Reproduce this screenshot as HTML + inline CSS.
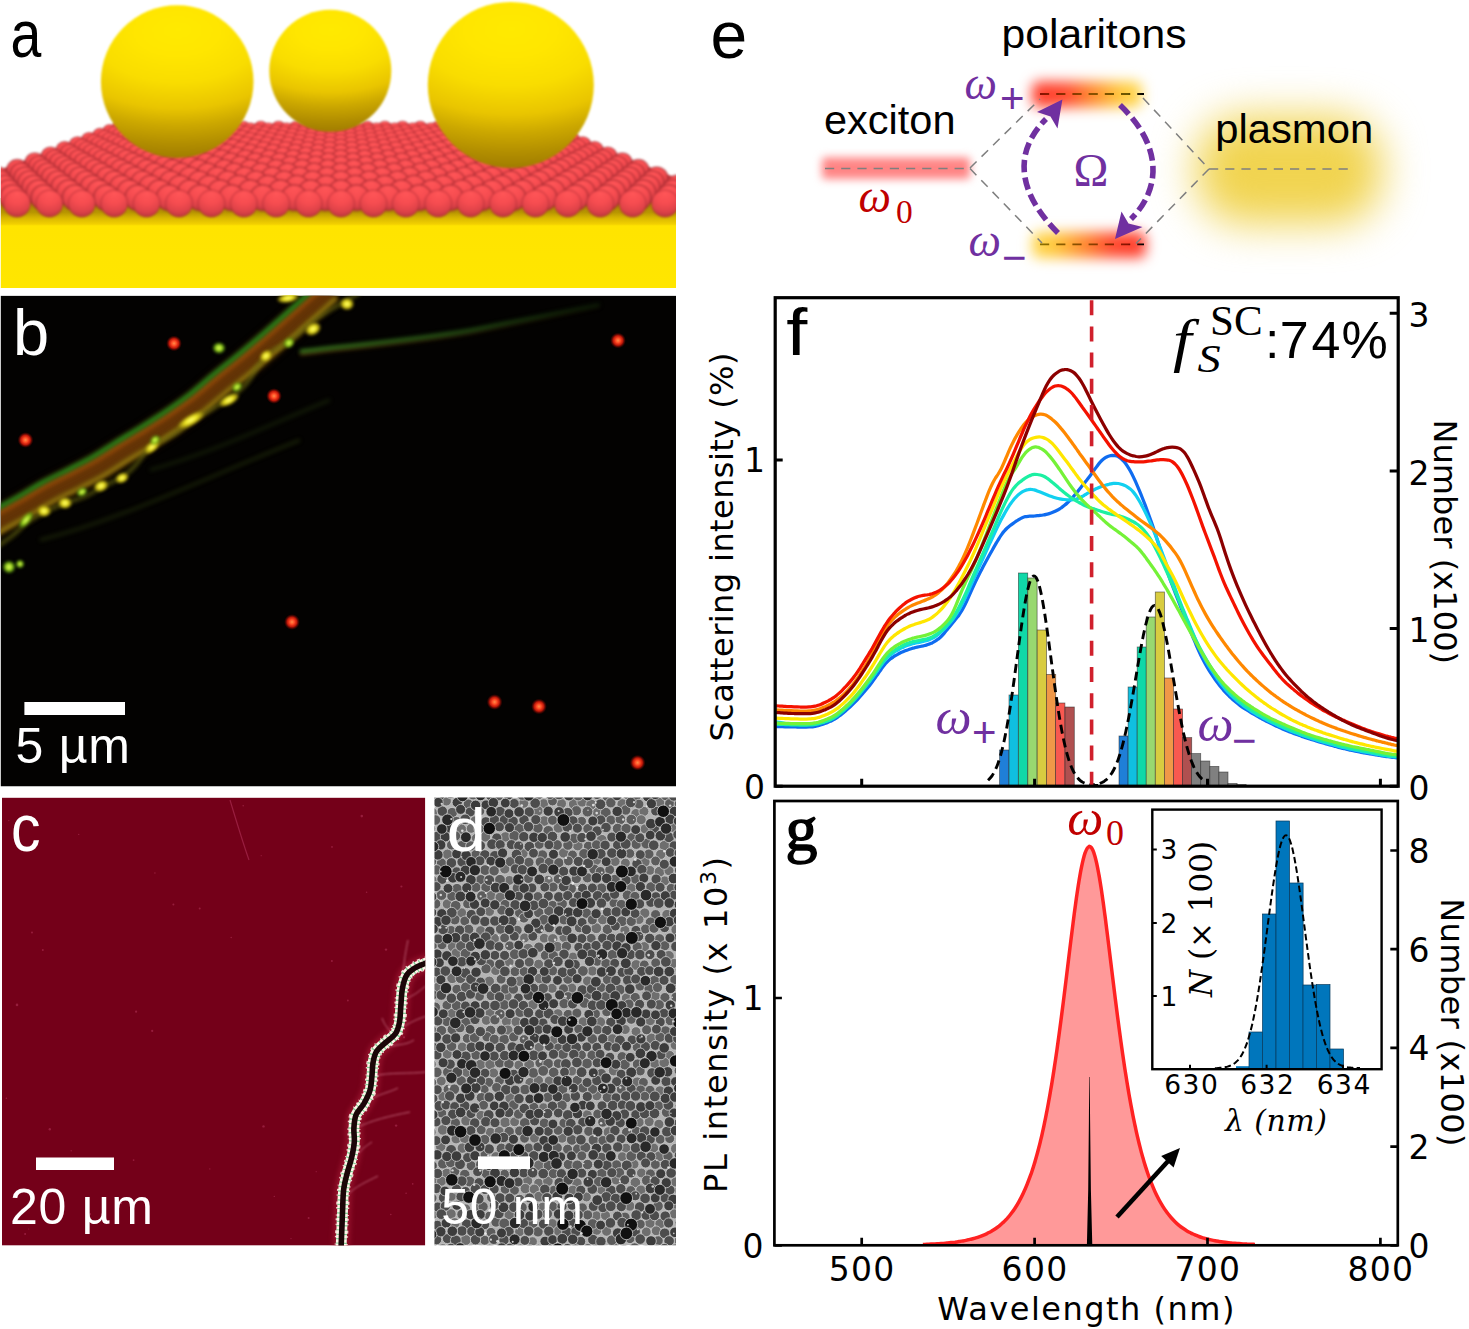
<!DOCTYPE html>
<html lang="en"><head><meta charset="utf-8"><title>Figure</title>
<style>
html,body{margin:0;padding:0;background:#fff}
svg{display:block}
filter,feGaussianBlur{color-interpolation-filters:sRGB}
.ls{font-family:"Liberation Sans",sans-serif}
.dv{font-family:"DejaVu Sans","Liberation Sans",sans-serif}
.se{font-family:"Liberation Serif","DejaVu Serif",serif}
.si{font-family:"Liberation Serif","DejaVu Serif",serif;font-style:italic}
.ds{font-family:"DejaVu Serif","Liberation Serif",serif}
.di{font-family:"DejaVu Serif","Liberation Serif",serif;font-style:italic}
</style></head><body>
<svg width="1469" height="1329" viewBox="0 0 1469 1329">
<defs>
<radialGradient id="rs" cx="0.5" cy="0.18" r="0.92" fx="0.5" fy="0.12">
<stop offset="0" stop-color="#ff5557"/><stop offset="0.4" stop-color="#f64c50"/><stop offset="0.7" stop-color="#de4248"/><stop offset="0.9" stop-color="#bc363e"/><stop offset="1" stop-color="#a02c34"/></radialGradient>
<radialGradient id="gs" cx="0.5" cy="0.22" r="0.80" fx="0.5" fy="0.16" gradientTransform="translate(0.5 0) scale(1.7 1) translate(-0.5 0)">
<stop offset="0" stop-color="#ffea00"/><stop offset="0.2" stop-color="#ffe600"/><stop offset="0.4" stop-color="#f9dd00"/><stop offset="0.6" stop-color="#e9c500"/><stop offset="0.73" stop-color="#cca800"/><stop offset="0.87" stop-color="#b28e00"/><stop offset="0.98" stop-color="#a07c00"/></radialGradient>
<radialGradient id="gs2" cx="0.5" cy="0.42" r="0.58">
<stop offset="0.7" stop-color="#a87800" stop-opacity="0"/><stop offset="0.92" stop-color="#a87800" stop-opacity="0.16"/><stop offset="1" stop-color="#9c6c00" stop-opacity="0.34"/></radialGradient>
<linearGradient id="slab" gradientUnits="userSpaceOnUse" x1="0" y1="198" x2="0" y2="288">
<stop offset="0" stop-color="#9c7c00"/><stop offset="0.16" stop-color="#b89600"/><stop offset="0.22" stop-color="#d8b600"/><stop offset="0.29" stop-color="#f2d000"/><stop offset="0.31" stop-color="#ffe400"/><stop offset="1" stop-color="#ffe600"/></linearGradient>
<clipPath id="ca"><rect x="0.8" y="0" width="675.2" height="287.9"/></clipPath>
<filter id="b1" x="-10%" y="-10%" width="120%" height="120%"><feGaussianBlur stdDeviation="0.9"/></filter>
<filter id="bsh" x="-30%" y="-60%" width="160%" height="220%"><feGaussianBlur stdDeviation="5"/></filter>

<clipPath id="cb"><rect x="0.8" y="295.7" width="675.2" height="490.9"/></clipPath>
<filter id="bb2" x="-20%" y="-20%" width="140%" height="140%"><feGaussianBlur stdDeviation="2.2"/></filter>
<filter id="bb1" x="-20%" y="-20%" width="140%" height="140%"><feGaussianBlur stdDeviation="1.5"/></filter>
<filter id="bb4" x="-20%" y="-20%" width="140%" height="140%"><feGaussianBlur stdDeviation="1.8"/></filter>
<filter id="bb3" x="-20%" y="-20%" width="140%" height="140%"><feGaussianBlur stdDeviation="3.5"/></filter>
<linearGradient id="brf" gradientUnits="userSpaceOnUse" x1="300" y1="0" x2="600" y2="0"><stop offset="0" stop-color="#3a8420"/><stop offset="0.5" stop-color="#2c6a1a" stop-opacity="0.85"/><stop offset="1" stop-color="#1c4410" stop-opacity="0.4"/></linearGradient>
<linearGradient id="brf2" gradientUnits="userSpaceOnUse" x1="300" y1="0" x2="600" y2="0"><stop offset="0" stop-color="#6a400c"/><stop offset="0.5" stop-color="#4a300a" stop-opacity="0.7"/><stop offset="1" stop-color="#2a1c06" stop-opacity="0.2"/></linearGradient>
<radialGradient id="rd"><stop offset="0" stop-color="#ff8c48"/><stop offset="0.3" stop-color="#ff4a24"/><stop offset="0.6" stop-color="#e01c0a" stop-opacity="0.85"/><stop offset="1" stop-color="#700000" stop-opacity="0"/></radialGradient>
<radialGradient id="yd"><stop offset="0" stop-color="#ffff8a"/><stop offset="0.4" stop-color="#f4ec24"/><stop offset="0.75" stop-color="#b0a010" stop-opacity="0.8"/><stop offset="1" stop-color="#605000" stop-opacity="0"/></radialGradient>
<radialGradient id="gd"><stop offset="0" stop-color="#e8ff70"/><stop offset="0.45" stop-color="#a8e020"/><stop offset="0.8" stop-color="#509010" stop-opacity="0.7"/><stop offset="1" stop-color="#204000" stop-opacity="0"/></radialGradient>

<clipPath id="cc"><rect x="2" y="797.6" width="423.3" height="448"/></clipPath>
<clipPath id="cd"><rect x="434.5" y="797.6" width="241.5" height="447.6"/></clipPath>
<filter id="bc1" x="-50%" y="-10%" width="200%" height="120%"><feGaussianBlur stdDeviation="0.8"/></filter>
<filter id="bc2" x="-50%" y="-10%" width="200%" height="120%"><feGaussianBlur stdDeviation="2.5"/></filter>
<filter id="bc0" x="-50%" y="-10%" width="200%" height="120%"><feGaussianBlur stdDeviation="0.5"/></filter>
<filter id="bd1" x="0" y="0" width="100%" height="100%"><feGaussianBlur stdDeviation="0.65"/></filter>

<filter id="be1" x="-20%" y="-120%" width="140%" height="340%"><feGaussianBlur stdDeviation="4.4"/></filter>
<filter id="be2" x="-60%" y="-100%" width="220%" height="300%"><feGaussianBlur stdDeviation="21"/></filter>
<filter id="be3" x="-30%" y="-150%" width="160%" height="400%"><feGaussianBlur stdDeviation="6.2"/></filter>
<linearGradient id="gtop" x1="0" y1="0" x2="1" y2="0"><stop offset="0" stop-color="#ff3c2c"/><stop offset="0.3" stop-color="#ff4a30"/><stop offset="0.55" stop-color="#ff8c30"/><stop offset="0.8" stop-color="#ffc83c"/><stop offset="1" stop-color="#ffd850"/></linearGradient>
<linearGradient id="gbot" x1="1" y1="0" x2="0" y2="0"><stop offset="0" stop-color="#ff3c2c"/><stop offset="0.3" stop-color="#ff4a30"/><stop offset="0.55" stop-color="#ff8c30"/><stop offset="0.8" stop-color="#ffc83c"/><stop offset="1" stop-color="#ffd850"/></linearGradient>
<linearGradient id="gl1" gradientUnits="userSpaceOnUse" x1="1040" y1="0" x2="1143" y2="0"><stop offset="0" stop-color="#8a1000"/><stop offset="0.5" stop-color="#8a5000"/><stop offset="0.85" stop-color="#6a5800"/><stop offset="1" stop-color="#000"/></linearGradient>
<linearGradient id="gl2" gradientUnits="userSpaceOnUse" x1="1040" y1="0" x2="1143" y2="0"><stop offset="0" stop-color="#8a7000"/><stop offset="0.5" stop-color="#8a4000"/><stop offset="0.85" stop-color="#8a1000"/><stop offset="1" stop-color="#000"/></linearGradient>

<clipPath id="cf"><rect x="775.2" y="297.7" width="623" height="488.5"/></clipPath>
<clipPath id="cg"><rect x="774.4" y="801" width="623.4" height="444.3"/></clipPath>
</defs>
<rect width="1469" height="1329" fill="#fff"/>
<g id="panel-a">
<g clip-path="url(#ca)">
<rect x="0" y="198" width="676" height="90" fill="url(#slab)"/>
<g filter="url(#b1)">
<path d="M110.1 128.5 L553.2 128.5 L729.8 199.5 L-80.2 199.5 Z" fill="#c83c42"/>
<g fill="#7a1c24" opacity="0.55" filter="url(#bsh)"><ellipse cx="180" cy="158" rx="60" ry="9"/><ellipse cx="331" cy="134" rx="48" ry="6"/><ellipse cx="512" cy="168" rx="66" ry="10"/></g>
<g fill="url(#rs)" stroke="#98262e" stroke-opacity="0.42" stroke-width="1.3"><circle cx="119" cy="128.5" r="7.3"/><circle cx="136.7" cy="128.5" r="7.3"/><circle cx="154.4" cy="128.5" r="7.3"/><circle cx="172.2" cy="128.5" r="7.3"/><circle cx="189.9" cy="128.5" r="7.3"/><circle cx="207.6" cy="128.5" r="7.3"/><circle cx="225.3" cy="128.5" r="7.3"/><circle cx="243.1" cy="128.5" r="7.3"/><circle cx="260.8" cy="128.5" r="7.3"/><circle cx="278.5" cy="128.5" r="7.3"/><circle cx="296.2" cy="128.5" r="7.3"/><circle cx="314" cy="128.5" r="7.3"/><circle cx="331.7" cy="128.5" r="7.3"/><circle cx="349.4" cy="128.5" r="7.3"/><circle cx="367.1" cy="128.5" r="7.3"/><circle cx="384.9" cy="128.5" r="7.3"/><circle cx="402.6" cy="128.5" r="7.3"/><circle cx="420.3" cy="128.5" r="7.3"/><circle cx="438" cy="128.5" r="7.3"/><circle cx="455.8" cy="128.5" r="7.3"/><circle cx="473.5" cy="128.5" r="7.3"/><circle cx="491.2" cy="128.5" r="7.3"/><circle cx="508.9" cy="128.5" r="7.3"/><circle cx="526.7" cy="128.5" r="7.3"/><circle cx="544.4" cy="128.5" r="7.3"/></g>
<g fill="url(#rs)" stroke="#98262e" stroke-opacity="0.42" stroke-width="1.3"><circle cx="123.6" cy="130.4" r="7.5"/><circle cx="141.7" cy="130.4" r="7.5"/><circle cx="159.8" cy="130.4" r="7.5"/><circle cx="177.8" cy="130.4" r="7.5"/><circle cx="195.9" cy="130.4" r="7.5"/><circle cx="214" cy="130.4" r="7.5"/><circle cx="232.1" cy="130.4" r="7.5"/><circle cx="250.2" cy="130.4" r="7.5"/><circle cx="268.2" cy="130.4" r="7.5"/><circle cx="286.3" cy="130.4" r="7.5"/><circle cx="304.4" cy="130.4" r="7.5"/><circle cx="322.5" cy="130.4" r="7.5"/><circle cx="340.6" cy="130.4" r="7.5"/><circle cx="358.6" cy="130.4" r="7.5"/><circle cx="376.7" cy="130.4" r="7.5"/><circle cx="394.8" cy="130.4" r="7.5"/><circle cx="412.9" cy="130.4" r="7.5"/><circle cx="431" cy="130.4" r="7.5"/><circle cx="449" cy="130.4" r="7.5"/><circle cx="467.1" cy="130.4" r="7.5"/><circle cx="485.2" cy="130.4" r="7.5"/><circle cx="503.3" cy="130.4" r="7.5"/><circle cx="521.4" cy="130.4" r="7.5"/><circle cx="539.4" cy="130.4" r="7.5"/></g>
<g fill="url(#rs)" stroke="#98262e" stroke-opacity="0.42" stroke-width="1.4"><circle cx="109.9" cy="132.2" r="7.6"/><circle cx="128.4" cy="132.2" r="7.6"/><circle cx="146.8" cy="132.2" r="7.6"/><circle cx="165.3" cy="132.2" r="7.6"/><circle cx="183.7" cy="132.2" r="7.6"/><circle cx="202.2" cy="132.2" r="7.6"/><circle cx="220.6" cy="132.2" r="7.6"/><circle cx="239.1" cy="132.2" r="7.6"/><circle cx="257.5" cy="132.2" r="7.6"/><circle cx="276" cy="132.2" r="7.6"/><circle cx="294.4" cy="132.2" r="7.6"/><circle cx="312.9" cy="132.2" r="7.6"/><circle cx="331.3" cy="132.2" r="7.6"/><circle cx="349.8" cy="132.2" r="7.6"/><circle cx="368.2" cy="132.2" r="7.6"/><circle cx="386.7" cy="132.2" r="7.6"/><circle cx="405.1" cy="132.2" r="7.6"/><circle cx="423.6" cy="132.2" r="7.6"/><circle cx="442.1" cy="132.2" r="7.6"/><circle cx="460.5" cy="132.2" r="7.6"/><circle cx="479" cy="132.2" r="7.6"/><circle cx="497.4" cy="132.2" r="7.6"/><circle cx="515.9" cy="132.2" r="7.6"/><circle cx="534.3" cy="132.2" r="7.6"/><circle cx="552.8" cy="132.2" r="7.6"/></g>
<g fill="url(#rs)" stroke="#98262e" stroke-opacity="0.42" stroke-width="1.4"><circle cx="114.5" cy="134.2" r="7.8"/><circle cx="133.4" cy="134.2" r="7.8"/><circle cx="152.2" cy="134.2" r="7.8"/><circle cx="171" cy="134.2" r="7.8"/><circle cx="189.9" cy="134.2" r="7.8"/><circle cx="208.7" cy="134.2" r="7.8"/><circle cx="227.6" cy="134.2" r="7.8"/><circle cx="246.4" cy="134.2" r="7.8"/><circle cx="265.2" cy="134.2" r="7.8"/><circle cx="284.1" cy="134.2" r="7.8"/><circle cx="302.9" cy="134.2" r="7.8"/><circle cx="321.7" cy="134.2" r="7.8"/><circle cx="340.6" cy="134.2" r="7.8"/><circle cx="359.4" cy="134.2" r="7.8"/><circle cx="378.3" cy="134.2" r="7.8"/><circle cx="397.1" cy="134.2" r="7.8"/><circle cx="415.9" cy="134.2" r="7.8"/><circle cx="434.8" cy="134.2" r="7.8"/><circle cx="453.6" cy="134.2" r="7.8"/><circle cx="472.4" cy="134.2" r="7.8"/><circle cx="491.3" cy="134.2" r="7.8"/><circle cx="510.1" cy="134.2" r="7.8"/><circle cx="529" cy="134.2" r="7.8"/><circle cx="547.8" cy="134.2" r="7.8"/></g>
<g fill="url(#rs)" stroke="#98262e" stroke-opacity="0.42" stroke-width="1.4"><circle cx="100.1" cy="136.3" r="8"/><circle cx="119.3" cy="136.3" r="8"/><circle cx="138.6" cy="136.3" r="8"/><circle cx="157.8" cy="136.3" r="8"/><circle cx="177.1" cy="136.3" r="8"/><circle cx="196.3" cy="136.3" r="8"/><circle cx="215.5" cy="136.3" r="8"/><circle cx="234.8" cy="136.3" r="8"/><circle cx="254" cy="136.3" r="8"/><circle cx="273.3" cy="136.3" r="8"/><circle cx="292.5" cy="136.3" r="8"/><circle cx="311.7" cy="136.3" r="8"/><circle cx="331" cy="136.3" r="8"/><circle cx="350.2" cy="136.3" r="8"/><circle cx="369.5" cy="136.3" r="8"/><circle cx="388.7" cy="136.3" r="8"/><circle cx="407.9" cy="136.3" r="8"/><circle cx="427.2" cy="136.3" r="8"/><circle cx="446.4" cy="136.3" r="8"/><circle cx="465.7" cy="136.3" r="8"/><circle cx="484.9" cy="136.3" r="8"/><circle cx="504.1" cy="136.3" r="8"/><circle cx="523.4" cy="136.3" r="8"/><circle cx="542.6" cy="136.3" r="8"/><circle cx="561.9" cy="136.3" r="8"/></g>
<g fill="url(#rs)" stroke="#98262e" stroke-opacity="0.42" stroke-width="1.5"><circle cx="104.7" cy="138.4" r="8.1"/><circle cx="124.3" cy="138.4" r="8.1"/><circle cx="144" cy="138.4" r="8.1"/><circle cx="163.7" cy="138.4" r="8.1"/><circle cx="183.3" cy="138.4" r="8.1"/><circle cx="203" cy="138.4" r="8.1"/><circle cx="222.6" cy="138.4" r="8.1"/><circle cx="242.3" cy="138.4" r="8.1"/><circle cx="262" cy="138.4" r="8.1"/><circle cx="281.6" cy="138.4" r="8.1"/><circle cx="301.3" cy="138.4" r="8.1"/><circle cx="320.9" cy="138.4" r="8.1"/><circle cx="340.6" cy="138.4" r="8.1"/><circle cx="360.3" cy="138.4" r="8.1"/><circle cx="379.9" cy="138.4" r="8.1"/><circle cx="399.6" cy="138.4" r="8.1"/><circle cx="419.2" cy="138.4" r="8.1"/><circle cx="438.9" cy="138.4" r="8.1"/><circle cx="458.6" cy="138.4" r="8.1"/><circle cx="478.2" cy="138.4" r="8.1"/><circle cx="497.9" cy="138.4" r="8.1"/><circle cx="517.5" cy="138.4" r="8.1"/><circle cx="537.2" cy="138.4" r="8.1"/><circle cx="556.9" cy="138.4" r="8.1"/></g>
<g fill="url(#rs)" stroke="#98262e" stroke-opacity="0.42" stroke-width="1.5"><circle cx="89.4" cy="140.7" r="8.3"/><circle cx="109.5" cy="140.7" r="8.3"/><circle cx="129.6" cy="140.7" r="8.3"/><circle cx="149.7" cy="140.7" r="8.3"/><circle cx="169.8" cy="140.7" r="8.3"/><circle cx="189.9" cy="140.7" r="8.3"/><circle cx="210" cy="140.7" r="8.3"/><circle cx="230.1" cy="140.7" r="8.3"/><circle cx="250.2" cy="140.7" r="8.3"/><circle cx="270.3" cy="140.7" r="8.3"/><circle cx="290.4" cy="140.7" r="8.3"/><circle cx="310.5" cy="140.7" r="8.3"/><circle cx="330.6" cy="140.7" r="8.3"/><circle cx="350.7" cy="140.7" r="8.3"/><circle cx="370.8" cy="140.7" r="8.3"/><circle cx="390.9" cy="140.7" r="8.3"/><circle cx="411" cy="140.7" r="8.3"/><circle cx="431.1" cy="140.7" r="8.3"/><circle cx="451.2" cy="140.7" r="8.3"/><circle cx="471.3" cy="140.7" r="8.3"/><circle cx="491.4" cy="140.7" r="8.3"/><circle cx="511.5" cy="140.7" r="8.3"/><circle cx="531.6" cy="140.7" r="8.3"/><circle cx="551.7" cy="140.7" r="8.3"/><circle cx="571.8" cy="140.7" r="8.3"/></g>
<g fill="url(#rs)" stroke="#98262e" stroke-opacity="0.42" stroke-width="1.5"><circle cx="93.9" cy="143" r="8.5"/><circle cx="114.5" cy="143" r="8.5"/><circle cx="135.1" cy="143" r="8.5"/><circle cx="155.6" cy="143" r="8.5"/><circle cx="176.2" cy="143" r="8.5"/><circle cx="196.7" cy="143" r="8.5"/><circle cx="217.3" cy="143" r="8.5"/><circle cx="237.8" cy="143" r="8.5"/><circle cx="258.4" cy="143" r="8.5"/><circle cx="279" cy="143" r="8.5"/><circle cx="299.5" cy="143" r="8.5"/><circle cx="320.1" cy="143" r="8.5"/><circle cx="340.6" cy="143" r="8.5"/><circle cx="361.2" cy="143" r="8.5"/><circle cx="381.8" cy="143" r="8.5"/><circle cx="402.3" cy="143" r="8.5"/><circle cx="422.9" cy="143" r="8.5"/><circle cx="443.4" cy="143" r="8.5"/><circle cx="464" cy="143" r="8.5"/><circle cx="484.5" cy="143" r="8.5"/><circle cx="505.1" cy="143" r="8.5"/><circle cx="525.7" cy="143" r="8.5"/><circle cx="546.2" cy="143" r="8.5"/><circle cx="566.8" cy="143" r="8.5"/></g>
<g fill="url(#rs)" stroke="#98262e" stroke-opacity="0.42" stroke-width="1.6"><circle cx="77.7" cy="145.5" r="8.7"/><circle cx="98.7" cy="145.5" r="8.7"/><circle cx="119.7" cy="145.5" r="8.7"/><circle cx="140.8" cy="145.5" r="8.7"/><circle cx="161.8" cy="145.5" r="8.7"/><circle cx="182.9" cy="145.5" r="8.7"/><circle cx="203.9" cy="145.5" r="8.7"/><circle cx="224.9" cy="145.5" r="8.7"/><circle cx="246" cy="145.5" r="8.7"/><circle cx="267" cy="145.5" r="8.7"/><circle cx="288.1" cy="145.5" r="8.7"/><circle cx="309.1" cy="145.5" r="8.7"/><circle cx="330.1" cy="145.5" r="8.7"/><circle cx="351.2" cy="145.5" r="8.7"/><circle cx="372.2" cy="145.5" r="8.7"/><circle cx="393.2" cy="145.5" r="8.7"/><circle cx="414.3" cy="145.5" r="8.7"/><circle cx="435.3" cy="145.5" r="8.7"/><circle cx="456.4" cy="145.5" r="8.7"/><circle cx="477.4" cy="145.5" r="8.7"/><circle cx="498.4" cy="145.5" r="8.7"/><circle cx="519.5" cy="145.5" r="8.7"/><circle cx="540.5" cy="145.5" r="8.7"/><circle cx="561.6" cy="145.5" r="8.7"/><circle cx="582.6" cy="145.5" r="8.7"/></g>
<g fill="url(#rs)" stroke="#98262e" stroke-opacity="0.42" stroke-width="1.6"><circle cx="82.2" cy="148" r="8.9"/><circle cx="103.7" cy="148" r="8.9"/><circle cx="125.2" cy="148" r="8.9"/><circle cx="146.8" cy="148" r="8.9"/><circle cx="168.3" cy="148" r="8.9"/><circle cx="189.9" cy="148" r="8.9"/><circle cx="211.4" cy="148" r="8.9"/><circle cx="233" cy="148" r="8.9"/><circle cx="254.5" cy="148" r="8.9"/><circle cx="276" cy="148" r="8.9"/><circle cx="297.6" cy="148" r="8.9"/><circle cx="319.1" cy="148" r="8.9"/><circle cx="340.7" cy="148" r="8.9"/><circle cx="362.2" cy="148" r="8.9"/><circle cx="383.8" cy="148" r="8.9"/><circle cx="405.3" cy="148" r="8.9"/><circle cx="426.8" cy="148" r="8.9"/><circle cx="448.4" cy="148" r="8.9"/><circle cx="469.9" cy="148" r="8.9"/><circle cx="491.5" cy="148" r="8.9"/><circle cx="513" cy="148" r="8.9"/><circle cx="534.5" cy="148" r="8.9"/><circle cx="556.1" cy="148" r="8.9"/><circle cx="577.6" cy="148" r="8.9"/></g>
<g fill="url(#rs)" stroke="#98262e" stroke-opacity="0.42" stroke-width="1.6"><circle cx="64.8" cy="150.7" r="9.1"/><circle cx="86.9" cy="150.7" r="9.1"/><circle cx="108.9" cy="150.7" r="9.1"/><circle cx="131" cy="150.7" r="9.1"/><circle cx="153.1" cy="150.7" r="9.1"/><circle cx="175.1" cy="150.7" r="9.1"/><circle cx="197.2" cy="150.7" r="9.1"/><circle cx="219.3" cy="150.7" r="9.1"/><circle cx="241.4" cy="150.7" r="9.1"/><circle cx="263.4" cy="150.7" r="9.1"/><circle cx="285.5" cy="150.7" r="9.1"/><circle cx="307.6" cy="150.7" r="9.1"/><circle cx="329.6" cy="150.7" r="9.1"/><circle cx="351.7" cy="150.7" r="9.1"/><circle cx="373.8" cy="150.7" r="9.1"/><circle cx="395.9" cy="150.7" r="9.1"/><circle cx="417.9" cy="150.7" r="9.1"/><circle cx="440" cy="150.7" r="9.1"/><circle cx="462.1" cy="150.7" r="9.1"/><circle cx="484.1" cy="150.7" r="9.1"/><circle cx="506.2" cy="150.7" r="9.1"/><circle cx="528.3" cy="150.7" r="9.1"/><circle cx="550.4" cy="150.7" r="9.1"/><circle cx="572.4" cy="150.7" r="9.1"/><circle cx="594.5" cy="150.7" r="9.1"/></g>
<g fill="url(#rs)" stroke="#98262e" stroke-opacity="0.42" stroke-width="1.7"><circle cx="69.2" cy="153.6" r="9.4"/><circle cx="91.8" cy="153.6" r="9.4"/><circle cx="114.4" cy="153.6" r="9.4"/><circle cx="137.1" cy="153.6" r="9.4"/><circle cx="159.7" cy="153.6" r="9.4"/><circle cx="182.3" cy="153.6" r="9.4"/><circle cx="204.9" cy="153.6" r="9.4"/><circle cx="227.6" cy="153.6" r="9.4"/><circle cx="250.2" cy="153.6" r="9.4"/><circle cx="272.8" cy="153.6" r="9.4"/><circle cx="295.4" cy="153.6" r="9.4"/><circle cx="318.1" cy="153.6" r="9.4"/><circle cx="340.7" cy="153.6" r="9.4"/><circle cx="363.3" cy="153.6" r="9.4"/><circle cx="385.9" cy="153.6" r="9.4"/><circle cx="408.6" cy="153.6" r="9.4"/><circle cx="431.2" cy="153.6" r="9.4"/><circle cx="453.8" cy="153.6" r="9.4"/><circle cx="476.5" cy="153.6" r="9.4"/><circle cx="499.1" cy="153.6" r="9.4"/><circle cx="521.7" cy="153.6" r="9.4"/><circle cx="544.3" cy="153.6" r="9.4"/><circle cx="567" cy="153.6" r="9.4"/><circle cx="589.6" cy="153.6" r="9.4"/></g>
<g fill="url(#rs)" stroke="#98262e" stroke-opacity="0.42" stroke-width="1.7"><circle cx="50.6" cy="156.6" r="9.6"/><circle cx="73.8" cy="156.6" r="9.6"/><circle cx="97" cy="156.6" r="9.6"/><circle cx="120.2" cy="156.6" r="9.6"/><circle cx="143.4" cy="156.6" r="9.6"/><circle cx="166.6" cy="156.6" r="9.6"/><circle cx="189.9" cy="156.6" r="9.6"/><circle cx="213.1" cy="156.6" r="9.6"/><circle cx="236.3" cy="156.6" r="9.6"/><circle cx="259.5" cy="156.6" r="9.6"/><circle cx="282.7" cy="156.6" r="9.6"/><circle cx="305.9" cy="156.6" r="9.6"/><circle cx="329.1" cy="156.6" r="9.6"/><circle cx="352.3" cy="156.6" r="9.6"/><circle cx="375.5" cy="156.6" r="9.6"/><circle cx="398.7" cy="156.6" r="9.6"/><circle cx="421.9" cy="156.6" r="9.6"/><circle cx="445.2" cy="156.6" r="9.6"/><circle cx="468.4" cy="156.6" r="9.6"/><circle cx="491.6" cy="156.6" r="9.6"/><circle cx="514.8" cy="156.6" r="9.6"/><circle cx="538" cy="156.6" r="9.6"/><circle cx="561.2" cy="156.6" r="9.6"/><circle cx="584.4" cy="156.6" r="9.6"/><circle cx="607.6" cy="156.6" r="9.6"/></g>
<g fill="url(#rs)" stroke="#98262e" stroke-opacity="0.42" stroke-width="1.8"><circle cx="54.9" cy="159.7" r="9.9"/><circle cx="78.7" cy="159.7" r="9.9"/><circle cx="102.5" cy="159.7" r="9.9"/><circle cx="126.3" cy="159.7" r="9.9"/><circle cx="150.1" cy="159.7" r="9.9"/><circle cx="174" cy="159.7" r="9.9"/><circle cx="197.8" cy="159.7" r="9.9"/><circle cx="221.6" cy="159.7" r="9.9"/><circle cx="245.4" cy="159.7" r="9.9"/><circle cx="269.3" cy="159.7" r="9.9"/><circle cx="293.1" cy="159.7" r="9.9"/><circle cx="316.9" cy="159.7" r="9.9"/><circle cx="340.7" cy="159.7" r="9.9"/><circle cx="364.6" cy="159.7" r="9.9"/><circle cx="388.4" cy="159.7" r="9.9"/><circle cx="412.2" cy="159.7" r="9.9"/><circle cx="436" cy="159.7" r="9.9"/><circle cx="459.9" cy="159.7" r="9.9"/><circle cx="483.7" cy="159.7" r="9.9"/><circle cx="507.5" cy="159.7" r="9.9"/><circle cx="531.3" cy="159.7" r="9.9"/><circle cx="555.1" cy="159.7" r="9.9"/><circle cx="579" cy="159.7" r="9.9"/><circle cx="602.8" cy="159.7" r="9.9"/></g>
<g fill="url(#rs)" stroke="#98262e" stroke-opacity="0.42" stroke-width="1.8"><circle cx="34.9" cy="163" r="10.1"/><circle cx="59.3" cy="163" r="10.1"/><circle cx="83.8" cy="163" r="10.1"/><circle cx="108.3" cy="163" r="10.1"/><circle cx="132.7" cy="163" r="10.1"/><circle cx="157.2" cy="163" r="10.1"/><circle cx="181.7" cy="163" r="10.1"/><circle cx="206.2" cy="163" r="10.1"/><circle cx="230.6" cy="163" r="10.1"/><circle cx="255.1" cy="163" r="10.1"/><circle cx="279.6" cy="163" r="10.1"/><circle cx="304" cy="163" r="10.1"/><circle cx="328.5" cy="163" r="10.1"/><circle cx="353" cy="163" r="10.1"/><circle cx="377.5" cy="163" r="10.1"/><circle cx="401.9" cy="163" r="10.1"/><circle cx="426.4" cy="163" r="10.1"/><circle cx="450.9" cy="163" r="10.1"/><circle cx="475.3" cy="163" r="10.1"/><circle cx="499.8" cy="163" r="10.1"/><circle cx="524.3" cy="163" r="10.1"/><circle cx="548.8" cy="163" r="10.1"/><circle cx="573.2" cy="163" r="10.1"/><circle cx="597.7" cy="163" r="10.1"/><circle cx="622.2" cy="163" r="10.1"/></g>
<g fill="url(#rs)" stroke="#98262e" stroke-opacity="0.42" stroke-width="1.9"><circle cx="38.9" cy="166.5" r="10.4"/><circle cx="64.1" cy="166.5" r="10.4"/><circle cx="89.2" cy="166.5" r="10.4"/><circle cx="114.4" cy="166.5" r="10.4"/><circle cx="139.5" cy="166.5" r="10.4"/><circle cx="164.7" cy="166.5" r="10.4"/><circle cx="189.8" cy="166.5" r="10.4"/><circle cx="215" cy="166.5" r="10.4"/><circle cx="240.2" cy="166.5" r="10.4"/><circle cx="265.3" cy="166.5" r="10.4"/><circle cx="290.5" cy="166.5" r="10.4"/><circle cx="315.6" cy="166.5" r="10.4"/><circle cx="340.8" cy="166.5" r="10.4"/><circle cx="365.9" cy="166.5" r="10.4"/><circle cx="391.1" cy="166.5" r="10.4"/><circle cx="416.2" cy="166.5" r="10.4"/><circle cx="441.4" cy="166.5" r="10.4"/><circle cx="466.6" cy="166.5" r="10.4"/><circle cx="491.7" cy="166.5" r="10.4"/><circle cx="516.9" cy="166.5" r="10.4"/><circle cx="542" cy="166.5" r="10.4"/><circle cx="567.2" cy="166.5" r="10.4"/><circle cx="592.3" cy="166.5" r="10.4"/><circle cx="617.5" cy="166.5" r="10.4"/></g>
<g fill="url(#rs)" stroke="#98262e" stroke-opacity="0.42" stroke-width="1.9"><circle cx="17.3" cy="170.2" r="10.7"/><circle cx="43.2" cy="170.2" r="10.7"/><circle cx="69.1" cy="170.2" r="10.7"/><circle cx="95" cy="170.2" r="10.7"/><circle cx="120.8" cy="170.2" r="10.7"/><circle cx="146.7" cy="170.2" r="10.7"/><circle cx="172.6" cy="170.2" r="10.7"/><circle cx="198.5" cy="170.2" r="10.7"/><circle cx="224.3" cy="170.2" r="10.7"/><circle cx="250.2" cy="170.2" r="10.7"/><circle cx="276.1" cy="170.2" r="10.7"/><circle cx="302" cy="170.2" r="10.7"/><circle cx="327.9" cy="170.2" r="10.7"/><circle cx="353.7" cy="170.2" r="10.7"/><circle cx="379.6" cy="170.2" r="10.7"/><circle cx="405.5" cy="170.2" r="10.7"/><circle cx="431.4" cy="170.2" r="10.7"/><circle cx="457.3" cy="170.2" r="10.7"/><circle cx="483.1" cy="170.2" r="10.7"/><circle cx="509" cy="170.2" r="10.7"/><circle cx="534.9" cy="170.2" r="10.7"/><circle cx="560.8" cy="170.2" r="10.7"/><circle cx="586.6" cy="170.2" r="10.7"/><circle cx="612.5" cy="170.2" r="10.7"/><circle cx="638.4" cy="170.2" r="10.7"/></g>
<g fill="url(#rs)" stroke="#98262e" stroke-opacity="0.42" stroke-width="2"><circle cx="21.1" cy="174.1" r="11"/><circle cx="47.7" cy="174.1" r="11"/><circle cx="74.4" cy="174.1" r="11"/><circle cx="101" cy="174.1" r="11"/><circle cx="127.7" cy="174.1" r="11"/><circle cx="154.3" cy="174.1" r="11"/><circle cx="181" cy="174.1" r="11"/><circle cx="207.6" cy="174.1" r="11"/><circle cx="234.2" cy="174.1" r="11"/><circle cx="260.9" cy="174.1" r="11"/><circle cx="287.5" cy="174.1" r="11"/><circle cx="314.2" cy="174.1" r="11"/><circle cx="340.8" cy="174.1" r="11"/><circle cx="367.5" cy="174.1" r="11"/><circle cx="394.1" cy="174.1" r="11"/><circle cx="420.8" cy="174.1" r="11"/><circle cx="447.4" cy="174.1" r="11"/><circle cx="474" cy="174.1" r="11"/><circle cx="500.7" cy="174.1" r="11"/><circle cx="527.3" cy="174.1" r="11"/><circle cx="554" cy="174.1" r="11"/><circle cx="580.6" cy="174.1" r="11"/><circle cx="607.3" cy="174.1" r="11"/><circle cx="633.9" cy="174.1" r="11"/></g>
<g fill="url(#rs)" stroke="#98262e" stroke-opacity="0.42" stroke-width="2"><circle cx="-2.4" cy="178.3" r="11.4"/><circle cx="25.1" cy="178.3" r="11.4"/><circle cx="52.5" cy="178.3" r="11.4"/><circle cx="80" cy="178.3" r="11.4"/><circle cx="107.5" cy="178.3" r="11.4"/><circle cx="134.9" cy="178.3" r="11.4"/><circle cx="162.4" cy="178.3" r="11.4"/><circle cx="189.8" cy="178.3" r="11.4"/><circle cx="217.3" cy="178.3" r="11.4"/><circle cx="244.7" cy="178.3" r="11.4"/><circle cx="272.2" cy="178.3" r="11.4"/><circle cx="299.7" cy="178.3" r="11.4"/><circle cx="327.1" cy="178.3" r="11.4"/><circle cx="354.6" cy="178.3" r="11.4"/><circle cx="382" cy="178.3" r="11.4"/><circle cx="409.5" cy="178.3" r="11.4"/><circle cx="436.9" cy="178.3" r="11.4"/><circle cx="464.4" cy="178.3" r="11.4"/><circle cx="491.9" cy="178.3" r="11.4"/><circle cx="519.3" cy="178.3" r="11.4"/><circle cx="546.8" cy="178.3" r="11.4"/><circle cx="574.2" cy="178.3" r="11.4"/><circle cx="601.7" cy="178.3" r="11.4"/><circle cx="629.2" cy="178.3" r="11.4"/><circle cx="656.6" cy="178.3" r="11.4"/></g>
<g fill="url(#rs)" stroke="#98262e" stroke-opacity="0.42" stroke-width="2.1"><circle cx="1" cy="182.7" r="11.7"/><circle cx="29.3" cy="182.7" r="11.7"/><circle cx="57.7" cy="182.7" r="11.7"/><circle cx="86" cy="182.7" r="11.7"/><circle cx="114.3" cy="182.7" r="11.7"/><circle cx="142.6" cy="182.7" r="11.7"/><circle cx="170.9" cy="182.7" r="11.7"/><circle cx="199.3" cy="182.7" r="11.7"/><circle cx="227.6" cy="182.7" r="11.7"/><circle cx="255.9" cy="182.7" r="11.7"/><circle cx="284.2" cy="182.7" r="11.7"/><circle cx="312.6" cy="182.7" r="11.7"/><circle cx="340.9" cy="182.7" r="11.7"/><circle cx="369.2" cy="182.7" r="11.7"/><circle cx="397.5" cy="182.7" r="11.7"/><circle cx="425.8" cy="182.7" r="11.7"/><circle cx="454.2" cy="182.7" r="11.7"/><circle cx="482.5" cy="182.7" r="11.7"/><circle cx="510.8" cy="182.7" r="11.7"/><circle cx="539.1" cy="182.7" r="11.7"/><circle cx="567.4" cy="182.7" r="11.7"/><circle cx="595.8" cy="182.7" r="11.7"/><circle cx="624.1" cy="182.7" r="11.7"/><circle cx="652.4" cy="182.7" r="11.7"/></g>
<g fill="url(#rs)" stroke="#98262e" stroke-opacity="0.42" stroke-width="2.2"><circle cx="4.6" cy="187.4" r="12.1"/><circle cx="33.9" cy="187.4" r="12.1"/><circle cx="63.1" cy="187.4" r="12.1"/><circle cx="92.3" cy="187.4" r="12.1"/><circle cx="121.6" cy="187.4" r="12.1"/><circle cx="150.8" cy="187.4" r="12.1"/><circle cx="180.1" cy="187.4" r="12.1"/><circle cx="209.3" cy="187.4" r="12.1"/><circle cx="238.6" cy="187.4" r="12.1"/><circle cx="267.8" cy="187.4" r="12.1"/><circle cx="297" cy="187.4" r="12.1"/><circle cx="326.3" cy="187.4" r="12.1"/><circle cx="355.5" cy="187.4" r="12.1"/><circle cx="384.8" cy="187.4" r="12.1"/><circle cx="414" cy="187.4" r="12.1"/><circle cx="443.2" cy="187.4" r="12.1"/><circle cx="472.5" cy="187.4" r="12.1"/><circle cx="501.7" cy="187.4" r="12.1"/><circle cx="531" cy="187.4" r="12.1"/><circle cx="560.2" cy="187.4" r="12.1"/><circle cx="589.5" cy="187.4" r="12.1"/><circle cx="618.7" cy="187.4" r="12.1"/><circle cx="647.9" cy="187.4" r="12.1"/><circle cx="677.2" cy="187.4" r="12.1"/></g>
<g fill="url(#rs)" stroke="#98262e" stroke-opacity="0.42" stroke-width="2.2"><circle cx="8.5" cy="192.4" r="12.5"/><circle cx="38.7" cy="192.4" r="12.5"/><circle cx="68.9" cy="192.4" r="12.5"/><circle cx="99.1" cy="192.4" r="12.5"/><circle cx="129.4" cy="192.4" r="12.5"/><circle cx="159.6" cy="192.4" r="12.5"/><circle cx="189.8" cy="192.4" r="12.5"/><circle cx="220" cy="192.4" r="12.5"/><circle cx="250.3" cy="192.4" r="12.5"/><circle cx="280.5" cy="192.4" r="12.5"/><circle cx="310.7" cy="192.4" r="12.5"/><circle cx="340.9" cy="192.4" r="12.5"/><circle cx="371.2" cy="192.4" r="12.5"/><circle cx="401.4" cy="192.4" r="12.5"/><circle cx="431.6" cy="192.4" r="12.5"/><circle cx="461.8" cy="192.4" r="12.5"/><circle cx="492.1" cy="192.4" r="12.5"/><circle cx="522.3" cy="192.4" r="12.5"/><circle cx="552.5" cy="192.4" r="12.5"/><circle cx="582.7" cy="192.4" r="12.5"/><circle cx="612.9" cy="192.4" r="12.5"/><circle cx="643.2" cy="192.4" r="12.5"/><circle cx="673.4" cy="192.4" r="12.5"/></g>
<g fill="url(#rs)" stroke="#98262e" stroke-opacity="0.42" stroke-width="2.3"><circle cx="12.6" cy="197.7" r="12.9"/><circle cx="43.9" cy="197.7" r="12.9"/><circle cx="75.1" cy="197.7" r="12.9"/><circle cx="106.4" cy="197.7" r="12.9"/><circle cx="137.7" cy="197.7" r="12.9"/><circle cx="169" cy="197.7" r="12.9"/><circle cx="200.2" cy="197.7" r="12.9"/><circle cx="231.5" cy="197.7" r="12.9"/><circle cx="262.8" cy="197.7" r="12.9"/><circle cx="294.1" cy="197.7" r="12.9"/><circle cx="325.3" cy="197.7" r="12.9"/><circle cx="356.6" cy="197.7" r="12.9"/><circle cx="387.9" cy="197.7" r="12.9"/><circle cx="419.2" cy="197.7" r="12.9"/><circle cx="450.4" cy="197.7" r="12.9"/><circle cx="481.7" cy="197.7" r="12.9"/><circle cx="513" cy="197.7" r="12.9"/><circle cx="544.2" cy="197.7" r="12.9"/><circle cx="575.5" cy="197.7" r="12.9"/><circle cx="606.8" cy="197.7" r="12.9"/><circle cx="638.1" cy="197.7" r="12.9"/><circle cx="669.3" cy="197.7" r="12.9"/></g>
<g fill="url(#rs)" stroke="#98262e" stroke-opacity="0.3" stroke-width="1.6"><circle cx="17" cy="203.5" r="13.4"/><circle cx="49.4" cy="203.5" r="13.4"/><circle cx="81.8" cy="203.5" r="13.4"/><circle cx="114.2" cy="203.5" r="13.4"/><circle cx="146.6" cy="203.5" r="13.4"/><circle cx="179" cy="203.5" r="13.4"/><circle cx="211.4" cy="203.5" r="13.4"/><circle cx="243.8" cy="203.5" r="13.4"/><circle cx="276.2" cy="203.5" r="13.4"/><circle cx="308.6" cy="203.5" r="13.4"/><circle cx="341" cy="203.5" r="13.4"/><circle cx="373.4" cy="203.5" r="13.4"/><circle cx="405.8" cy="203.5" r="13.4"/><circle cx="438.2" cy="203.5" r="13.4"/><circle cx="470.6" cy="203.5" r="13.4"/><circle cx="503" cy="203.5" r="13.4"/><circle cx="535.4" cy="203.5" r="13.4"/><circle cx="567.8" cy="203.5" r="13.4"/><circle cx="600.2" cy="203.5" r="13.4"/><circle cx="632.6" cy="203.5" r="13.4"/><circle cx="665" cy="203.5" r="13.4"/></g>
</g>
<g filter="url(#b1)"><circle cx="330.3" cy="70.8" r="61" fill="url(#gs)"/></g>
<g filter="url(#b1)"><circle cx="177.2" cy="81.6" r="76.3" fill="url(#gs)"/></g>
<g filter="url(#b1)"><circle cx="510.8" cy="85" r="83" fill="url(#gs)"/></g>
</g>
<text transform="translate(10.6 56.6) scale(0.84 1)" font-size="66" class="ls">a</text>
</g>
<g id="panel-b">
<g clip-path="url(#cb)">
<rect x="0" y="295.5" width="676" height="491" fill="#030201"/>
<path d="M-12 527C-10 525.8 -6.2 523.5 0 520C6.2 516.5 16.8 510.7 25 506C33.2 501.3 40.7 496.5 49 492C57.3 487.5 66.8 483.2 75 479C83.2 474.8 90.2 471.5 98 467C105.8 462.5 113.8 457 122 452C130.2 447 138.7 442.2 147 437C155.3 431.8 163.8 426.5 172 421C180.2 415.5 188 410.2 196 404C204 397.8 211.8 390.7 220 384C228.2 377.3 236.7 370.8 245 364C253.3 357.2 261.8 350 270 343C278.2 336 287 328.2 294 322C301 315.8 306 311.3 312 306C318 300.7 327 292.7 330 290" fill="none" stroke="#3a2204" stroke-width="28" opacity="0.8" filter="url(#bb3)"/>
<path d="M-12 527C-10 525.8 -6.2 523.5 0 520C6.2 516.5 16.8 510.7 25 506C33.2 501.3 40.7 496.5 49 492C57.3 487.5 66.8 483.2 75 479C83.2 474.8 90.2 471.5 98 467C105.8 462.5 113.8 457 122 452C130.2 447 138.7 442.2 147 437C155.3 431.8 163.8 426.5 172 421C180.2 415.5 188 410.2 196 404C204 397.8 211.8 390.7 220 384C228.2 377.3 236.7 370.8 245 364C253.3 357.2 261.8 350 270 343C278.2 336 287 328.2 294 322C301 315.8 306 311.3 312 306C318 300.7 327 292.7 330 290" fill="none" stroke="#643406" stroke-width="19.5" filter="url(#bb3)"/>
<path d="M-15.3 521.4C-13.3 520.2 -9.4 517.9 -3.2 514.3C3 510.8 13.6 505 21.8 500.4C30 495.7 37.5 490.8 45.9 486.3C54.3 481.8 63.9 477.4 72 473.2C80.2 469.1 87 465.8 94.8 461.4C102.5 456.9 110.5 451.4 118.6 446.5C126.7 441.5 135.3 436.6 143.6 431.5C151.9 426.3 160.3 421 168.4 415.6C176.4 410.2 184.1 405 192 398.9C200 392.7 207.7 385.6 215.9 379C224 372.3 232.6 365.8 240.9 359C249.2 352.2 257.6 345 265.8 338.1C273.9 331.1 282.7 323.3 289.7 317.1C296.7 311 301.7 306.5 307.7 301.1C313.7 295.8 322.7 287.8 325.7 285.1" fill="none" stroke="#a0500a" stroke-width="4.5" opacity="0.85" filter="url(#bb2)"/>
<path d="M-17.8 517.1C-15.8 515.9 -11.9 513.5 -5.7 510C0.5 506.5 11.1 500.7 19.3 496C27.5 491.3 35.1 486.4 43.5 481.9C51.9 477.3 61.7 472.9 69.8 468.8C77.9 464.6 84.6 461.5 92.3 457C100 452.6 107.9 447.2 116 442.2C124.1 437.2 132.7 432.3 140.9 427.2C149.2 422.1 157.6 416.9 165.6 411.5C173.6 406.1 181.1 401 189 394.9C196.8 388.8 204.6 381.7 212.7 375.1C220.8 368.5 229.4 361.9 237.7 355.1C246 348.3 254.4 341.2 262.5 334.3C270.6 327.3 279.4 319.5 286.4 313.4C293.4 307.2 298.4 302.7 304.4 297.4C310.4 292.1 319.4 284.1 322.4 281.4" fill="none" stroke="#1f9c1f" stroke-width="3.6" filter="url(#bb2)"/>
<path d="M-7 535.6C-5 534.5 -1.2 532.2 4.9 528.7C11.1 525.2 21.8 519.3 30 514.7C38.1 510 45.5 505.3 53.8 500.8C62 496.3 71.3 492.1 79.5 487.9C87.7 483.7 95 480.2 103 475.7C110.9 471.1 119 465.6 127.2 460.5C135.4 455.5 143.9 450.7 152.3 445.5C160.7 440.3 169.3 434.9 177.6 429.3C185.9 423.7 194 418.2 202.1 411.9C210.2 405.7 218.1 398.4 226.3 391.7C234.5 385 243 378.6 251.3 371.7C259.7 364.9 268.3 357.6 276.5 350.6C284.7 343.6 293.6 335.7 300.6 329.5C307.6 323.3 312.6 318.8 318.6 313.5C324.6 308.1 333.6 300.1 336.6 297.5" fill="none" stroke="#94780f" stroke-width="4.5" filter="url(#bb2)"/>
<path d="M-5 548C-2.2 546 6.5 540.3 12 536C17.5 531.7 22.5 526 28 522C33.5 518 38.7 515.2 45 512C51.3 508.8 59.2 505.7 66 503C72.8 500.3 80 498.7 86 496C92 493.3 96 490.2 102 487C108 483.8 116.5 480.5 122 477C127.5 473.5 131 470.2 135 466C139 461.8 142.2 455.8 146 452C149.8 448.2 153 446.2 158 443C163 439.8 170.3 436.7 176 433C181.7 429.3 186 425 192 421C198 417 205.7 412.8 212 409C218.3 405.2 224.3 402.2 230 398C235.7 393.8 241.3 389.3 246 384C250.7 378.7 254 371.3 258 366C262 360.7 266 355.3 270 352C274 348.7 277.7 348.7 282 346C286.3 343.3 291 340 296 336C301 332 306.3 326.3 312 322C317.7 317.7 324 313.7 330 310C336 306.3 343 303 348 300C353 297 358 293.3 360 292" fill="none" stroke="#6c6c10" stroke-width="3.4" opacity="0.8" filter="url(#bb2)"/>
<path d="M300 354 C360 347 430 341 480 331 S560 315 600 307" fill="none" stroke="url(#brf2)" stroke-width="3" opacity="0.8" filter="url(#bb2)"/><path d="M300 351.5 C360 344.5 430 338.5 480 328.5 S560 312.5 600 304.5" fill="none" stroke="url(#brf)" stroke-width="3.4" filter="url(#bb2)"/>
<path d="M40 540 C120 520 200 480 300 440" fill="none" stroke="#24300c" stroke-width="3" opacity="0.7" filter="url(#bb2)"/>
<path d="M150 470 C220 450 280 420 330 400" fill="none" stroke="#20300c" stroke-width="3" opacity="0.6" filter="url(#bb2)"/>
<g filter="url(#bb1)">
<ellipse cx="44" cy="511" rx="7.5" ry="6.3" fill="url(#yd)" transform="rotate(0 44 511)"/>
<ellipse cx="65" cy="503" rx="7.5" ry="6.3" fill="url(#yd)" transform="rotate(0 65 503)"/>
<ellipse cx="101" cy="486" rx="8.2" ry="6" fill="url(#yd)" transform="rotate(-25 101 486)"/>
<ellipse cx="122" cy="478" rx="7.5" ry="5.4" fill="url(#yd)" transform="rotate(-25 122 478)"/>
<ellipse cx="152" cy="447" rx="9.8" ry="5.1" fill="url(#yd)" transform="rotate(-40 152 447)"/>
<ellipse cx="191" cy="420" rx="16.5" ry="5.7" fill="url(#yd)" transform="rotate(-30 191 420)"/>
<ellipse cx="229" cy="400" rx="12" ry="5.4" fill="url(#yd)" transform="rotate(-28 229 400)"/>
<ellipse cx="266" cy="356" rx="7.5" ry="5.7" fill="url(#yd)" transform="rotate(-40 266 356)"/>
<ellipse cx="313" cy="329" rx="9" ry="6.6" fill="url(#yd)" transform="rotate(-30 313 329)"/>
<ellipse cx="347" cy="304" rx="7.5" ry="6.6" fill="url(#yd)" transform="rotate(0 347 304)"/>
<ellipse cx="288" cy="298" rx="12" ry="5.2" fill="url(#yd)" transform="rotate(-10 288 298)"/>
<ellipse cx="26" cy="520" rx="10.5" ry="4.5" fill="url(#gd)" transform="rotate(-50 26 520)"/>
<ellipse cx="82" cy="492" rx="6" ry="4.5" fill="url(#gd)" transform="rotate(-30 82 492)"/>
<ellipse cx="155" cy="440" rx="6" ry="4.5" fill="url(#gd)" transform="rotate(-40 155 440)"/>
<ellipse cx="237" cy="387" rx="6" ry="4.5" fill="url(#gd)" transform="rotate(-40 237 387)"/>
<ellipse cx="289" cy="343" rx="6" ry="5.1" fill="url(#gd)" transform="rotate(-40 289 343)"/>
<ellipse cx="219" cy="348" rx="6.8" ry="6" fill="url(#gd)" transform="rotate(0 219 348)"/>
<ellipse cx="9" cy="567" rx="6.8" ry="6.8" fill="url(#gd)" transform="rotate(0 9 567)"/>
<ellipse cx="20" cy="564" rx="4.5" ry="4.5" fill="url(#gd)" transform="rotate(0 20 564)"/>
</g>
<circle cx="174" cy="343.4" r="8" fill="url(#rd)"/>
<circle cx="618" cy="340.5" r="8" fill="url(#rd)"/>
<circle cx="274" cy="396" r="8" fill="url(#rd)"/>
<circle cx="25.5" cy="440" r="8" fill="url(#rd)"/>
<circle cx="292" cy="622" r="8" fill="url(#rd)"/>
<circle cx="494.6" cy="702" r="8" fill="url(#rd)"/>
<circle cx="539" cy="706.5" r="8" fill="url(#rd)"/>
<circle cx="637.6" cy="762.7" r="8" fill="url(#rd)"/>
</g>
<rect x="24.4" y="702" width="100.6" height="13" fill="#fff"/>
<text x="15.6" y="763" font-size="50" fill="#fff" class="ls" textLength="114.4" lengthAdjust="spacing">5 µm</text>
<text x="13" y="355" font-size="65" fill="#fff" class="ls">b</text>
</g>
<g id="panel-cd">
<g clip-path="url(#cc)">
<rect x="2" y="797.6" width="423.3" height="448" fill="#740019"/>
<path d="M433 960.5C431.7 961 428 962.2 425 963.5C422 964.8 417.8 966.1 414.8 968C411.8 969.9 409 971.4 406.9 974.8C404.8 978.2 403.4 983.1 402.4 988.4C401.4 993.7 401.3 1000.8 400.8 1006.4C400.3 1012 400.4 1017.7 399.5 1022.2C398.6 1026.7 397.9 1030.1 395.6 1033.5C393.3 1036.9 388.7 1039.6 385.5 1042.6C382.3 1045.6 378.5 1048.2 376.4 1051.6C374.3 1055 373.8 1058.8 373 1062.9C372.2 1067 372.4 1071.9 371.9 1076.4C371.4 1080.9 371.4 1085.5 370.1 1090C368.8 1094.5 366.3 1099.4 364 1103.5C361.7 1107.6 357.8 1110.7 356.1 1114.8C354.4 1118.9 354.2 1123.8 353.9 1128.3C353.6 1132.8 354.7 1137 354.3 1141.9C353.9 1146.8 352.8 1152.4 351.6 1157.7C350.4 1163 348.4 1168.2 347.1 1173.5C345.8 1178.8 344.4 1183.3 343.7 1189.3C342.9 1195.3 342.9 1203.2 342.6 1209.6C342.3 1216 342.2 1221 341.9 1227.7C341.6 1234.4 341.1 1246.3 341 1250" fill="none" stroke="#b0203c" stroke-width="17" opacity="0.55" filter="url(#bc2)"/>
<g fill="none" stroke="#f0a0b4" stroke-width="1" opacity="0.6" filter="url(#bc1)"><path d="M402 1000 C415 996 420 990 426 986"/><path d="M398 1030 C410 1022 420 1018 427 1016"/><path d="M382 1048 C395 1044 405 1046 414 1040"/><path d="M374 1076 C390 1072 410 1074 426 1072"/><path d="M368 1100 C380 1094 390 1092 398 1088"/><path d="M356 1128 C372 1120 390 1116 410 1112"/><path d="M353 1160 C360 1150 366 1146 372 1142"/><path d="M346 1196 C356 1186 366 1182 378 1176"/><path d="M403 975 C404 960 406 950 408 940"/><path d="M395 1035 C388 1030 384 1024 382 1018"/></g>
<path d="M433 960.5C431.7 961 428 962.2 425 963.5C422 964.8 417.8 966.1 414.8 968C411.8 969.9 409 971.4 406.9 974.8C404.8 978.2 403.4 983.1 402.4 988.4C401.4 993.7 401.3 1000.8 400.8 1006.4C400.3 1012 400.4 1017.7 399.5 1022.2C398.6 1026.7 397.9 1030.1 395.6 1033.5C393.3 1036.9 388.7 1039.6 385.5 1042.6C382.3 1045.6 378.5 1048.2 376.4 1051.6C374.3 1055 373.8 1058.8 373 1062.9C372.2 1067 372.4 1071.9 371.9 1076.4C371.4 1080.9 371.4 1085.5 370.1 1090C368.8 1094.5 366.3 1099.4 364 1103.5C361.7 1107.6 357.8 1110.7 356.1 1114.8C354.4 1118.9 354.2 1123.8 353.9 1128.3C353.6 1132.8 354.7 1137 354.3 1141.9C353.9 1146.8 352.8 1152.4 351.6 1157.7C350.4 1163 348.4 1168.2 347.1 1173.5C345.8 1178.8 344.4 1183.3 343.7 1189.3C342.9 1195.3 342.9 1203.2 342.6 1209.6C342.3 1216 342.2 1221 341.9 1227.7C341.6 1234.4 341.1 1246.3 341 1250" fill="none" stroke="#fff0e4" stroke-width="13.2" stroke-dasharray="2 3.5 1 5.5 3 2.5 1.5 6 1 3" opacity="0.85" filter="url(#bc0)"/>
<path d="M433 960.5C431.7 961 428 962.2 425 963.5C422 964.8 417.8 966.1 414.8 968C411.8 969.9 409 971.4 406.9 974.8C404.8 978.2 403.4 983.1 402.4 988.4C401.4 993.7 401.3 1000.8 400.8 1006.4C400.3 1012 400.4 1017.7 399.5 1022.2C398.6 1026.7 397.9 1030.1 395.6 1033.5C393.3 1036.9 388.7 1039.6 385.5 1042.6C382.3 1045.6 378.5 1048.2 376.4 1051.6C374.3 1055 373.8 1058.8 373 1062.9C372.2 1067 372.4 1071.9 371.9 1076.4C371.4 1080.9 371.4 1085.5 370.1 1090C368.8 1094.5 366.3 1099.4 364 1103.5C361.7 1107.6 357.8 1110.7 356.1 1114.8C354.4 1118.9 354.2 1123.8 353.9 1128.3C353.6 1132.8 354.7 1137 354.3 1141.9C353.9 1146.8 352.8 1152.4 351.6 1157.7C350.4 1163 348.4 1168.2 347.1 1173.5C345.8 1178.8 344.4 1183.3 343.7 1189.3C342.9 1195.3 342.9 1203.2 342.6 1209.6C342.3 1216 342.2 1221 341.9 1227.7C341.6 1234.4 341.1 1246.3 341 1250" fill="none" stroke="#fff6ea" stroke-width="10.8" filter="url(#bc0)"/>
<path d="M433 960.5C431.7 961 428 962.2 425 963.5C422 964.8 417.8 966.1 414.8 968C411.8 969.9 409 971.4 406.9 974.8C404.8 978.2 403.4 983.1 402.4 988.4C401.4 993.7 401.3 1000.8 400.8 1006.4C400.3 1012 400.4 1017.7 399.5 1022.2C398.6 1026.7 397.9 1030.1 395.6 1033.5C393.3 1036.9 388.7 1039.6 385.5 1042.6C382.3 1045.6 378.5 1048.2 376.4 1051.6C374.3 1055 373.8 1058.8 373 1062.9C372.2 1067 372.4 1071.9 371.9 1076.4C371.4 1080.9 371.4 1085.5 370.1 1090C368.8 1094.5 366.3 1099.4 364 1103.5C361.7 1107.6 357.8 1110.7 356.1 1114.8C354.4 1118.9 354.2 1123.8 353.9 1128.3C353.6 1132.8 354.7 1137 354.3 1141.9C353.9 1146.8 352.8 1152.4 351.6 1157.7C350.4 1163 348.4 1168.2 347.1 1173.5C345.8 1178.8 344.4 1183.3 343.7 1189.3C342.9 1195.3 342.9 1203.2 342.6 1209.6C342.3 1216 342.2 1221 341.9 1227.7C341.6 1234.4 341.1 1246.3 341 1250" fill="none" stroke="#48c070" stroke-width="11" stroke-dasharray="1.2 3.1" opacity="0.7" filter="url(#bc0)"/>
<path d="M433 960.5C431.7 961 428 962.2 425 963.5C422 964.8 417.8 966.1 414.8 968C411.8 969.9 409 971.4 406.9 974.8C404.8 978.2 403.4 983.1 402.4 988.4C401.4 993.7 401.3 1000.8 400.8 1006.4C400.3 1012 400.4 1017.7 399.5 1022.2C398.6 1026.7 397.9 1030.1 395.6 1033.5C393.3 1036.9 388.7 1039.6 385.5 1042.6C382.3 1045.6 378.5 1048.2 376.4 1051.6C374.3 1055 373.8 1058.8 373 1062.9C372.2 1067 372.4 1071.9 371.9 1076.4C371.4 1080.9 371.4 1085.5 370.1 1090C368.8 1094.5 366.3 1099.4 364 1103.5C361.7 1107.6 357.8 1110.7 356.1 1114.8C354.4 1118.9 354.2 1123.8 353.9 1128.3C353.6 1132.8 354.7 1137 354.3 1141.9C353.9 1146.8 352.8 1152.4 351.6 1157.7C350.4 1163 348.4 1168.2 347.1 1173.5C345.8 1178.8 344.4 1183.3 343.7 1189.3C342.9 1195.3 342.9 1203.2 342.6 1209.6C342.3 1216 342.2 1221 341.9 1227.7C341.6 1234.4 341.1 1246.3 341 1250" fill="none" stroke="#1c0608" stroke-width="5.6" filter="url(#bc0)"/>
<g fill="#c04068" opacity="0.45"><circle cx="263.5" cy="1126.4" r="1.2"/><circle cx="396.1" cy="1125.6" r="1.2"/><circle cx="17" cy="1004.9" r="1.3"/><circle cx="274.3" cy="1196.4" r="0.7"/><circle cx="199.7" cy="908.5" r="1"/><circle cx="243.2" cy="805.8" r="0.8"/><circle cx="121" cy="1203.2" r="1.1"/><circle cx="71.2" cy="1150.7" r="0.7"/><circle cx="261.2" cy="855.7" r="0.6"/><circle cx="366.6" cy="892.2" r="0.8"/><circle cx="412.7" cy="1183.9" r="0.8"/><circle cx="404" cy="1037.3" r="1.1"/><circle cx="90" cy="1214" r="1.1"/><circle cx="406.1" cy="1193.2" r="0.8"/><circle cx="154.9" cy="873" r="0.7"/><circle cx="32" cy="932.6" r="1"/><circle cx="6.4" cy="1098.3" r="0.8"/><circle cx="133.6" cy="1160.1" r="0.9"/><circle cx="136.1" cy="1011.7" r="1.1"/><circle cx="28.7" cy="1229" r="0.6"/><circle cx="316.2" cy="1171.7" r="0.6"/><circle cx="331.9" cy="961.1" r="1"/><circle cx="8.8" cy="820.6" r="0.7"/><circle cx="401.4" cy="886.5" r="1.1"/><circle cx="390.8" cy="1214.5" r="0.8"/><circle cx="152.2" cy="1030.9" r="1.1"/><circle cx="49.8" cy="1129.3" r="1.2"/><circle cx="361.8" cy="816.1" r="1.3"/><circle cx="42.8" cy="949.9" r="1"/><circle cx="386" cy="949.6" r="1.2"/><circle cx="231.2" cy="937.5" r="0.8"/><circle cx="78.7" cy="834.4" r="0.7"/><circle cx="291" cy="1238.6" r="0.7"/><circle cx="25.1" cy="1234.1" r="1"/><circle cx="173.4" cy="904.4" r="1"/><circle cx="347.9" cy="1000.5" r="0.9"/><circle cx="28.1" cy="1203.1" r="0.6"/><circle cx="209.8" cy="1168.9" r="0.7"/><circle cx="308.6" cy="1217.9" r="1"/><circle cx="332" cy="846.9" r="0.9"/></g>
<path d="M230 800 C236 820 242 840 249 860" fill="none" stroke="#b03058" stroke-width="1.2" opacity="0.6"/>
</g>
<rect x="36" y="1157.5" width="78" height="12.5" fill="#fff"/>
<text x="10" y="1224.2" font-size="50" fill="#fff" class="ls" textLength="142.8" lengthAdjust="spacing">20 µm</text>
<text transform="translate(11 851) scale(0.91 1.02)" font-size="65" fill="#fff" class="ls">c</text>
<g clip-path="url(#cd)">
<rect x="434.5" y="797.6" width="241.5" height="447.6" fill="#b4b4b4"/>
<g filter="url(#bd1)" stroke="#cccccc" stroke-width="0.8">
<g fill="#6e6e6e"><circle cx="627.6" cy="794.7" r="5"/><circle cx="446.4" cy="801" r="5"/><circle cx="523.7" cy="803.2" r="5.1"/><circle cx="543.7" cy="803.6" r="4.9"/><circle cx="561.5" cy="803.6" r="5"/><circle cx="573.7" cy="804" r="5.3"/><circle cx="582.2" cy="801.8" r="5.3"/><circle cx="591.2" cy="804.6" r="5.4"/><circle cx="622.3" cy="804.1" r="5.4"/><circle cx="659.6" cy="802.3" r="5.2"/><circle cx="432.3" cy="812.8" r="5.3"/><circle cx="537.8" cy="810.7" r="5.3"/><circle cx="597.6" cy="812.6" r="5.2"/><circle cx="636.1" cy="813.9" r="5.4"/><circle cx="643.9" cy="811.4" r="5"/><circle cx="475.3" cy="821.1" r="5.3"/><circle cx="544.2" cy="821" r="5.3"/><circle cx="641.2" cy="819.7" r="5"/><circle cx="461.3" cy="829.2" r="5.3"/><circle cx="471.2" cy="828.4" r="4.9"/><circle cx="558.5" cy="827.7" r="5.4"/><circle cx="645.1" cy="828.9" r="5"/><circle cx="673.3" cy="827.6" r="4.9"/><circle cx="476.5" cy="838.4" r="5.1"/><circle cx="485.3" cy="836.7" r="5.4"/><circle cx="505.4" cy="836.9" r="5.2"/><circle cx="601.8" cy="839.8" r="5.4"/><circle cx="577.8" cy="845.6" r="5.3"/><circle cx="664.4" cy="845.7" r="5.3"/><circle cx="447.5" cy="854.2" r="5.2"/><circle cx="523.1" cy="853.6" r="5"/><circle cx="563.7" cy="852.9" r="5.2"/><circle cx="660.7" cy="854.4" r="5.1"/><circle cx="596.5" cy="860.3" r="5"/><circle cx="615.1" cy="861.5" r="5"/><circle cx="625.4" cy="863.1" r="4.9"/><circle cx="644.7" cy="861.9" r="5.4"/><circle cx="684.8" cy="862.3" r="5.4"/><circle cx="504.8" cy="868.9" r="5.1"/><circle cx="650" cy="870.4" r="4.9"/><circle cx="659.6" cy="871.7" r="5.4"/><circle cx="669" cy="870.7" r="5"/><circle cx="688.5" cy="870.7" r="5.4"/><circle cx="432.4" cy="880.4" r="5"/><circle cx="509.4" cy="880.4" r="4.9"/><circle cx="548.2" cy="880.2" r="5"/><circle cx="664.7" cy="880.8" r="4.9"/><circle cx="631.1" cy="888.1" r="5.1"/><circle cx="490.9" cy="895.7" r="5.2"/><circle cx="500.2" cy="897.3" r="5.2"/><circle cx="447.3" cy="904" r="5.1"/><circle cx="461.6" cy="912.9" r="5.1"/><circle cx="489.5" cy="911.4" r="5"/><circle cx="644.7" cy="913.1" r="5.2"/><circle cx="666.9" cy="914.5" r="5.1"/><circle cx="602.7" cy="919.6" r="5.2"/><circle cx="639.1" cy="919.6" r="4.9"/><circle cx="480.6" cy="930.7" r="5"/><circle cx="596.3" cy="928.2" r="5.4"/><circle cx="624.9" cy="930.3" r="5"/><circle cx="676.3" cy="929.6" r="5.4"/><circle cx="494" cy="938.6" r="5.4"/><circle cx="524.6" cy="937.9" r="5"/><circle cx="544.2" cy="938.2" r="4.9"/><circle cx="552.8" cy="938.8" r="5.2"/><circle cx="564.1" cy="937.4" r="5.1"/><circle cx="688.7" cy="939.3" r="4.9"/><circle cx="452.6" cy="946.6" r="5.2"/><circle cx="528.2" cy="948.5" r="5.2"/><circle cx="557.3" cy="946.6" r="5.2"/><circle cx="644.3" cy="946.8" r="5.2"/><circle cx="456.4" cy="953.3" r="5.4"/><circle cx="572.9" cy="957" r="4.9"/><circle cx="668.9" cy="955.9" r="5.4"/><circle cx="681.3" cy="953.9" r="5.3"/><circle cx="509.1" cy="962" r="5"/><circle cx="538.6" cy="964.2" r="5"/><circle cx="636.2" cy="965" r="5.4"/><circle cx="674.2" cy="963.4" r="5"/><circle cx="495.6" cy="970.5" r="5"/><circle cx="592.4" cy="971" r="5.1"/><circle cx="680.1" cy="969.8" r="5"/><circle cx="688.1" cy="971.4" r="5.2"/><circle cx="452.2" cy="978.2" r="5.4"/><circle cx="489.3" cy="981.3" r="5.2"/><circle cx="519.8" cy="981.2" r="5.3"/><circle cx="539.7" cy="978.5" r="5.3"/><circle cx="587.7" cy="981.1" r="5.2"/><circle cx="684.3" cy="978.5" r="5.2"/><circle cx="437.4" cy="987.8" r="5.2"/><circle cx="552.1" cy="988.3" r="5"/><circle cx="571.7" cy="988.1" r="5.1"/><circle cx="678.9" cy="987.7" r="5.1"/><circle cx="506.9" cy="996" r="5.2"/><circle cx="626.2" cy="998" r="4.9"/><circle cx="654.9" cy="995.9" r="5.4"/><circle cx="532.8" cy="1004.8" r="5.3"/><circle cx="680.7" cy="1005.8" r="5"/><circle cx="451.9" cy="1013.5" r="5.1"/><circle cx="490.1" cy="1012.8" r="5.1"/><circle cx="557.9" cy="1013.9" r="5.2"/><circle cx="486.3" cy="1020.4" r="4.9"/><circle cx="506.6" cy="1021.3" r="5.2"/><circle cx="516.2" cy="1021.8" r="5.2"/><circle cx="583.2" cy="1021.8" r="5"/><circle cx="600.3" cy="1022" r="5.3"/><circle cx="650.1" cy="1020.5" r="5.2"/><circle cx="508" cy="1030.1" r="5.1"/><circle cx="625.2" cy="1029.5" r="5"/><circle cx="636" cy="1031.6" r="4.9"/><circle cx="553.2" cy="1040.3" r="5"/><circle cx="612.4" cy="1038.8" r="5.1"/><circle cx="651.4" cy="1038.5" r="5.4"/><circle cx="462.2" cy="1047" r="4.9"/><circle cx="539.1" cy="1047.4" r="5"/><circle cx="675.3" cy="1044.9" r="5.2"/><circle cx="447.3" cy="1054.1" r="5"/><circle cx="669.4" cy="1055.8" r="5.4"/><circle cx="430.9" cy="1064.3" r="5.4"/><circle cx="480.6" cy="1064.5" r="5.3"/><circle cx="490.2" cy="1064.3" r="5.4"/><circle cx="518.7" cy="1065.1" r="4.9"/><circle cx="529.2" cy="1064.5" r="5.4"/><circle cx="654.9" cy="1063.5" r="5.2"/><circle cx="664.2" cy="1062.6" r="5.3"/><circle cx="466.7" cy="1072.3" r="5.1"/><circle cx="493.6" cy="1073" r="5"/><circle cx="571.8" cy="1071.2" r="4.9"/><circle cx="613.7" cy="1070.5" r="5.4"/><circle cx="441.3" cy="1081.1" r="4.9"/><circle cx="530.3" cy="1082.8" r="5.4"/><circle cx="538.4" cy="1080.5" r="5.1"/><circle cx="549.1" cy="1080.9" r="4.9"/><circle cx="637.2" cy="1082.2" r="5.3"/><circle cx="659.9" cy="1091" r="5.2"/><circle cx="443.2" cy="1096.6" r="5.3"/><circle cx="510.3" cy="1098.2" r="5.4"/><circle cx="596.8" cy="1095.8" r="5"/><circle cx="543.5" cy="1107.8" r="5"/><circle cx="481" cy="1115.4" r="5"/><circle cx="587.3" cy="1114.7" r="4.9"/><circle cx="466.1" cy="1120.8" r="5.3"/><circle cx="505.2" cy="1122.4" r="5.4"/><circle cx="514.6" cy="1121.8" r="4.9"/><circle cx="639.1" cy="1122.3" r="5.1"/><circle cx="649.2" cy="1121.7" r="5"/><circle cx="658.9" cy="1124.2" r="5"/><circle cx="431.1" cy="1132.3" r="5.1"/><circle cx="442.7" cy="1129.9" r="5.3"/><circle cx="490.3" cy="1132.4" r="5.1"/><circle cx="499.2" cy="1131.3" r="5"/><circle cx="608.5" cy="1132.1" r="5.4"/><circle cx="456.1" cy="1138.8" r="5.1"/><circle cx="464.8" cy="1138.4" r="5.3"/><circle cx="534.5" cy="1138.1" r="5"/><circle cx="562.1" cy="1138.2" r="5"/><circle cx="440.7" cy="1146.5" r="5.2"/><circle cx="462.3" cy="1148.1" r="5.2"/><circle cx="625.9" cy="1148.1" r="4.9"/><circle cx="653.8" cy="1148" r="4.9"/><circle cx="675.9" cy="1148.7" r="5.4"/><circle cx="495.9" cy="1156.7" r="5.1"/><circle cx="622.3" cy="1156.7" r="4.9"/><circle cx="659.3" cy="1156.3" r="5.4"/><circle cx="538.9" cy="1165.3" r="5.3"/><circle cx="634.1" cy="1164.2" r="4.9"/><circle cx="446.7" cy="1173.4" r="5.2"/><circle cx="641.4" cy="1173" r="4.9"/><circle cx="433.7" cy="1181.4" r="5"/><circle cx="441.5" cy="1181.2" r="5"/><circle cx="527.6" cy="1180.8" r="5.1"/><circle cx="538.6" cy="1183.1" r="4.9"/><circle cx="547.9" cy="1181.2" r="5.3"/><circle cx="576.9" cy="1183.1" r="5.3"/><circle cx="616.1" cy="1179.9" r="5.1"/><circle cx="635.4" cy="1182.5" r="5.3"/><circle cx="675.5" cy="1182" r="5"/><circle cx="525.3" cy="1188.6" r="5.2"/><circle cx="534.3" cy="1189.2" r="5.1"/><circle cx="572.8" cy="1190.3" r="5.1"/><circle cx="601.6" cy="1189.6" r="5.1"/><circle cx="640.9" cy="1190.1" r="5.1"/><circle cx="679.4" cy="1190.2" r="4.9"/><circle cx="451.2" cy="1195.9" r="5.4"/><circle cx="539.1" cy="1196.6" r="5.4"/><circle cx="586.5" cy="1197" r="4.9"/><circle cx="465.7" cy="1209" r="5.1"/><circle cx="542.8" cy="1207.3" r="5.1"/><circle cx="629.7" cy="1206" r="5.2"/><circle cx="677.8" cy="1207.3" r="5.2"/><circle cx="433.4" cy="1214" r="5"/><circle cx="451" cy="1213.9" r="5.2"/><circle cx="509.2" cy="1214.5" r="5.3"/><circle cx="596.4" cy="1215.7" r="4.9"/><circle cx="605.5" cy="1215.5" r="5"/><circle cx="674.4" cy="1213.9" r="5"/><circle cx="454.8" cy="1223" r="5.3"/><circle cx="552.3" cy="1223.9" r="5.3"/><circle cx="650" cy="1223" r="5.3"/><circle cx="660.1" cy="1223.5" r="5.2"/><circle cx="519.5" cy="1231.7" r="4.9"/><circle cx="558.8" cy="1231" r="5.4"/><circle cx="596.6" cy="1230" r="5.3"/><circle cx="606.6" cy="1231.3" r="5"/><circle cx="646.3" cy="1231.9" r="4.9"/><circle cx="656.2" cy="1230.8" r="4.9"/><circle cx="465.7" cy="1240" r="5.4"/><circle cx="532.5" cy="1241.6" r="4.9"/><circle cx="679.2" cy="1240.8" r="5.1"/><circle cx="442.8" cy="1248.8" r="5.1"/><circle cx="489.8" cy="1249.5" r="5.4"/><circle cx="520.6" cy="1248.9" r="5"/><circle cx="614.3" cy="1248.1" r="5.1"/><circle cx="495.2" cy="1258.4" r="5.3"/></g>
<g fill="#5c5c5c"><circle cx="473.1" cy="794.7" r="5.2"/><circle cx="498.3" cy="795.7" r="5.2"/><circle cx="522.3" cy="795" r="5.3"/><circle cx="578.2" cy="795.5" r="5.4"/><circle cx="607.1" cy="796.5" r="4.9"/><circle cx="635.9" cy="796" r="5.3"/><circle cx="665.8" cy="795.7" r="5"/><circle cx="468.2" cy="804" r="5"/><circle cx="552.5" cy="801" r="4.9"/><circle cx="610.8" cy="802.7" r="5.2"/><circle cx="639" cy="804.1" r="4.9"/><circle cx="669.6" cy="803.6" r="5"/><circle cx="679.5" cy="804" r="5.4"/><circle cx="687.3" cy="804.2" r="5"/><circle cx="452.1" cy="812.7" r="5.3"/><circle cx="479.8" cy="811" r="5"/><circle cx="576.4" cy="810.7" r="5.1"/><circle cx="587.5" cy="811.6" r="5.4"/><circle cx="605.8" cy="812.7" r="5.4"/><circle cx="625.7" cy="810" r="5.2"/><circle cx="435.4" cy="820" r="5.3"/><circle cx="456.4" cy="821.4" r="5"/><circle cx="552.5" cy="820.3" r="5"/><circle cx="581.6" cy="821.3" r="4.9"/><circle cx="610.9" cy="820.1" r="5"/><circle cx="620.4" cy="819.3" r="5.3"/><circle cx="631.3" cy="819.6" r="5.3"/><circle cx="430.5" cy="828.5" r="5.1"/><circle cx="519.1" cy="828.6" r="5.4"/><circle cx="537.8" cy="827.9" r="5.4"/><circle cx="548.3" cy="830.8" r="5.3"/><circle cx="588" cy="828.7" r="5.2"/><circle cx="617.6" cy="828.6" r="5.3"/><circle cx="626.2" cy="828.6" r="5.2"/><circle cx="455.6" cy="835.9" r="5"/><circle cx="514.3" cy="835.9" r="5.4"/><circle cx="574.1" cy="838.4" r="5.3"/><circle cx="632" cy="837.8" r="5.2"/><circle cx="451.5" cy="845" r="5"/><circle cx="461.8" cy="845.8" r="5.3"/><circle cx="470.7" cy="845.9" r="5.1"/><circle cx="539.3" cy="844.3" r="5"/><circle cx="557" cy="845" r="5.4"/><circle cx="567.9" cy="845.1" r="5.2"/><circle cx="588.3" cy="846.1" r="4.9"/><circle cx="596.5" cy="844.8" r="5"/><circle cx="636.3" cy="844.1" r="5.3"/><circle cx="646.3" cy="843.6" r="5.4"/><circle cx="475.9" cy="854.5" r="5"/><circle cx="542.4" cy="855.1" r="5.3"/><circle cx="572.5" cy="855" r="4.9"/><circle cx="584" cy="853.8" r="5.3"/><circle cx="629.8" cy="853.5" r="4.9"/><circle cx="648.9" cy="854.1" r="5.1"/><circle cx="441.5" cy="863.1" r="5.1"/><circle cx="510.4" cy="861.7" r="5.1"/><circle cx="528.9" cy="862.3" r="5.1"/><circle cx="540.3" cy="862" r="5.2"/><circle cx="549.2" cy="862.3" r="5"/><circle cx="558.8" cy="862.8" r="5.1"/><circle cx="568.4" cy="861" r="4.9"/><circle cx="655.6" cy="861" r="4.9"/><circle cx="436.4" cy="869.9" r="5.2"/><circle cx="485.1" cy="870.1" r="5.4"/><circle cx="494.1" cy="870.8" r="5.2"/><circle cx="594" cy="869.2" r="5.2"/><circle cx="600.3" cy="871.5" r="5"/><circle cx="609.7" cy="869.7" r="4.9"/><circle cx="480.8" cy="879.7" r="5.2"/><circle cx="500" cy="879.8" r="5.4"/><circle cx="528.4" cy="878.5" r="5"/><circle cx="558.3" cy="879" r="5.1"/><circle cx="576.3" cy="878.5" r="5.1"/><circle cx="587.4" cy="877.8" r="5.1"/><circle cx="614.9" cy="879.6" r="5.3"/><circle cx="635.5" cy="879" r="5.2"/><circle cx="457" cy="888.7" r="5.3"/><circle cx="475.9" cy="887.3" r="5.1"/><circle cx="485.9" cy="887.4" r="5.1"/><circle cx="517.4" cy="888.1" r="5.3"/><circle cx="553.1" cy="887.1" r="5"/><circle cx="571.3" cy="888.6" r="5.1"/><circle cx="601.4" cy="888.4" r="5.4"/><circle cx="651" cy="887" r="5.3"/><circle cx="671.3" cy="888.4" r="5"/><circle cx="441.5" cy="895.1" r="5.3"/><circle cx="451.8" cy="896.3" r="5"/><circle cx="481.8" cy="896" r="5.2"/><circle cx="537.9" cy="896.5" r="4.9"/><circle cx="627.4" cy="895.2" r="5.2"/><circle cx="634.9" cy="896.4" r="5"/><circle cx="683.7" cy="896.3" r="5.1"/><circle cx="435.6" cy="903.8" r="5.2"/><circle cx="455.7" cy="905.7" r="5.3"/><circle cx="467.6" cy="903.8" r="4.9"/><circle cx="505.1" cy="904.3" r="4.9"/><circle cx="552.5" cy="905.7" r="5.3"/><circle cx="562.1" cy="903.8" r="5.3"/><circle cx="613.9" cy="903" r="4.9"/><circle cx="621.3" cy="904.4" r="5"/><circle cx="501.8" cy="910.2" r="5.1"/><circle cx="519.6" cy="912.9" r="5.1"/><circle cx="538.8" cy="912.6" r="5.2"/><circle cx="548.8" cy="911" r="5.1"/><circle cx="586.5" cy="913.2" r="5.2"/><circle cx="655.6" cy="914.6" r="5"/><circle cx="454.8" cy="919.6" r="5.3"/><circle cx="464.8" cy="921" r="4.9"/><circle cx="523.9" cy="918" r="5.1"/><circle cx="544.2" cy="919.8" r="5.4"/><circle cx="563.9" cy="919.9" r="5"/><circle cx="592.3" cy="919.9" r="5"/><circle cx="622" cy="921.2" r="5.4"/><circle cx="631.3" cy="921.4" r="5.1"/><circle cx="650.6" cy="922.4" r="5.4"/><circle cx="451.1" cy="930.4" r="4.9"/><circle cx="468.7" cy="929.3" r="5.1"/><circle cx="500.7" cy="929" r="5.3"/><circle cx="517.2" cy="930.3" r="5"/><circle cx="579.3" cy="927.9" r="4.9"/><circle cx="607.5" cy="929.4" r="5.3"/><circle cx="645.4" cy="929" r="4.9"/><circle cx="654" cy="928.3" r="5"/><circle cx="504.6" cy="937.9" r="4.9"/><circle cx="591.2" cy="938.3" r="4.9"/><circle cx="659.5" cy="938.9" r="5.2"/><circle cx="432.4" cy="945.4" r="5"/><circle cx="442" cy="944.8" r="4.9"/><circle cx="461" cy="946" r="5.4"/><circle cx="509.6" cy="945.8" r="4.9"/><circle cx="538.9" cy="947.2" r="5.2"/><circle cx="566.4" cy="946.3" r="5.1"/><circle cx="637.2" cy="946.9" r="5.1"/><circle cx="664.8" cy="945.7" r="5"/><circle cx="683.9" cy="946.7" r="5.4"/><circle cx="465.6" cy="953.7" r="5.4"/><circle cx="514.8" cy="954.2" r="5.4"/><circle cx="545.5" cy="955.4" r="5.1"/><circle cx="553.4" cy="955.7" r="5.1"/><circle cx="612.6" cy="954.8" r="5.4"/><circle cx="690.1" cy="954.8" r="5.2"/><circle cx="489.8" cy="963.8" r="4.9"/><circle cx="529.2" cy="962.1" r="5"/><circle cx="597.3" cy="961.3" r="5"/><circle cx="606.1" cy="963.6" r="5.2"/><circle cx="644.3" cy="964.9" r="4.9"/><circle cx="655.7" cy="962.8" r="4.9"/><circle cx="486" cy="968.8" r="5.1"/><circle cx="515" cy="971.6" r="5"/><circle cx="524.2" cy="971.6" r="5"/><circle cx="552.6" cy="970.8" r="5.1"/><circle cx="582.9" cy="971" r="5.4"/><circle cx="431" cy="979.9" r="5"/><circle cx="460.5" cy="978.2" r="5.3"/><circle cx="501.1" cy="979.2" r="4.9"/><circle cx="568" cy="979.1" r="5.2"/><circle cx="607.8" cy="979.4" r="5.4"/><circle cx="654.4" cy="980.8" r="5.4"/><circle cx="674.9" cy="979.7" r="5.1"/><circle cx="456.9" cy="989.2" r="5"/><circle cx="465.8" cy="987.3" r="5.3"/><circle cx="505.4" cy="989" r="5.2"/><circle cx="513.4" cy="989" r="5.2"/><circle cx="543.1" cy="988.3" r="5.4"/><circle cx="563.5" cy="988.8" r="5"/><circle cx="601.1" cy="987.5" r="5"/><circle cx="619.8" cy="989.7" r="5.4"/><circle cx="640.2" cy="985.8" r="5.2"/><circle cx="649" cy="988.8" r="5"/><circle cx="657.5" cy="987.5" r="5"/><circle cx="479.5" cy="996.4" r="4.9"/><circle cx="491.2" cy="995.7" r="5"/><circle cx="568.1" cy="996.9" r="5.3"/><circle cx="587.9" cy="994.8" r="5"/><circle cx="605.8" cy="996.7" r="5.1"/><circle cx="635.2" cy="997.5" r="5.1"/><circle cx="664.9" cy="997.5" r="5"/><circle cx="675.8" cy="997.1" r="4.9"/><circle cx="435.3" cy="1007.3" r="5.2"/><circle cx="446.9" cy="1005.2" r="4.9"/><circle cx="456.6" cy="1005.7" r="5.2"/><circle cx="504" cy="1004.9" r="5.4"/><circle cx="564.1" cy="1003.6" r="5.2"/><circle cx="584.4" cy="1002.9" r="5.4"/><circle cx="628.9" cy="1004.1" r="5.1"/><circle cx="659.2" cy="1004.8" r="5.2"/><circle cx="499.9" cy="1014.2" r="5.4"/><circle cx="520.1" cy="1012.1" r="5.4"/><circle cx="568.2" cy="1014.5" r="5.1"/><circle cx="576.9" cy="1013.1" r="5"/><circle cx="595.2" cy="1013.8" r="5.2"/><circle cx="606.7" cy="1011.8" r="4.9"/><circle cx="447" cy="1021.6" r="5.1"/><circle cx="465.8" cy="1022.6" r="5.3"/><circle cx="494.9" cy="1019.8" r="5.1"/><circle cx="631.3" cy="1019.3" r="5"/><circle cx="670.3" cy="1020.5" r="5.2"/><circle cx="431.5" cy="1030.1" r="5.2"/><circle cx="441.4" cy="1030.6" r="5.2"/><circle cx="452.3" cy="1029.4" r="5.2"/><circle cx="460" cy="1027.8" r="5"/><circle cx="490.6" cy="1030.4" r="5.2"/><circle cx="578.7" cy="1029.1" r="4.9"/><circle cx="597.6" cy="1029.8" r="4.9"/><circle cx="646.6" cy="1029.8" r="5"/><circle cx="665.5" cy="1031.2" r="5.4"/><circle cx="467.2" cy="1038.4" r="4.9"/><circle cx="474.6" cy="1037.8" r="5.3"/><circle cx="487" cy="1036.8" r="5.1"/><circle cx="494.4" cy="1039.3" r="5.1"/><circle cx="504.2" cy="1039.4" r="5.3"/><circle cx="513.7" cy="1036.9" r="5.1"/><circle cx="524.1" cy="1039.5" r="4.9"/><circle cx="592.3" cy="1038.9" r="5.3"/><circle cx="660" cy="1037.2" r="5.1"/><circle cx="451.5" cy="1046.1" r="5.3"/><circle cx="558.2" cy="1048.4" r="5.3"/><circle cx="637.2" cy="1047.2" r="5"/><circle cx="475.8" cy="1055.1" r="5"/><circle cx="563" cy="1054.2" r="5.3"/><circle cx="581.2" cy="1055.1" r="5.2"/><circle cx="592.2" cy="1055.2" r="5.3"/><circle cx="622.1" cy="1056.7" r="5.1"/><circle cx="680" cy="1056.2" r="5"/><circle cx="499.7" cy="1062.7" r="5.3"/><circle cx="508.9" cy="1063.8" r="5.2"/><circle cx="540.2" cy="1062.9" r="5.3"/><circle cx="548.1" cy="1063.6" r="5.3"/><circle cx="558.2" cy="1063.6" r="4.9"/><circle cx="587" cy="1063.5" r="5.4"/><circle cx="624.8" cy="1064.6" r="5.4"/><circle cx="637.5" cy="1064.1" r="5.2"/><circle cx="683.2" cy="1062.9" r="5.4"/><circle cx="436.8" cy="1072.3" r="5.3"/><circle cx="447.8" cy="1072.1" r="5.3"/><circle cx="533.4" cy="1072.9" r="5.3"/><circle cx="543.2" cy="1070.9" r="5.4"/><circle cx="553.7" cy="1072.4" r="5.3"/><circle cx="601.4" cy="1073.5" r="5"/><circle cx="640.3" cy="1071" r="4.9"/><circle cx="679.1" cy="1070.7" r="5"/><circle cx="431.6" cy="1082.6" r="5.1"/><circle cx="461.2" cy="1080.9" r="5.2"/><circle cx="488.7" cy="1082.4" r="5"/><circle cx="499.5" cy="1080.5" r="4.9"/><circle cx="577.2" cy="1080.5" r="5.1"/><circle cx="643.4" cy="1082.4" r="4.9"/><circle cx="683.1" cy="1079.8" r="5.3"/><circle cx="448.3" cy="1089.4" r="5.2"/><circle cx="454.3" cy="1089.2" r="5.3"/><circle cx="483.7" cy="1089.8" r="5.4"/><circle cx="496.6" cy="1087.5" r="5"/><circle cx="525" cy="1089.5" r="5.3"/><circle cx="562.5" cy="1089.3" r="5.3"/><circle cx="583" cy="1087.9" r="5.2"/><circle cx="592.6" cy="1089.2" r="5.1"/><circle cx="621.2" cy="1089.2" r="4.9"/><circle cx="640.6" cy="1090.4" r="5.4"/><circle cx="650" cy="1090.3" r="5"/><circle cx="688.5" cy="1088.5" r="4.9"/><circle cx="481.3" cy="1097.6" r="5.1"/><circle cx="547.9" cy="1097.3" r="5.2"/><circle cx="566.5" cy="1097.8" r="5"/><circle cx="607.6" cy="1097.3" r="5.4"/><circle cx="644.8" cy="1096.3" r="4.9"/><circle cx="681.2" cy="1097" r="4.9"/><circle cx="483.6" cy="1105.2" r="4.9"/><circle cx="513.7" cy="1105" r="5.3"/><circle cx="533.8" cy="1107.4" r="5.1"/><circle cx="561.8" cy="1105.4" r="5.4"/><circle cx="658.6" cy="1105.8" r="5"/><circle cx="441.8" cy="1113.1" r="4.9"/><circle cx="518.5" cy="1114.1" r="5.1"/><circle cx="597.7" cy="1114" r="4.9"/><circle cx="666.7" cy="1112.2" r="5.3"/><circle cx="455.3" cy="1122.9" r="5.2"/><circle cx="524.8" cy="1123" r="5.4"/><circle cx="544.3" cy="1123.2" r="5.1"/><circle cx="564.1" cy="1123.1" r="5.2"/><circle cx="602.7" cy="1122.2" r="5"/><circle cx="689.5" cy="1123.5" r="4.9"/><circle cx="481.2" cy="1129.8" r="4.9"/><circle cx="509.2" cy="1131.6" r="5.2"/><circle cx="519.6" cy="1130.9" r="5"/><circle cx="558.1" cy="1130.4" r="4.9"/><circle cx="588.8" cy="1131.3" r="5.1"/><circle cx="626.6" cy="1132.3" r="5.1"/><circle cx="636.4" cy="1131.2" r="4.9"/><circle cx="683.1" cy="1131.5" r="5.1"/><circle cx="484.6" cy="1139.6" r="5.2"/><circle cx="524.5" cy="1138.3" r="4.9"/><circle cx="571.8" cy="1139.9" r="5.4"/><circle cx="593.4" cy="1140.1" r="5.3"/><circle cx="602.9" cy="1140.5" r="5"/><circle cx="660.2" cy="1139.3" r="4.9"/><circle cx="669.7" cy="1138.6" r="4.9"/><circle cx="689" cy="1138" r="5.3"/><circle cx="501.4" cy="1148.4" r="5.3"/><circle cx="528.7" cy="1147.9" r="4.9"/><circle cx="557.2" cy="1147.9" r="5.2"/><circle cx="567.6" cy="1149.2" r="5"/><circle cx="577.8" cy="1149.1" r="5.3"/><circle cx="585.3" cy="1147.4" r="5.4"/><circle cx="485.1" cy="1155.3" r="5.2"/><circle cx="581.8" cy="1155.8" r="4.9"/><circle cx="601.3" cy="1157.5" r="5.2"/><circle cx="631.3" cy="1156.1" r="5.4"/><circle cx="668" cy="1156.2" r="5.1"/><circle cx="689.5" cy="1157.1" r="4.9"/><circle cx="442.9" cy="1163.7" r="5.3"/><circle cx="450.7" cy="1162.5" r="5.2"/><circle cx="471.2" cy="1165.7" r="5"/><circle cx="480.5" cy="1164.6" r="5"/><circle cx="499" cy="1162.1" r="4.9"/><circle cx="521.1" cy="1164.5" r="5.1"/><circle cx="548.6" cy="1165.7" r="5.4"/><circle cx="568.5" cy="1164.4" r="5.2"/><circle cx="577.3" cy="1165.4" r="5.4"/><circle cx="587.6" cy="1164.5" r="5.2"/><circle cx="616.5" cy="1165" r="5.2"/><circle cx="655.4" cy="1164.5" r="4.9"/><circle cx="454.9" cy="1171.3" r="4.9"/><circle cx="464.8" cy="1174.5" r="5.2"/><circle cx="486.3" cy="1173.7" r="5"/><circle cx="504.6" cy="1174.2" r="4.9"/><circle cx="553.4" cy="1173.6" r="5.1"/><circle cx="601.7" cy="1173.6" r="5.3"/><circle cx="619.4" cy="1172.9" r="5.3"/><circle cx="650.4" cy="1173.9" r="5"/><circle cx="690.1" cy="1173.4" r="5.1"/><circle cx="469.7" cy="1181.5" r="5.4"/><circle cx="598.8" cy="1181.7" r="5.3"/><circle cx="646.9" cy="1180.4" r="5.4"/><circle cx="505.2" cy="1189.2" r="5"/><circle cx="514.5" cy="1190.3" r="4.9"/><circle cx="553.9" cy="1190.3" r="5"/><circle cx="630.7" cy="1190.6" r="5"/><circle cx="432.1" cy="1198.1" r="4.9"/><circle cx="491.6" cy="1197.5" r="5"/><circle cx="519.6" cy="1199.6" r="5.3"/><circle cx="684.2" cy="1197.3" r="5.3"/><circle cx="477" cy="1206.3" r="5.1"/><circle cx="483.1" cy="1206.6" r="5.1"/><circle cx="521.9" cy="1207.4" r="5.3"/><circle cx="552.7" cy="1206.5" r="5"/><circle cx="582.3" cy="1207.9" r="5.1"/><circle cx="658" cy="1206.1" r="5.3"/><circle cx="461.9" cy="1214.3" r="5.1"/><circle cx="490" cy="1216.3" r="5.4"/><circle cx="547.2" cy="1213.8" r="5.3"/><circle cx="587.7" cy="1214.9" r="5"/><circle cx="625" cy="1217.2" r="5.1"/><circle cx="496" cy="1222.1" r="5.1"/><circle cx="504.3" cy="1223.4" r="5.4"/><circle cx="532.9" cy="1223.1" r="5.3"/><circle cx="592.6" cy="1223.9" r="5.3"/><circle cx="640.2" cy="1224.2" r="5"/><circle cx="491" cy="1232.3" r="4.9"/><circle cx="538" cy="1231.8" r="5.2"/><circle cx="484.7" cy="1240.3" r="4.9"/><circle cx="611.8" cy="1240.2" r="5.3"/><circle cx="630" cy="1238.5" r="5.1"/><circle cx="658.3" cy="1240.7" r="4.9"/><circle cx="690.5" cy="1240.2" r="5.3"/><circle cx="432.5" cy="1248.3" r="4.9"/><circle cx="538.5" cy="1249.5" r="5.3"/><circle cx="587.9" cy="1248.6" r="5"/><circle cx="597.1" cy="1247" r="5.1"/><circle cx="605.5" cy="1250.7" r="5.3"/><circle cx="634.6" cy="1248.1" r="5.3"/><circle cx="656.6" cy="1250.1" r="5.4"/><circle cx="447.2" cy="1258.5" r="5.4"/><circle cx="476.2" cy="1255.6" r="4.9"/><circle cx="524.7" cy="1256.2" r="5.1"/><circle cx="544.6" cy="1256.4" r="5"/><circle cx="552.2" cy="1257" r="5.2"/><circle cx="564.9" cy="1255.3" r="5.4"/><circle cx="582.9" cy="1256.1" r="4.9"/><circle cx="620.9" cy="1256.5" r="5"/><circle cx="689.8" cy="1258.2" r="5"/></g>
<g fill="#4c4c4c"><circle cx="430.9" cy="795.4" r="5.4"/><circle cx="440.5" cy="794.9" r="5"/><circle cx="450.3" cy="793.7" r="4.9"/><circle cx="490.4" cy="795.7" r="4.9"/><circle cx="538.8" cy="794" r="5.3"/><circle cx="559" cy="794.4" r="5.4"/><circle cx="597.1" cy="794.4" r="5.2"/><circle cx="673.8" cy="795.8" r="5.4"/><circle cx="514.2" cy="803.5" r="5"/><circle cx="535.2" cy="803.2" r="5.3"/><circle cx="600.4" cy="804.3" r="5.4"/><circle cx="630.7" cy="802.4" r="5.3"/><circle cx="442.3" cy="811.1" r="5.2"/><circle cx="470.1" cy="812" r="5"/><circle cx="500.1" cy="811.6" r="5.3"/><circle cx="529.2" cy="812" r="5.2"/><circle cx="567.7" cy="812.7" r="5.3"/><circle cx="655.6" cy="811.1" r="4.9"/><circle cx="465.2" cy="819.3" r="5.3"/><circle cx="485.8" cy="822.1" r="5.4"/><circle cx="494.5" cy="819.9" r="5.2"/><circle cx="504.6" cy="820.1" r="5.4"/><circle cx="513.1" cy="821.3" r="5.2"/><circle cx="524" cy="819.9" r="5.2"/><circle cx="535.8" cy="819.6" r="5"/><circle cx="572.9" cy="820.9" r="5.2"/><circle cx="600.8" cy="820" r="5.1"/><circle cx="479" cy="829" r="5"/><circle cx="499.4" cy="826.8" r="5"/><circle cx="528.5" cy="826.7" r="5.2"/><circle cx="567.3" cy="827" r="5.3"/><circle cx="577.4" cy="828.2" r="5"/><circle cx="597.1" cy="831" r="5.2"/><circle cx="606" cy="827.5" r="5.2"/><circle cx="654.1" cy="828.2" r="5.4"/><circle cx="684.7" cy="829.6" r="4.9"/><circle cx="436.6" cy="836.8" r="5.4"/><circle cx="496.8" cy="838" r="5.1"/><circle cx="523.8" cy="836.7" r="5.2"/><circle cx="552.4" cy="836.5" r="5.3"/><circle cx="581.9" cy="837.6" r="5.2"/><circle cx="611.8" cy="837.1" r="5"/><circle cx="639.8" cy="837.8" r="5"/><circle cx="669" cy="837.4" r="5.3"/><circle cx="677.8" cy="834.5" r="5"/><circle cx="689" cy="834.7" r="5.1"/><circle cx="480.2" cy="845.8" r="5.3"/><circle cx="492.1" cy="844.2" r="5.4"/><circle cx="500.2" cy="844.6" r="5"/><circle cx="511.4" cy="844.6" r="5"/><circle cx="518.7" cy="846.1" r="5.1"/><circle cx="529.4" cy="846.6" r="5.3"/><circle cx="548.9" cy="844.8" r="4.9"/><circle cx="605.1" cy="845.2" r="5.1"/><circle cx="617.6" cy="845.1" r="5.1"/><circle cx="625.7" cy="843.9" r="5.4"/><circle cx="653.7" cy="845.2" r="5.3"/><circle cx="674.1" cy="845.8" r="5"/><circle cx="683.6" cy="848" r="4.9"/><circle cx="484.9" cy="855" r="5.3"/><circle cx="494.9" cy="855.9" r="5.4"/><circle cx="516.5" cy="854.5" r="5.3"/><circle cx="533.5" cy="853.2" r="4.9"/><circle cx="600.7" cy="853.9" r="5.4"/><circle cx="611.9" cy="853.1" r="5.3"/><circle cx="640.3" cy="854.6" r="4.9"/><circle cx="670.3" cy="852.5" r="4.9"/><circle cx="679.2" cy="853.1" r="5.2"/><circle cx="431.4" cy="861.6" r="5.1"/><circle cx="451.4" cy="862.9" r="5.3"/><circle cx="462.2" cy="861.8" r="5.3"/><circle cx="479.9" cy="860.8" r="5"/><circle cx="519.5" cy="860.4" r="5.1"/><circle cx="578.4" cy="861.5" r="5.1"/><circle cx="588.1" cy="863.4" r="5.4"/><circle cx="637" cy="863.8" r="5.2"/><circle cx="664.3" cy="864.3" r="5"/><circle cx="456.6" cy="871.7" r="4.9"/><circle cx="515.4" cy="868.9" r="5.1"/><circle cx="522.4" cy="869.7" r="5.2"/><circle cx="543.3" cy="868.5" r="5.3"/><circle cx="563.6" cy="871.4" r="5.1"/><circle cx="641.9" cy="869.5" r="5.1"/><circle cx="679.8" cy="870.2" r="5.3"/><circle cx="442.1" cy="879.1" r="5.3"/><circle cx="489.3" cy="880.1" r="5.4"/><circle cx="626.1" cy="880.2" r="5"/><circle cx="656.1" cy="879.1" r="5.1"/><circle cx="684.7" cy="879.7" r="4.9"/><circle cx="436.1" cy="886.6" r="5"/><circle cx="531.8" cy="888" r="5.1"/><circle cx="544.8" cy="887.2" r="4.9"/><circle cx="563.7" cy="886.4" r="5.4"/><circle cx="582.5" cy="888.3" r="5"/><circle cx="592.4" cy="888" r="5"/><circle cx="660.1" cy="887.3" r="5"/><circle cx="518.5" cy="896.2" r="4.9"/><circle cx="548.4" cy="896.2" r="5"/><circle cx="558.8" cy="896.9" r="5.3"/><circle cx="567.7" cy="895.6" r="5.1"/><circle cx="578.3" cy="896.2" r="4.9"/><circle cx="597.7" cy="895.9" r="5.4"/><circle cx="606.5" cy="897.3" r="5"/><circle cx="614.6" cy="894.2" r="5.1"/><circle cx="655.8" cy="896.7" r="5"/><circle cx="674.2" cy="895.1" r="4.9"/><circle cx="515.2" cy="904.9" r="5.3"/><circle cx="533.8" cy="905.4" r="5.3"/><circle cx="543.4" cy="903.5" r="5.3"/><circle cx="573.4" cy="902.6" r="4.9"/><circle cx="601.4" cy="903.2" r="5.2"/><circle cx="639.6" cy="903.9" r="5.1"/><circle cx="650.8" cy="902.4" r="5"/><circle cx="658.8" cy="903.1" r="5.4"/><circle cx="451.7" cy="912.7" r="5.4"/><circle cx="471.3" cy="914.5" r="5.1"/><circle cx="480.8" cy="911.7" r="4.9"/><circle cx="607.3" cy="912.1" r="4.9"/><circle cx="616.3" cy="911.9" r="5.3"/><circle cx="635.1" cy="913.5" r="4.9"/><circle cx="684" cy="914.1" r="5.4"/><circle cx="475.3" cy="920" r="5.2"/><circle cx="484.9" cy="921.5" r="5.2"/><circle cx="494.8" cy="921" r="5.2"/><circle cx="511.7" cy="921.6" r="5.3"/><circle cx="582.1" cy="922.4" r="4.9"/><circle cx="443.1" cy="929.4" r="5.3"/><circle cx="459.6" cy="930.2" r="5.1"/><circle cx="489.8" cy="931.3" r="5.2"/><circle cx="539.2" cy="928.9" r="5.1"/><circle cx="549.2" cy="927.6" r="5.2"/><circle cx="559.7" cy="930.6" r="4.9"/><circle cx="566.8" cy="930.5" r="5.2"/><circle cx="586.4" cy="929.6" r="5.1"/><circle cx="615.4" cy="926.1" r="4.9"/><circle cx="635.9" cy="930.3" r="4.9"/><circle cx="664.6" cy="927.7" r="4.9"/><circle cx="685" cy="929.5" r="5.2"/><circle cx="438.1" cy="938.9" r="5"/><circle cx="465.7" cy="938" r="5"/><circle cx="485.7" cy="937.3" r="5.4"/><circle cx="514.3" cy="936.2" r="4.9"/><circle cx="532.8" cy="936.3" r="4.9"/><circle cx="581.7" cy="938.6" r="5.1"/><circle cx="602.8" cy="938.3" r="5.2"/><circle cx="611.5" cy="938.3" r="5.1"/><circle cx="620.5" cy="937.9" r="5.3"/><circle cx="638.6" cy="936.4" r="5.1"/><circle cx="649.7" cy="938.4" r="5.2"/><circle cx="679.6" cy="936.8" r="5.4"/><circle cx="470.7" cy="946.2" r="5.3"/><circle cx="490.4" cy="945.1" r="5.3"/><circle cx="499" cy="946.5" r="4.9"/><circle cx="578.7" cy="947.2" r="4.9"/><circle cx="587.4" cy="947.1" r="4.9"/><circle cx="596" cy="945.5" r="5.1"/><circle cx="607.1" cy="945.4" r="5.2"/><circle cx="675.9" cy="946.5" r="5.2"/><circle cx="494.9" cy="955.3" r="4.9"/><circle cx="504.6" cy="955.4" r="5"/><circle cx="523.3" cy="953.8" r="5.3"/><circle cx="564" cy="954.2" r="5.2"/><circle cx="591.6" cy="954.4" r="5.4"/><circle cx="630.3" cy="954.5" r="5.2"/><circle cx="640" cy="954.6" r="5.3"/><circle cx="649.9" cy="954.6" r="5.1"/><circle cx="661.1" cy="954.4" r="4.9"/><circle cx="461.8" cy="961.7" r="5.2"/><circle cx="481.2" cy="960.4" r="5.3"/><circle cx="499.8" cy="964.3" r="5.2"/><circle cx="519.5" cy="963.5" r="5"/><circle cx="548.7" cy="963.7" r="5"/><circle cx="557.9" cy="961.5" r="5.3"/><circle cx="575.2" cy="964.6" r="5.1"/><circle cx="614.7" cy="963.3" r="4.9"/><circle cx="665.9" cy="961.9" r="5.4"/><circle cx="436.6" cy="972" r="4.9"/><circle cx="445.4" cy="971.1" r="5.3"/><circle cx="465.4" cy="973" r="5.4"/><circle cx="504.9" cy="971.4" r="5.3"/><circle cx="562.6" cy="972.3" r="5.4"/><circle cx="571.7" cy="972" r="5.1"/><circle cx="622.3" cy="972.3" r="5.1"/><circle cx="628.8" cy="971.4" r="5.1"/><circle cx="641.6" cy="971.4" r="5"/><circle cx="649.6" cy="970.6" r="4.9"/><circle cx="471" cy="979.2" r="5.3"/><circle cx="480.6" cy="982" r="4.9"/><circle cx="511.6" cy="981.6" r="5.4"/><circle cx="546.4" cy="978.8" r="5.2"/><circle cx="615.9" cy="980.5" r="5.2"/><circle cx="627.7" cy="980.2" r="5.2"/><circle cx="635.7" cy="979" r="5"/><circle cx="664" cy="980.3" r="5"/><circle cx="495.7" cy="988.5" r="5.3"/><circle cx="533.7" cy="988.2" r="4.9"/><circle cx="582.3" cy="990" r="5.3"/><circle cx="591.4" cy="989" r="5.1"/><circle cx="610.5" cy="988.5" r="5.4"/><circle cx="689.7" cy="990.3" r="4.9"/><circle cx="432.7" cy="994.9" r="5.1"/><circle cx="441.3" cy="995" r="5.3"/><circle cx="451.4" cy="998.2" r="5.2"/><circle cx="461.6" cy="996.6" r="5.3"/><circle cx="470.5" cy="994.2" r="5"/><circle cx="499.5" cy="996.9" r="5.2"/><circle cx="518.4" cy="998" r="4.9"/><circle cx="528.5" cy="995.2" r="5.3"/><circle cx="547.5" cy="997.6" r="4.9"/><circle cx="646.6" cy="995.8" r="4.9"/><circle cx="465.5" cy="1006" r="5"/><circle cx="485.3" cy="1005.2" r="5"/><circle cx="495" cy="1005.5" r="5.3"/><circle cx="513.5" cy="1004" r="5.3"/><circle cx="523.4" cy="1005.5" r="5.1"/><circle cx="572.6" cy="1003.9" r="5.1"/><circle cx="592.7" cy="1005.3" r="5.4"/><circle cx="601" cy="1004.9" r="5.4"/><circle cx="639.6" cy="1004.3" r="5"/><circle cx="651.3" cy="1004.1" r="5"/><circle cx="528.4" cy="1012.7" r="5.3"/><circle cx="539.7" cy="1013.8" r="5.1"/><circle cx="548.6" cy="1013.5" r="5.4"/><circle cx="663.9" cy="1013.2" r="4.9"/><circle cx="437.8" cy="1020.9" r="5.1"/><circle cx="475" cy="1019.6" r="5"/><circle cx="543" cy="1023" r="5"/><circle cx="554.9" cy="1019.5" r="5"/><circle cx="610.8" cy="1022.2" r="5.1"/><circle cx="660.3" cy="1022" r="4.9"/><circle cx="470.1" cy="1029.4" r="4.9"/><circle cx="480.4" cy="1031.6" r="5.1"/><circle cx="501.5" cy="1030.1" r="5"/><circle cx="518.4" cy="1030.3" r="5.1"/><circle cx="538.5" cy="1029.7" r="4.9"/><circle cx="606.8" cy="1030.4" r="5.2"/><circle cx="656.4" cy="1029.2" r="4.9"/><circle cx="684.1" cy="1028.5" r="5"/><circle cx="447" cy="1039" r="5.3"/><circle cx="602.7" cy="1038.7" r="5.2"/><circle cx="619.9" cy="1040.4" r="5.4"/><circle cx="632" cy="1039.9" r="4.9"/><circle cx="669.4" cy="1038.1" r="5.2"/><circle cx="677.9" cy="1038.5" r="5.3"/><circle cx="432.5" cy="1047.2" r="5.4"/><circle cx="471.4" cy="1047.3" r="5.3"/><circle cx="500.3" cy="1047.5" r="5.2"/><circle cx="512.3" cy="1047.1" r="5.3"/><circle cx="549.3" cy="1046.4" r="4.9"/><circle cx="566.9" cy="1047.4" r="5.1"/><circle cx="576.2" cy="1047.4" r="5.3"/><circle cx="586.7" cy="1046.8" r="4.9"/><circle cx="596.8" cy="1047.2" r="4.9"/><circle cx="608.2" cy="1046.3" r="4.9"/><circle cx="615.8" cy="1047.6" r="4.9"/><circle cx="645.5" cy="1046.6" r="5"/><circle cx="655.3" cy="1045.4" r="5"/><circle cx="437" cy="1054.9" r="5"/><circle cx="465.7" cy="1056.4" r="5.4"/><circle cx="494.1" cy="1056.1" r="5.1"/><circle cx="504.7" cy="1055.6" r="5.2"/><circle cx="533.7" cy="1055.4" r="5.4"/><circle cx="553.5" cy="1054.2" r="5.1"/><circle cx="573.8" cy="1054.4" r="5.2"/><circle cx="600.1" cy="1054.1" r="4.9"/><circle cx="609.9" cy="1057.1" r="4.9"/><circle cx="661" cy="1054.9" r="4.9"/><circle cx="689.7" cy="1056" r="5.1"/><circle cx="450.1" cy="1064.2" r="5.2"/><circle cx="565.9" cy="1064" r="5.4"/><circle cx="576.9" cy="1062.5" r="5.3"/><circle cx="597.2" cy="1062.8" r="5"/><circle cx="457.3" cy="1072.1" r="5.4"/><circle cx="485" cy="1073.1" r="4.9"/><circle cx="513.8" cy="1074.2" r="5"/><circle cx="564.5" cy="1072.1" r="4.9"/><circle cx="581.6" cy="1072.2" r="5.4"/><circle cx="621.1" cy="1074.1" r="4.9"/><circle cx="652" cy="1073" r="5.3"/><circle cx="480.6" cy="1080.8" r="5.1"/><circle cx="587.1" cy="1082.5" r="5"/><circle cx="596.9" cy="1080.5" r="5.2"/><circle cx="616.6" cy="1081.7" r="5"/><circle cx="666.2" cy="1081.5" r="5.2"/><circle cx="437.3" cy="1089.7" r="4.9"/><circle cx="506" cy="1089.6" r="5.4"/><circle cx="515.2" cy="1090" r="4.9"/><circle cx="631.2" cy="1088.6" r="4.9"/><circle cx="432.9" cy="1098.7" r="5"/><circle cx="449.7" cy="1096" r="5.2"/><circle cx="489.2" cy="1097.1" r="5.2"/><circle cx="519" cy="1098.7" r="5.2"/><circle cx="575.4" cy="1096" r="5.2"/><circle cx="587.3" cy="1096.6" r="5.1"/><circle cx="616" cy="1097.7" r="4.9"/><circle cx="625.8" cy="1096.1" r="5.3"/><circle cx="635.6" cy="1096" r="5.2"/><circle cx="654.8" cy="1096.4" r="5.4"/><circle cx="439.3" cy="1105.9" r="5.4"/><circle cx="445.9" cy="1105" r="4.9"/><circle cx="454.6" cy="1106.5" r="4.9"/><circle cx="464.8" cy="1106" r="5.3"/><circle cx="524.3" cy="1108.5" r="5.2"/><circle cx="552.4" cy="1106.2" r="5.2"/><circle cx="602" cy="1105.8" r="5"/><circle cx="612.7" cy="1105.5" r="5.3"/><circle cx="622.3" cy="1105" r="5"/><circle cx="630.4" cy="1105.9" r="5.4"/><circle cx="668.4" cy="1104.9" r="5.4"/><circle cx="452.7" cy="1114.2" r="5.1"/><circle cx="470.9" cy="1113.7" r="4.9"/><circle cx="488.7" cy="1115" r="5.4"/><circle cx="508.5" cy="1112.3" r="5.3"/><circle cx="547.6" cy="1113.6" r="5.2"/><circle cx="558.3" cy="1113" r="4.9"/><circle cx="567.8" cy="1115" r="5.4"/><circle cx="624.4" cy="1114.1" r="5.2"/><circle cx="635.8" cy="1114.6" r="5"/><circle cx="644.6" cy="1113.6" r="5.2"/><circle cx="654.5" cy="1113.4" r="5.3"/><circle cx="683.8" cy="1113.6" r="5.2"/><circle cx="436.1" cy="1121.9" r="5"/><circle cx="445.9" cy="1120.6" r="5"/><circle cx="474.7" cy="1123" r="5.2"/><circle cx="485.8" cy="1121.7" r="5.2"/><circle cx="495" cy="1122.7" r="5"/><circle cx="534.6" cy="1120.9" r="5"/><circle cx="570.8" cy="1123.7" r="5.3"/><circle cx="582.7" cy="1122.2" r="5"/><circle cx="620.2" cy="1122.8" r="5.1"/><circle cx="678.7" cy="1123.3" r="5"/><circle cx="470.8" cy="1130.6" r="5.1"/><circle cx="548.3" cy="1131.5" r="4.9"/><circle cx="577.7" cy="1129.8" r="5.2"/><circle cx="614.9" cy="1130.6" r="5.2"/><circle cx="644.7" cy="1131.1" r="5.3"/><circle cx="667" cy="1131.6" r="5.4"/><circle cx="436.1" cy="1140.6" r="5"/><circle cx="503.6" cy="1137.5" r="5.2"/><circle cx="580.9" cy="1139.8" r="5.3"/><circle cx="610.5" cy="1138.4" r="4.9"/><circle cx="621.1" cy="1138.9" r="4.9"/><circle cx="650.3" cy="1139.3" r="5"/><circle cx="429.5" cy="1147.8" r="5.1"/><circle cx="451.1" cy="1149.9" r="5.4"/><circle cx="489.2" cy="1149" r="5.2"/><circle cx="509.7" cy="1147.5" r="5"/><circle cx="537.8" cy="1147" r="4.9"/><circle cx="606.8" cy="1148.2" r="5.2"/><circle cx="617.7" cy="1147" r="5.2"/><circle cx="635.7" cy="1147.9" r="5.4"/><circle cx="683.8" cy="1147.7" r="5.3"/><circle cx="467.6" cy="1157.6" r="5"/><circle cx="514.1" cy="1156.2" r="4.9"/><circle cx="523.5" cy="1156" r="5.2"/><circle cx="533.8" cy="1155.9" r="5.3"/><circle cx="641.4" cy="1156.2" r="5.1"/><circle cx="650.9" cy="1156.5" r="4.9"/><circle cx="679.5" cy="1155.3" r="5.3"/><circle cx="432" cy="1165.8" r="5.3"/><circle cx="460" cy="1164.2" r="5.4"/><circle cx="508.7" cy="1163.7" r="5.1"/><circle cx="606.9" cy="1165.3" r="5.2"/><circle cx="626.8" cy="1165.4" r="5.4"/><circle cx="645.6" cy="1163" r="5"/><circle cx="665.3" cy="1164.4" r="5"/><circle cx="437.5" cy="1173.5" r="5.1"/><circle cx="477.6" cy="1171.7" r="4.9"/><circle cx="523.8" cy="1172.9" r="5"/><circle cx="532.6" cy="1172.6" r="5.4"/><circle cx="543.2" cy="1173.6" r="5.3"/><circle cx="561.4" cy="1173.7" r="5.1"/><circle cx="581.7" cy="1173.2" r="5"/><circle cx="611.8" cy="1172.7" r="5"/><circle cx="631.1" cy="1173" r="5"/><circle cx="671.1" cy="1173" r="5.3"/><circle cx="461.8" cy="1181.1" r="5.3"/><circle cx="479.1" cy="1182.6" r="5"/><circle cx="518.2" cy="1182" r="4.9"/><circle cx="559.4" cy="1182.9" r="5.4"/><circle cx="568.2" cy="1179.9" r="5.2"/><circle cx="624.7" cy="1179.9" r="5"/><circle cx="655.1" cy="1181" r="5.1"/><circle cx="436.4" cy="1188.5" r="5.1"/><circle cx="456.5" cy="1189" r="5"/><circle cx="465.5" cy="1191.4" r="4.9"/><circle cx="475.5" cy="1188.9" r="5.3"/><circle cx="485" cy="1189.5" r="5"/><circle cx="494.3" cy="1189.1" r="4.9"/><circle cx="544.8" cy="1189.3" r="5.2"/><circle cx="580.8" cy="1190.2" r="5"/><circle cx="592.3" cy="1189" r="5.3"/><circle cx="610.9" cy="1190.4" r="5.4"/><circle cx="620.8" cy="1188.7" r="5.2"/><circle cx="670" cy="1190.1" r="5.1"/><circle cx="443.7" cy="1197.7" r="5.3"/><circle cx="461.2" cy="1196.5" r="5.3"/><circle cx="478.8" cy="1198.9" r="5.3"/><circle cx="500" cy="1198.1" r="5.4"/><circle cx="509.7" cy="1198.1" r="5"/><circle cx="529.4" cy="1197.9" r="5"/><circle cx="547" cy="1197.9" r="5.3"/><circle cx="606.3" cy="1197" r="5.4"/><circle cx="615.7" cy="1198.6" r="5.3"/><circle cx="635.3" cy="1195.8" r="5"/><circle cx="645.1" cy="1198.4" r="5.3"/><circle cx="664.9" cy="1198" r="4.9"/><circle cx="437.8" cy="1207.1" r="5.1"/><circle cx="445.3" cy="1206.1" r="5.1"/><circle cx="494.5" cy="1205.3" r="5"/><circle cx="514" cy="1207.2" r="5.4"/><circle cx="562" cy="1206.5" r="5.1"/><circle cx="572.1" cy="1205.4" r="4.9"/><circle cx="593.5" cy="1206.2" r="5.2"/><circle cx="602.9" cy="1207.7" r="5"/><circle cx="610.8" cy="1206.2" r="5.4"/><circle cx="621.3" cy="1206.6" r="5.1"/><circle cx="639.7" cy="1207" r="5.3"/><circle cx="689.4" cy="1205.4" r="5.2"/><circle cx="441.3" cy="1214.2" r="5.3"/><circle cx="499" cy="1213.7" r="5.1"/><circle cx="537.8" cy="1214.2" r="5.2"/><circle cx="578.2" cy="1214.8" r="5.1"/><circle cx="617.4" cy="1216" r="4.9"/><circle cx="636.3" cy="1215.1" r="5.4"/><circle cx="646.1" cy="1215.2" r="5.1"/><circle cx="654.5" cy="1215.6" r="5.1"/><circle cx="665.2" cy="1216.1" r="5.2"/><circle cx="684.8" cy="1215.6" r="5.1"/><circle cx="437.3" cy="1225.3" r="5"/><circle cx="466.7" cy="1224.1" r="5.2"/><circle cx="484.3" cy="1224.4" r="5.3"/><circle cx="523.4" cy="1223.4" r="5.1"/><circle cx="543.4" cy="1224.1" r="5"/><circle cx="572.5" cy="1223.2" r="5.2"/><circle cx="610.4" cy="1222.9" r="5.3"/><circle cx="622.2" cy="1222.6" r="5.3"/><circle cx="668.6" cy="1223" r="5.1"/><circle cx="680.4" cy="1222.7" r="5.3"/><circle cx="690.2" cy="1222.3" r="5.1"/><circle cx="462" cy="1231" r="5.2"/><circle cx="471.9" cy="1231.4" r="5.2"/><circle cx="508.9" cy="1231.6" r="5.3"/><circle cx="528.7" cy="1231.1" r="5.2"/><circle cx="548.8" cy="1231.2" r="5.2"/><circle cx="567" cy="1232.4" r="5.4"/><circle cx="576" cy="1231.5" r="5.2"/><circle cx="635.1" cy="1231.7" r="5.3"/><circle cx="664.7" cy="1233.3" r="5.3"/><circle cx="436.4" cy="1239.5" r="5.3"/><circle cx="447.4" cy="1238.6" r="5"/><circle cx="455.8" cy="1240.4" r="5.4"/><circle cx="475.5" cy="1239.7" r="5.2"/><circle cx="493.9" cy="1239.2" r="5.3"/><circle cx="504" cy="1239.9" r="5.2"/><circle cx="524.8" cy="1240.4" r="4.9"/><circle cx="580.7" cy="1241.4" r="5"/><circle cx="592.9" cy="1239.6" r="5.3"/><circle cx="600.9" cy="1241.5" r="5.2"/><circle cx="640.2" cy="1239.1" r="5.3"/><circle cx="669.1" cy="1241" r="5.3"/><circle cx="450.9" cy="1248.1" r="4.9"/><circle cx="481.4" cy="1250.7" r="5.4"/><circle cx="510.1" cy="1248.4" r="5.3"/><circle cx="548.9" cy="1248.4" r="5"/><circle cx="575.4" cy="1249.2" r="5.3"/><circle cx="623.9" cy="1249.5" r="5"/><circle cx="646" cy="1250" r="5.2"/><circle cx="664.5" cy="1248.4" r="5"/><circle cx="675.2" cy="1249.1" r="5.1"/><circle cx="684.6" cy="1248.8" r="5.4"/><circle cx="437" cy="1258.1" r="5.1"/><circle cx="457.8" cy="1256.5" r="5.2"/><circle cx="465.6" cy="1256.1" r="4.9"/><circle cx="486.4" cy="1257.4" r="5"/><circle cx="534.3" cy="1258.1" r="4.9"/><circle cx="602.1" cy="1256.3" r="5.3"/><circle cx="631.4" cy="1257.9" r="4.9"/><circle cx="640.9" cy="1257.9" r="5.4"/><circle cx="669.6" cy="1255.6" r="5"/></g>
<g fill="#3c3c3c"><circle cx="508.3" cy="795" r="5.1"/><circle cx="550.1" cy="794.5" r="4.9"/><circle cx="568.9" cy="795.6" r="5.3"/><circle cx="617" cy="795.7" r="5"/><circle cx="647.6" cy="796.8" r="5"/><circle cx="682.6" cy="794.1" r="5"/><circle cx="438.2" cy="802.4" r="5"/><circle cx="457.2" cy="802.5" r="5.1"/><circle cx="475.6" cy="805.3" r="5.2"/><circle cx="486" cy="804.8" r="4.9"/><circle cx="493.4" cy="802.7" r="5.2"/><circle cx="505.3" cy="803.1" r="4.9"/><circle cx="651.4" cy="803.7" r="5.1"/><circle cx="460.6" cy="809.4" r="5"/><circle cx="509" cy="813.5" r="4.9"/><circle cx="519.1" cy="811.9" r="5.3"/><circle cx="548.2" cy="811.2" r="5.1"/><circle cx="559.1" cy="811.9" r="5.3"/><circle cx="617.2" cy="811.4" r="5.2"/><circle cx="674.6" cy="811.5" r="5.3"/><circle cx="683.4" cy="813.3" r="4.9"/><circle cx="592.8" cy="821" r="5"/><circle cx="650.9" cy="823.7" r="5.4"/><circle cx="670.1" cy="819.3" r="5.3"/><circle cx="678.2" cy="821.1" r="4.9"/><circle cx="688.2" cy="818.2" r="5.4"/><circle cx="450.4" cy="828.2" r="5.2"/><circle cx="509.5" cy="827.6" r="5"/><circle cx="635.7" cy="829.6" r="4.9"/><circle cx="445.4" cy="836.8" r="5.1"/><circle cx="533.9" cy="837.3" r="5.2"/><circle cx="542.3" cy="837.5" r="5.1"/><circle cx="565.2" cy="837" r="5.3"/><circle cx="591" cy="836.2" r="5.3"/><circle cx="650.2" cy="835.1" r="4.9"/><circle cx="660.4" cy="835.7" r="5.3"/><circle cx="440.7" cy="844.9" r="5.2"/><circle cx="437.8" cy="854.8" r="5.3"/><circle cx="456.7" cy="853.9" r="5"/><circle cx="466.1" cy="855.4" r="5.2"/><circle cx="502.6" cy="853.1" r="5.1"/><circle cx="553.5" cy="854.3" r="5"/><circle cx="621.5" cy="853.6" r="5.3"/><circle cx="691.8" cy="854" r="5.3"/><circle cx="490.8" cy="861.1" r="4.9"/><circle cx="606.2" cy="861.7" r="4.9"/><circle cx="465.4" cy="870.3" r="5.2"/><circle cx="574" cy="871.1" r="5.2"/><circle cx="452.9" cy="877.8" r="5.3"/><circle cx="470.9" cy="879.8" r="5.3"/><circle cx="539.3" cy="879.4" r="5.3"/><circle cx="566.2" cy="880.5" r="5.1"/><circle cx="596.5" cy="877.9" r="5.4"/><circle cx="606.7" cy="878.4" r="5.2"/><circle cx="643.8" cy="878.1" r="5"/><circle cx="673.5" cy="878.5" r="5.3"/><circle cx="448" cy="888.4" r="4.9"/><circle cx="466.8" cy="887.8" r="5.1"/><circle cx="495.7" cy="887.6" r="5.4"/><circle cx="524.2" cy="888.2" r="5.2"/><circle cx="640.4" cy="886.6" r="5.1"/><circle cx="679" cy="887.4" r="5.1"/><circle cx="431.6" cy="896.8" r="5.2"/><circle cx="460.4" cy="896.4" r="5.4"/><circle cx="528.5" cy="896.8" r="5"/><circle cx="586.3" cy="895.2" r="5"/><circle cx="665.3" cy="895.7" r="5"/><circle cx="474.5" cy="904.3" r="5.1"/><circle cx="485.3" cy="903" r="5"/><circle cx="494.8" cy="904.8" r="5.1"/><circle cx="590.2" cy="903" r="5.4"/><circle cx="669.3" cy="903" r="5.3"/><circle cx="679.5" cy="904.6" r="5.4"/><circle cx="431.5" cy="912.4" r="5.2"/><circle cx="441.8" cy="913.7" r="5.1"/><circle cx="509.5" cy="912" r="4.9"/><circle cx="528.6" cy="913.7" r="4.9"/><circle cx="558.8" cy="911.1" r="5.4"/><circle cx="568.7" cy="912.3" r="5.3"/><circle cx="577.7" cy="912.5" r="5.2"/><circle cx="596.1" cy="913.7" r="5.1"/><circle cx="625.8" cy="912" r="4.9"/><circle cx="674.7" cy="913.6" r="5.3"/><circle cx="437.2" cy="921.9" r="5.4"/><circle cx="446" cy="920.3" r="5.2"/><circle cx="503.7" cy="920.3" r="5.4"/><circle cx="535.8" cy="923.2" r="5.1"/><circle cx="571.6" cy="921.4" r="5.4"/><circle cx="611.6" cy="920.5" r="5.1"/><circle cx="669.2" cy="921.7" r="5.2"/><circle cx="678.2" cy="920.1" r="5"/><circle cx="688.7" cy="920" r="4.9"/><circle cx="433.2" cy="928.9" r="5.1"/><circle cx="509.3" cy="929.5" r="5.1"/><circle cx="528.7" cy="928.7" r="5.1"/><circle cx="455.5" cy="937.7" r="5.3"/><circle cx="474.7" cy="937.4" r="5.3"/><circle cx="572.1" cy="938.3" r="5.3"/><circle cx="670" cy="937.9" r="5"/><circle cx="518.7" cy="945.1" r="4.9"/><circle cx="617.1" cy="946.1" r="5.3"/><circle cx="625.9" cy="947.8" r="5.2"/><circle cx="655.9" cy="945.6" r="5.1"/><circle cx="437" cy="954.2" r="5.3"/><circle cx="446.9" cy="955.8" r="5.2"/><circle cx="475.2" cy="956.5" r="5.3"/><circle cx="485.4" cy="954.8" r="5.2"/><circle cx="532.8" cy="952.7" r="5.3"/><circle cx="582.2" cy="954.3" r="5.4"/><circle cx="439.4" cy="962.7" r="4.9"/><circle cx="569.1" cy="963.8" r="5"/><circle cx="589.5" cy="961.4" r="5.1"/><circle cx="625.8" cy="963.3" r="5.4"/><circle cx="476.1" cy="972.2" r="5.2"/><circle cx="532.5" cy="971.4" r="5.1"/><circle cx="544.3" cy="971.5" r="4.9"/><circle cx="601.6" cy="972" r="5.3"/><circle cx="611" cy="971.1" r="5.4"/><circle cx="658.7" cy="971.6" r="5.4"/><circle cx="669.3" cy="971.6" r="5.3"/><circle cx="440.9" cy="979.8" r="5"/><circle cx="557.5" cy="980.4" r="4.9"/><circle cx="577.1" cy="978.7" r="5"/><circle cx="595.9" cy="981.8" r="5.4"/><circle cx="475.4" cy="987.1" r="5.1"/><circle cx="629.8" cy="989.1" r="5.3"/><circle cx="670.6" cy="988.3" r="5.3"/><circle cx="559.6" cy="994.9" r="5"/><circle cx="596.6" cy="995.7" r="5.4"/><circle cx="615.2" cy="996" r="5.4"/><circle cx="475.1" cy="1005.7" r="5"/><circle cx="553.6" cy="1003.7" r="5"/><circle cx="621.7" cy="1005.8" r="5.2"/><circle cx="670.3" cy="1005.1" r="5.2"/><circle cx="688.7" cy="1004.8" r="5.2"/><circle cx="443.3" cy="1013.8" r="4.9"/><circle cx="460.8" cy="1014.1" r="5.3"/><circle cx="479.7" cy="1013" r="5.3"/><circle cx="510.1" cy="1013.7" r="5"/><circle cx="588.8" cy="1014.3" r="4.9"/><circle cx="646" cy="1013.9" r="5"/><circle cx="655.5" cy="1014.8" r="4.9"/><circle cx="524.7" cy="1022.6" r="5.2"/><circle cx="533.9" cy="1021.5" r="5.2"/><circle cx="562.7" cy="1021.2" r="5.3"/><circle cx="591.8" cy="1021.5" r="5.3"/><circle cx="621.1" cy="1020.7" r="5.2"/><circle cx="640.7" cy="1022" r="5.1"/><circle cx="547.2" cy="1029.2" r="5.1"/><circle cx="568.6" cy="1029.5" r="4.9"/><circle cx="674.5" cy="1031.5" r="5"/><circle cx="436.4" cy="1037.1" r="5.1"/><circle cx="455.7" cy="1037.9" r="5.1"/><circle cx="534.5" cy="1038.2" r="5.1"/><circle cx="562.3" cy="1039.5" r="5"/><circle cx="581.3" cy="1037.2" r="5"/><circle cx="640.9" cy="1038.9" r="5.1"/><circle cx="689.5" cy="1036.8" r="4.9"/><circle cx="440.8" cy="1047.4" r="5.2"/><circle cx="480" cy="1046.1" r="5.2"/><circle cx="489.5" cy="1047.2" r="5.2"/><circle cx="520.2" cy="1048.6" r="5.4"/><circle cx="529.1" cy="1045.2" r="5.4"/><circle cx="626.5" cy="1046.2" r="5"/><circle cx="664.2" cy="1047.9" r="5.3"/><circle cx="684.7" cy="1046.8" r="5.4"/><circle cx="457" cy="1054.5" r="4.9"/><circle cx="542.5" cy="1055.8" r="4.9"/><circle cx="630.2" cy="1057.3" r="4.9"/><circle cx="640.4" cy="1053.4" r="5.3"/><circle cx="443.1" cy="1062.8" r="5"/><circle cx="615.8" cy="1064.3" r="5"/><circle cx="593.3" cy="1072.8" r="5"/><circle cx="631.2" cy="1072.4" r="5.4"/><circle cx="667.6" cy="1071.8" r="5.2"/><circle cx="688.2" cy="1071.7" r="5.2"/><circle cx="471.5" cy="1080.4" r="5"/><circle cx="509.8" cy="1080.4" r="5.3"/><circle cx="518.6" cy="1078.9" r="5.3"/><circle cx="557.9" cy="1080.9" r="5.1"/><circle cx="606.1" cy="1078.2" r="5.3"/><circle cx="655.7" cy="1080.4" r="4.9"/><circle cx="675.5" cy="1081.6" r="4.9"/><circle cx="475.7" cy="1087.9" r="5.4"/><circle cx="543.8" cy="1087.7" r="5.1"/><circle cx="573.4" cy="1088.1" r="4.9"/><circle cx="610.6" cy="1088.6" r="5.4"/><circle cx="668.4" cy="1091.1" r="5.2"/><circle cx="460.7" cy="1098.3" r="5.2"/><circle cx="469.7" cy="1095.9" r="5.3"/><circle cx="499.4" cy="1096.3" r="5.2"/><circle cx="529.7" cy="1099" r="4.9"/><circle cx="557.4" cy="1096.6" r="5.2"/><circle cx="665.3" cy="1098.4" r="5.1"/><circle cx="674.9" cy="1097" r="5.3"/><circle cx="474.7" cy="1108" r="5.2"/><circle cx="494.3" cy="1105.9" r="4.9"/><circle cx="503.9" cy="1106.2" r="5.2"/><circle cx="582.7" cy="1105.1" r="4.9"/><circle cx="590.3" cy="1105.9" r="4.9"/><circle cx="640.9" cy="1106.9" r="5.3"/><circle cx="649.9" cy="1105.6" r="5"/><circle cx="680.3" cy="1105.8" r="5.1"/><circle cx="433" cy="1114.8" r="5"/><circle cx="460.6" cy="1112.4" r="5.3"/><circle cx="500" cy="1113.1" r="5.1"/><circle cx="530" cy="1114.3" r="5.1"/><circle cx="538.6" cy="1113.4" r="5.1"/><circle cx="577.5" cy="1113.6" r="5.2"/><circle cx="616.5" cy="1115.9" r="5.3"/><circle cx="674.1" cy="1113" r="5"/><circle cx="552.9" cy="1124" r="4.9"/><circle cx="610.2" cy="1121.2" r="5.2"/><circle cx="669.4" cy="1122" r="5.3"/><circle cx="539.2" cy="1131.2" r="5"/><circle cx="568.2" cy="1131.3" r="5.1"/><circle cx="597.7" cy="1131.7" r="5.2"/><circle cx="675.5" cy="1130.6" r="5.2"/><circle cx="445.6" cy="1139.9" r="4.9"/><circle cx="513.5" cy="1139.3" r="5"/><circle cx="544" cy="1140.5" r="5.1"/><circle cx="641.4" cy="1137.8" r="5.3"/><circle cx="469.5" cy="1147.2" r="5.3"/><circle cx="480" cy="1146.9" r="5"/><circle cx="547.6" cy="1147.7" r="5"/><circle cx="596.5" cy="1148.4" r="5.2"/><circle cx="437.1" cy="1154.8" r="5.2"/><circle cx="446.8" cy="1156.5" r="5.1"/><circle cx="456.5" cy="1156.1" r="5.3"/><circle cx="474.9" cy="1155.7" r="5.1"/><circle cx="560.7" cy="1156.9" r="5"/><circle cx="571.4" cy="1155.8" r="4.9"/><circle cx="593.2" cy="1154.9" r="5.3"/><circle cx="489.1" cy="1165.5" r="5.1"/><circle cx="598.3" cy="1164.2" r="5"/><circle cx="495" cy="1173.1" r="5.4"/><circle cx="514.4" cy="1172.5" r="5.2"/><circle cx="592.4" cy="1174.3" r="4.9"/><circle cx="660.7" cy="1173.7" r="5"/><circle cx="681.7" cy="1172.6" r="5.2"/><circle cx="588.3" cy="1181.9" r="5.3"/><circle cx="666.3" cy="1182.7" r="5.1"/><circle cx="444.9" cy="1191" r="4.9"/><circle cx="650.5" cy="1188.4" r="5.3"/><circle cx="691" cy="1189.6" r="4.9"/><circle cx="557.3" cy="1196.4" r="5.3"/><circle cx="569.2" cy="1198.5" r="5.3"/><circle cx="578.4" cy="1196.9" r="4.9"/><circle cx="597.3" cy="1200.1" r="5.4"/><circle cx="655.2" cy="1198" r="4.9"/><circle cx="673.2" cy="1199.5" r="5.3"/><circle cx="456.9" cy="1205.3" r="5"/><circle cx="503.5" cy="1207.3" r="5.3"/><circle cx="668.8" cy="1205.8" r="5"/><circle cx="470.6" cy="1214.6" r="5.1"/><circle cx="480.2" cy="1214.5" r="5"/><circle cx="519.5" cy="1214.8" r="5.4"/><circle cx="529.9" cy="1216" r="5.1"/><circle cx="558.6" cy="1214" r="5.2"/><circle cx="568.7" cy="1215.5" r="5.2"/><circle cx="446.2" cy="1223.1" r="5.1"/><circle cx="600.6" cy="1225.1" r="4.9"/><circle cx="440.8" cy="1231.7" r="5.2"/><circle cx="452.3" cy="1231.2" r="5.3"/><circle cx="479.8" cy="1232" r="5.1"/><circle cx="501.5" cy="1233" r="5"/><circle cx="617.7" cy="1233.1" r="5.3"/><circle cx="675" cy="1232.3" r="5.3"/><circle cx="682.7" cy="1233.4" r="5.1"/><circle cx="545" cy="1241.3" r="5.1"/><circle cx="552.6" cy="1239.6" r="4.9"/><circle cx="562.3" cy="1238.8" r="5.4"/><circle cx="572.7" cy="1239.3" r="5.2"/><circle cx="651" cy="1241" r="5.3"/><circle cx="469.7" cy="1250.1" r="5"/><circle cx="501.6" cy="1248" r="5.2"/><circle cx="567.3" cy="1248.5" r="5"/><circle cx="514.8" cy="1257.5" r="5"/><circle cx="572" cy="1255.4" r="5"/><circle cx="592.5" cy="1257.6" r="5.4"/><circle cx="610.2" cy="1256.4" r="5.3"/><circle cx="650" cy="1257" r="5"/><circle cx="659.6" cy="1256.6" r="5"/><circle cx="679.2" cy="1258.3" r="5.2"/></g>
<g fill="#282828"><circle cx="462.5" cy="796" r="5.7"/><circle cx="480.6" cy="795.1" r="5.6"/><circle cx="528.7" cy="795.7" r="5.4"/><circle cx="587.7" cy="795.5" r="5.3"/><circle cx="655.2" cy="794.1" r="5.4"/><circle cx="491.2" cy="811.7" r="5.3"/><circle cx="447.5" cy="819.8" r="5.8"/><circle cx="660" cy="821.8" r="5.4"/><circle cx="441.8" cy="829" r="5.3"/><circle cx="666.1" cy="828.6" r="5.7"/><circle cx="465.9" cy="837.2" r="5.4"/><circle cx="620.9" cy="836.7" r="5.6"/><circle cx="433.5" cy="846.6" r="5.3"/><circle cx="592.7" cy="854.2" r="5.7"/><circle cx="471" cy="861.8" r="5.3"/><circle cx="500.2" cy="862.6" r="5.5"/><circle cx="674.8" cy="861.6" r="5.6"/><circle cx="474.9" cy="870.2" r="5.6"/><circle cx="532.1" cy="871.5" r="5.4"/><circle cx="553.3" cy="869.7" r="5.6"/><circle cx="582" cy="871.5" r="5.4"/><circle cx="630.9" cy="871.4" r="5.4"/><circle cx="460.4" cy="876.8" r="5.5"/><circle cx="518.3" cy="879.5" r="5.6"/><circle cx="504.2" cy="887.9" r="5.5"/><circle cx="611.8" cy="886.9" r="5.5"/><circle cx="689.5" cy="887.5" r="5.6"/><circle cx="470.6" cy="896.7" r="5.4"/><circle cx="510" cy="895.3" r="5.6"/><circle cx="646" cy="895.1" r="5.8"/><circle cx="525.1" cy="905.9" r="5.8"/><circle cx="553.6" cy="919.9" r="5.9"/><circle cx="447.4" cy="938.7" r="5.3"/><circle cx="479.4" cy="943.6" r="5.8"/><circle cx="549.7" cy="947.6" r="5.5"/><circle cx="602" cy="954.3" r="5.7"/><circle cx="622.1" cy="953.2" r="5.6"/><circle cx="431.1" cy="962.1" r="5.8"/><circle cx="452.9" cy="961.2" r="5.3"/><circle cx="470.9" cy="961.2" r="5.2"/><circle cx="684.7" cy="963.3" r="5.5"/><circle cx="456.6" cy="971.3" r="5.4"/><circle cx="528.7" cy="979.4" r="5.7"/><circle cx="645.4" cy="980.7" r="5.3"/><circle cx="446" cy="988.1" r="5.7"/><circle cx="483.1" cy="988.6" r="5.8"/><circle cx="525.5" cy="988.7" r="5.3"/><circle cx="683.1" cy="996.2" r="5.3"/><circle cx="543.6" cy="1005.2" r="5.4"/><circle cx="432.6" cy="1011.9" r="5.7"/><circle cx="470" cy="1012.4" r="5.8"/><circle cx="626.6" cy="1012.7" r="5.3"/><circle cx="636.4" cy="1012.3" r="5.8"/><circle cx="673.6" cy="1013.4" r="5.5"/><circle cx="455.3" cy="1022.9" r="5.8"/><circle cx="689.1" cy="1022" r="5.3"/><circle cx="529.3" cy="1030.2" r="5.5"/><circle cx="587.4" cy="1031.3" r="5.6"/><circle cx="617.6" cy="1029.2" r="5.4"/><circle cx="544.4" cy="1039.7" r="5.8"/><circle cx="572" cy="1039" r="5.7"/><circle cx="485" cy="1056" r="5.3"/><circle cx="513.6" cy="1055.5" r="5.4"/><circle cx="651.5" cy="1056.2" r="5.7"/><circle cx="461.9" cy="1063.8" r="5.3"/><circle cx="471.2" cy="1065.4" r="5.8"/><circle cx="644.8" cy="1063.2" r="5.5"/><circle cx="475.1" cy="1072.7" r="5.7"/><circle cx="523.5" cy="1072.1" r="5.6"/><circle cx="659.7" cy="1072.3" r="5.7"/><circle cx="451.4" cy="1077.8" r="5.6"/><circle cx="566.7" cy="1081.2" r="5.7"/><circle cx="627.2" cy="1081.4" r="5.5"/><circle cx="466.2" cy="1088.4" r="5.5"/><circle cx="534.5" cy="1088.1" r="5.5"/><circle cx="552.9" cy="1089.1" r="5.3"/><circle cx="602.9" cy="1088.5" r="5.4"/><circle cx="678.9" cy="1088.3" r="5.3"/><circle cx="538.6" cy="1098.1" r="5.4"/><circle cx="574.9" cy="1107.4" r="5.2"/><circle cx="690.2" cy="1106.5" r="5.3"/><circle cx="606.5" cy="1113.9" r="5.7"/><circle cx="590.2" cy="1121.1" r="5.7"/><circle cx="452.2" cy="1130.6" r="5.6"/><circle cx="527.6" cy="1131.1" r="5.7"/><circle cx="654.9" cy="1132" r="5.2"/><circle cx="495.7" cy="1138.5" r="5.7"/><circle cx="553.2" cy="1140" r="5.3"/><circle cx="631.6" cy="1138.3" r="5.4"/><circle cx="681.3" cy="1139" r="5.6"/><circle cx="645.6" cy="1146.7" r="5.8"/><circle cx="664.1" cy="1149.1" r="5.3"/><circle cx="543.9" cy="1156.9" r="5.6"/><circle cx="553.8" cy="1155.8" r="5.5"/><circle cx="610.8" cy="1156" r="5.4"/><circle cx="528.2" cy="1163" r="5.9"/><circle cx="556.5" cy="1163.5" r="5.8"/><circle cx="674.8" cy="1163.4" r="5.7"/><circle cx="684.6" cy="1165.9" r="5.7"/><circle cx="572.6" cy="1174" r="5.7"/><circle cx="501.5" cy="1181" r="5.5"/><circle cx="509.5" cy="1183.1" r="5.4"/><circle cx="606.1" cy="1182.3" r="5.7"/><circle cx="683.6" cy="1180.6" r="5.3"/><circle cx="659.8" cy="1189.8" r="5.6"/><circle cx="533.4" cy="1206.6" r="5.5"/><circle cx="650" cy="1208.9" r="5.4"/><circle cx="476.6" cy="1223" r="5.8"/><circle cx="515" cy="1223" r="5.7"/><circle cx="431.2" cy="1234.5" r="5.6"/><circle cx="514.6" cy="1239.4" r="5.5"/><circle cx="620.9" cy="1239.1" r="5.7"/><circle cx="460.1" cy="1248.3" r="5.6"/><circle cx="529.6" cy="1250" r="5.5"/><circle cx="504.4" cy="1257" r="5.3"/></g>
<g fill="#101010"><circle cx="663.3" cy="811.3" r="6.2"/><circle cx="563.4" cy="820" r="6.4"/><circle cx="489.3" cy="828.5" r="6.2"/><circle cx="445.7" cy="871.5" r="6.4"/><circle cx="621.9" cy="871.5" r="6.5"/><circle cx="620.8" cy="886.5" r="6"/><circle cx="582" cy="903.6" r="5.9"/><circle cx="631.3" cy="904.2" r="6.1"/><circle cx="688.6" cy="904.2" r="6"/><circle cx="660.4" cy="922.4" r="6.1"/><circle cx="631.8" cy="937.9" r="6.5"/><circle cx="538.6" cy="997.5" r="6.2"/><circle cx="577.4" cy="997.8" r="6.3"/><circle cx="611.8" cy="1005" r="6.5"/><circle cx="616.6" cy="1013.9" r="5.8"/><circle cx="683.8" cy="1013" r="6.1"/><circle cx="571.9" cy="1021.5" r="5.8"/><circle cx="679" cy="1022.2" r="6.3"/><circle cx="556.8" cy="1031.8" r="6"/><circle cx="523.9" cy="1056.2" r="5.9"/><circle cx="606.1" cy="1062.7" r="5.9"/><circle cx="675.5" cy="1061" r="6.1"/><circle cx="505.1" cy="1073.4" r="6"/><circle cx="631.3" cy="1123.2" r="5.9"/><circle cx="460.6" cy="1131.7" r="6.3"/><circle cx="475" cy="1140.1" r="6.3"/><circle cx="518.8" cy="1149.6" r="6"/><circle cx="504.3" cy="1155.8" r="6.1"/><circle cx="451.8" cy="1179.8" r="6.3"/><circle cx="490.1" cy="1181.7" r="6.1"/><circle cx="562.2" cy="1188.6" r="6.5"/><circle cx="468.9" cy="1197.2" r="6.2"/><circle cx="626.2" cy="1198.1" r="6.4"/><circle cx="562.9" cy="1224.2" r="6.2"/><circle cx="580.3" cy="1225.5" r="6"/><circle cx="631.1" cy="1224.7" r="6.5"/><circle cx="586.8" cy="1231.2" r="6.1"/><circle cx="626.4" cy="1233.4" r="6.3"/><circle cx="557.8" cy="1249.2" r="6.3"/></g>
<g fill="#f4f4f4" opacity="0.8" stroke="none"><circle cx="477.8" cy="843.5" r="0.7"/><circle cx="640" cy="1037.7" r="0.7"/><circle cx="520.8" cy="1079.8" r="0.9"/><circle cx="634" cy="802.2" r="1.1"/><circle cx="572.8" cy="883.5" r="1.4"/><circle cx="566" cy="857.9" r="1.2"/><circle cx="442.7" cy="1102.1" r="1.3"/><circle cx="588" cy="810.2" r="0.7"/><circle cx="633.6" cy="1175.2" r="0.9"/><circle cx="656.9" cy="1160.4" r="0.8"/><circle cx="646.7" cy="806.1" r="0.9"/><circle cx="485.7" cy="893.1" r="1"/><circle cx="446.9" cy="1227.8" r="0.8"/><circle cx="598.4" cy="955.8" r="1.3"/><circle cx="569.4" cy="1019.8" r="1.2"/><circle cx="569.8" cy="999.7" r="0.8"/><circle cx="626.3" cy="1078.4" r="1"/><circle cx="671.2" cy="1005.7" r="1.2"/><circle cx="474.9" cy="959.3" r="1.1"/><circle cx="497.5" cy="1241.3" r="1.4"/><circle cx="589.5" cy="1118.5" r="0.9"/><circle cx="619.8" cy="1181.3" r="1"/><circle cx="570.6" cy="1089.9" r="0.9"/><circle cx="446.9" cy="880.7" r="1.1"/><circle cx="587.6" cy="1179.1" r="0.9"/><circle cx="475.9" cy="985.9" r="0.8"/><circle cx="497.6" cy="1016.6" r="1.2"/><circle cx="461.1" cy="877" r="1"/><circle cx="560" cy="877.9" r="1.2"/><circle cx="570.4" cy="1226.6" r="1.4"/><circle cx="585.4" cy="839.2" r="1.1"/><circle cx="500.6" cy="923.5" r="0.8"/><circle cx="600.5" cy="1090.8" r="0.9"/><circle cx="490.9" cy="1239.7" r="1.1"/><circle cx="602" cy="908.9" r="1.4"/><circle cx="607" cy="1025.5" r="0.8"/><circle cx="539.9" cy="811" r="0.8"/><circle cx="622" cy="849.3" r="0.8"/><circle cx="517.3" cy="1228.7" r="0.8"/><circle cx="535.1" cy="1035.9" r="0.7"/><circle cx="570" cy="831" r="0.9"/><circle cx="512.7" cy="1241.7" r="1"/><circle cx="507.2" cy="945.9" r="0.9"/><circle cx="474.6" cy="940" r="1.2"/><circle cx="519.9" cy="901.6" r="0.7"/><circle cx="623.4" cy="932.1" r="0.9"/><circle cx="637.8" cy="1229.3" r="1.1"/><circle cx="452.5" cy="1170.4" r="1.2"/><circle cx="440.1" cy="927.5" r="1.3"/><circle cx="549.2" cy="878.2" r="1.4"/><circle cx="486.5" cy="879.9" r="1.2"/><circle cx="670.9" cy="1113.3" r="0.7"/><circle cx="440.8" cy="895" r="1.2"/><circle cx="664.3" cy="851.2" r="1.2"/><circle cx="596.7" cy="813.1" r="1.3"/><circle cx="510.6" cy="965.8" r="1.3"/><circle cx="565.3" cy="1077.4" r="0.7"/><circle cx="584.1" cy="866.1" r="1.3"/><circle cx="620.3" cy="1087.5" r="1.2"/><circle cx="668.4" cy="1167.4" r="1.2"/><circle cx="521.7" cy="805.6" r="1.4"/><circle cx="451.3" cy="819.1" r="1.1"/><circle cx="672.2" cy="997.2" r="0.8"/><circle cx="440.6" cy="871.5" r="1"/><circle cx="519" cy="919.2" r="1.3"/><circle cx="673.8" cy="1233.4" r="0.8"/><circle cx="601.9" cy="872.6" r="1"/><circle cx="555.1" cy="939.7" r="1.2"/><circle cx="488.3" cy="1155.6" r="1.2"/><circle cx="585.7" cy="833.7" r="0.8"/><circle cx="627.9" cy="1224.7" r="0.9"/><circle cx="594.6" cy="1135.8" r="1.3"/><circle cx="468.4" cy="890.8" r="0.7"/><circle cx="601" cy="958.6" r="1.2"/><circle cx="475.2" cy="1082.8" r="0.9"/><circle cx="540.4" cy="1061.5" r="1.4"/><circle cx="481.6" cy="1146.9" r="0.7"/><circle cx="478.1" cy="1108.7" r="0.8"/><circle cx="636.2" cy="1193.7" r="0.9"/><circle cx="604.2" cy="1087.5" r="1.4"/><circle cx="553.9" cy="963.1" r="1.3"/><circle cx="499.5" cy="1204.6" r="1"/><circle cx="532.9" cy="1170.1" r="1.2"/><circle cx="479.9" cy="1091.9" r="1.4"/><circle cx="531.2" cy="1047.2" r="1.2"/><circle cx="607.3" cy="973" r="1"/><circle cx="478.1" cy="1077.3" r="0.9"/><circle cx="623.2" cy="819.5" r="1.2"/><circle cx="474.2" cy="1184.8" r="1.3"/><circle cx="520.8" cy="844" r="0.8"/><circle cx="485.4" cy="1233.6" r="1.3"/><circle cx="441.7" cy="803.8" r="1.1"/><circle cx="544.2" cy="1044.7" r="1.3"/><circle cx="635.3" cy="859.7" r="1.4"/><circle cx="545.3" cy="1008.2" r="0.8"/><circle cx="492.8" cy="882.5" r="0.9"/><circle cx="565.5" cy="914.2" r="0.9"/><circle cx="462.3" cy="830.7" r="1.3"/><circle cx="540.4" cy="1000.3" r="0.8"/><circle cx="670.1" cy="805.6" r="1.2"/><circle cx="446.3" cy="927.7" r="1"/><circle cx="544.4" cy="1112" r="1.1"/><circle cx="603" cy="829.6" r="0.9"/><circle cx="501.3" cy="1013.3" r="1"/><circle cx="461.7" cy="856.9" r="0.7"/><circle cx="449.1" cy="1086.7" r="1.4"/><circle cx="577.3" cy="887.6" r="1.1"/><circle cx="553.8" cy="925.4" r="1.3"/><circle cx="498.6" cy="935.5" r="0.7"/><circle cx="493.6" cy="1208.7" r="1"/><circle cx="609.5" cy="1017" r="0.9"/><circle cx="520.4" cy="1025.5" r="0.9"/><circle cx="558.6" cy="811.1" r="1"/><circle cx="463.5" cy="1012" r="1.1"/><circle cx="652.8" cy="1186.5" r="1.3"/><circle cx="541.9" cy="930.6" r="1.3"/><circle cx="464.3" cy="968.2" r="0.7"/><circle cx="629.4" cy="1130.1" r="1.3"/><circle cx="480.2" cy="1170.6" r="1.2"/><circle cx="565.6" cy="996.5" r="1.3"/><circle cx="548.5" cy="1219.1" r="1.3"/><circle cx="523.4" cy="1038.6" r="1"/><circle cx="650.5" cy="1178.3" r="1"/><circle cx="523.5" cy="940.5" r="1.2"/><circle cx="594.3" cy="1075" r="1.1"/><circle cx="595.8" cy="802.7" r="1"/><circle cx="601.1" cy="1123.2" r="1.3"/><circle cx="489.7" cy="1210.5" r="1.4"/><circle cx="583.7" cy="1163.6" r="0.8"/><circle cx="480.7" cy="896.3" r="1.1"/><circle cx="648.6" cy="955.1" r="1.4"/><circle cx="633.7" cy="819.7" r="0.7"/><circle cx="673.5" cy="1021.4" r="1.2"/><circle cx="641" cy="934.6" r="0.7"/><circle cx="642.3" cy="1212.6" r="1"/><circle cx="593.3" cy="805.1" r="1.4"/><circle cx="581.5" cy="1233.2" r="1.2"/><circle cx="521.6" cy="879.5" r="1.1"/><circle cx="641.8" cy="1036.6" r="1.1"/><circle cx="488.3" cy="865.2" r="0.9"/></g>
</g>
</g>
<rect x="478" y="1156.4" width="52" height="12.6" fill="#fff"/>
<text x="441.2" y="1224.2" font-size="50" fill="#fff" class="ls" textLength="141.6" lengthAdjust="spacing">50 nm</text>
<text transform="translate(446.5 851) scale(1.1 0.935)" font-size="65" fill="#fff" class="ls">d</text>
</g>
<g id="panel-e">
<rect x="1196" y="116" width="186" height="108" rx="48" fill="#f1d450" filter="url(#be2)"/>
<rect x="822" y="157.5" width="148" height="21.5" rx="3" fill="#ff8484" filter="url(#be1)"/>
<rect x="1032" y="81.5" width="110" height="26" rx="7" fill="url(#gtop)" filter="url(#be3)"/>
<rect x="1032" y="232" width="114" height="26" rx="7" fill="url(#gbot)" filter="url(#be3)"/>
<g fill="none" stroke="#7f7f7f" stroke-width="1.5" stroke-dasharray="9.2 7"><path d="M825 168.6H970"/><path d="M970 168 L1040 99"/><path d="M970 168.6 L1042 243"/><path d="M1143 98 L1209 169"/><path d="M1209 169 L1136 243.5"/><path d="M1209 169 H1352"/></g>
<path d="M1040 94H1144" stroke="url(#gl1)" stroke-width="1.8" stroke-dasharray="9.2 7" fill="none"/>
<path d="M1040 244.4H1144" stroke="url(#gl2)" stroke-width="1.8" stroke-dasharray="9.2 7" fill="none"/>
<path d="M1058 233 C1015 190 1015 150 1046 119" fill="none" stroke="#7030a0" stroke-width="5.6" stroke-dasharray="12.5 5.2"/>
<path d="M1062.4 99.6 L1037 112 L1050.5 116.5 L1057.5 128.5 Z" fill="#7030a0"/>
<path d="M1120 105 C1162 145 1162 188 1131 219" fill="none" stroke="#7030a0" stroke-width="5.6" stroke-dasharray="12.5 5.2"/>
<path d="M1115 239 L1121.5 211.5 L1128.5 223.5 L1142.5 227 Z" fill="#7030a0"/>
<text x="1001.5" y="48" font-size="40" class="ls" textLength="185" lengthAdjust="spacingAndGlyphs">polaritons</text>
<text x="824" y="134" font-size="40" class="ls" textLength="131.5" lengthAdjust="spacingAndGlyphs">exciton</text>
<text x="1215.2" y="143.3" font-size="40" class="ls" textLength="158" lengthAdjust="spacingAndGlyphs">plasmon</text>
<text x="1073.5" y="186" font-size="47" class="se" fill="#7030a0">Ω</text>
<text x="964.6" y="99" font-size="46" class="si" fill="#7030a0">ω</text><text x="1000" y="113.3" font-size="42" class="ls" fill="#7030a0">+</text>
<text x="968.6" y="256" font-size="46" class="si" fill="#7030a0">ω</text><text x="1002" y="271.9" font-size="42" class="ls" fill="#7030a0">−</text>
<text x="858.6" y="212" font-size="46" class="si" fill="#c00000">ω</text><text x="896" y="223" font-size="33.5" class="se" fill="#c00000">0</text>
<text x="710.5" y="58.2" font-size="66" class="ls">e</text>
</g>
<g id="panel-f">
<g clip-path="url(#cf)" fill="none" stroke-width="3.25" stroke-linejoin="round">
<path d="M776.2 726.5C776.7 726.5 778.2 726.5 779.2 726.6C780.2 726.6 781.2 726.6 782.2 726.7C783.2 726.7 784.2 726.7 785.2 726.8C786.2 726.8 787.2 726.8 788.2 726.8C789.2 726.9 790.2 726.9 791.2 726.9C792.2 726.9 793.2 726.9 794.2 726.9C795.2 726.9 796.2 727 797.2 727C798.2 727 799.2 727 800.2 727C801.2 727 802.2 727 803.2 727C804.2 727 805.2 727 806.2 727C807.2 727 808.2 727 809.2 726.9C810.2 726.9 811.2 726.9 812.2 726.8C813.2 726.7 814.2 726.5 815.2 726.4C816.2 726.2 817.2 726 818.2 725.7C819.2 725.4 820.2 725.1 821.2 724.8C822.2 724.5 823.2 724.2 824.2 723.8C825.2 723.4 826.2 723.1 827.2 722.7C828.2 722.3 829.2 721.9 830.2 721.4C831.2 720.9 832.2 720.5 833.2 719.9C834.2 719.4 835.2 718.8 836.2 718.1C837.2 717.5 838.2 716.7 839.2 716C840.2 715.3 841.2 714.5 842.2 713.7C843.2 712.9 844.2 712 845.2 711.2C846.2 710.3 847.2 709.4 848.2 708.5C849.2 707.7 850.2 706.8 851.2 705.8C852.2 704.9 853.2 703.9 854.2 702.9C855.2 701.9 856.2 700.9 857.2 699.8C858.2 698.7 859.2 697.6 860.2 696.5C861.2 695.4 862.2 694.2 863.2 693C864.2 691.9 865.2 690.7 866.2 689.5C867.2 688.3 868.2 687.1 869.2 685.9C870.2 684.6 871.2 683.3 872.2 682C873.2 680.7 874.2 679.3 875.2 677.9C876.2 676.4 877.2 675 878.2 673.5C879.2 672.1 880.2 670.6 881.2 669.2C882.2 667.9 883.2 666.5 884.2 665.3C885.2 664 886.2 662.9 887.2 661.9C888.2 660.9 889.2 660 890.2 659.1C891.2 658.3 892.2 657.6 893.2 657C894.2 656.3 895.2 655.7 896.2 655.1C897.2 654.6 898.2 654 899.2 653.5C900.2 653 901.2 652.5 902.2 652.1C903.2 651.6 904.2 651.2 905.2 650.8C906.2 650.4 907.2 650 908.2 649.7C909.2 649.3 910.2 649 911.2 648.7C912.2 648.4 913.2 648.1 914.2 647.9C915.2 647.6 916.2 647.4 917.2 647.2C918.2 647 919.2 646.8 920.2 646.5C921.2 646.3 922.2 646.1 923.2 645.9C924.2 645.6 925.2 645.4 926.2 645.1C927.2 644.8 928.2 644.5 929.2 644.1C930.2 643.8 931.2 643.3 932.2 642.9C933.2 642.4 934.2 641.8 935.2 641.2C936.2 640.6 937.2 639.9 938.2 639.1C939.2 638.4 940.2 637.5 941.2 636.5C942.2 635.6 943.2 634.4 944.2 633.3C945.2 632.1 946.2 630.9 947.2 629.6C948.2 628.4 949.2 627.1 950.2 625.9C951.2 624.7 952.2 623.5 953.2 622.3C954.2 621 955.2 619.9 956.2 618.6C957.2 617.3 958.2 616.1 959.2 614.7C960.2 613.2 961.2 611.7 962.2 610C963.2 608.2 964.2 606.3 965.2 604.3C966.2 602.2 967.2 600 968.2 597.8C969.2 595.5 970.2 593.2 971.2 591C972.2 588.8 973.2 586.6 974.2 584.5C975.2 582.4 976.2 580.3 977.2 578.3C978.2 576.3 979.2 574.3 980.2 572.3C981.2 570.4 982.2 568.4 983.2 566.5C984.2 564.6 985.2 562.8 986.2 560.9C987.2 559.1 988.2 557.3 989.2 555.5C990.2 553.7 991.2 551.9 992.2 550.2C993.2 548.4 994.2 546.6 995.2 544.9C996.2 543.2 997.2 541.4 998.2 539.8C999.2 538.2 1000.2 536.5 1001.2 535.1C1002.2 533.7 1003.2 532.3 1004.2 531.2C1005.2 530 1006.2 529 1007.2 528C1008.2 527.1 1009.2 526.3 1010.2 525.5C1011.2 524.7 1012.2 524 1013.2 523.3C1014.2 522.6 1015.2 521.9 1016.2 521.2C1017.2 520.5 1018.2 519.9 1019.2 519.3C1020.2 518.7 1021.2 518.1 1022.2 517.7C1023.2 517.3 1024.2 516.9 1025.2 516.7C1026.2 516.5 1027.2 516.4 1028.2 516.3C1029.2 516.2 1030.2 516.2 1031.2 516.1C1032.2 516.1 1033.2 516 1034.2 516C1035.2 515.9 1036.2 515.8 1037.2 515.7C1038.2 515.7 1039.2 515.6 1040.2 515.4C1041.2 515.3 1042.2 515.2 1043.2 515C1044.2 514.9 1045.2 514.7 1046.2 514.4C1047.2 514.2 1048.2 513.9 1049.2 513.6C1050.2 513.3 1051.2 513 1052.2 512.6C1053.2 512.2 1054.2 511.8 1055.2 511.3C1056.2 510.8 1057.2 510.3 1058.2 509.8C1059.2 509.2 1060.2 508.5 1061.2 507.9C1062.2 507.2 1063.2 506.4 1064.2 505.6C1065.2 504.8 1066.2 504 1067.2 503C1068.2 502.1 1069.2 501.1 1070.2 500.1C1071.2 499 1072.2 497.9 1073.2 496.8C1074.2 495.7 1075.2 494.5 1076.2 493.3C1077.2 492.1 1078.2 490.8 1079.2 489.6C1080.2 488.3 1081.2 487.1 1082.2 485.8C1083.2 484.5 1084.2 483.3 1085.2 482.1C1086.2 480.8 1087.2 479.6 1088.2 478.3C1089.2 477 1090.2 475.7 1091.2 474.3C1092.2 472.9 1093.2 471.5 1094.2 470.1C1095.2 468.7 1096.2 467.2 1097.2 465.9C1098.2 464.6 1099.2 463.3 1100.2 462.2C1101.2 461.1 1102.2 460.1 1103.2 459.3C1104.2 458.5 1105.2 457.8 1106.2 457.2C1107.2 456.7 1108.2 456.3 1109.2 456C1110.2 455.7 1111.2 455.5 1112.2 455.4C1113.2 455.4 1114.2 455.4 1115.2 455.6C1116.2 455.8 1117.2 456.1 1118.2 456.6C1119.2 457.2 1120.2 457.9 1121.2 458.7C1122.2 459.6 1123.2 460.6 1124.2 461.8C1125.2 463 1126.2 464.3 1127.2 465.8C1128.2 467.3 1129.2 469 1130.2 470.8C1131.2 472.6 1132.2 474.5 1133.2 476.6C1134.2 478.6 1135.2 480.9 1136.2 483.1C1137.2 485.4 1138.2 487.8 1139.2 490.2C1140.2 492.6 1141.2 495 1142.2 497.5C1143.2 500 1144.2 502.6 1145.2 505.2C1146.2 507.8 1147.2 510.5 1148.2 513.2C1149.2 515.9 1150.2 518.7 1151.2 521.6C1152.2 524.4 1153.2 527.3 1154.2 530.3C1155.2 533.3 1156.2 536.3 1157.2 539.4C1158.2 542.5 1159.2 545.7 1160.2 548.9C1161.2 552.1 1162.2 555.5 1163.2 558.6C1164.2 561.8 1165.2 565.1 1166.2 568.1C1167.2 571.1 1168.2 574 1169.2 576.9C1170.2 579.7 1171.2 582.3 1172.2 585C1173.2 587.7 1174.2 590.2 1175.2 592.8C1176.2 595.4 1177.2 598 1178.2 600.5C1179.2 603.1 1180.2 605.6 1181.2 608.1C1182.2 610.7 1183.2 613.2 1184.2 615.7C1185.2 618.2 1186.2 620.7 1187.2 623.1C1188.2 625.6 1189.2 628 1190.2 630.5C1191.2 632.9 1192.2 635.4 1193.2 637.8C1194.2 640.2 1195.2 642.7 1196.2 645C1197.2 647.3 1198.2 649.6 1199.2 651.8C1200.2 654 1201.2 656.1 1202.2 658.1C1203.2 660.1 1204.2 661.9 1205.2 663.7C1206.2 665.5 1207.2 667.3 1208.2 668.9C1209.2 670.6 1210.2 672.2 1211.2 673.7C1212.2 675.2 1213.2 676.7 1214.2 678.1C1215.2 679.6 1216.2 681 1217.2 682.3C1218.2 683.6 1219.2 684.9 1220.2 686.2C1221.2 687.4 1222.2 688.6 1223.2 689.8C1224.2 690.9 1225.2 692 1226.2 693.1C1227.2 694.2 1228.2 695.2 1229.2 696.2C1230.2 697.1 1231.2 698.1 1232.2 699C1233.2 699.9 1234.2 700.8 1235.2 701.6C1236.2 702.5 1237.2 703.3 1238.2 704C1239.2 704.8 1240.2 705.6 1241.2 706.3C1242.2 707 1243.2 707.7 1244.2 708.3C1245.2 709 1246.2 709.6 1247.2 710.2C1248.2 710.9 1249.2 711.5 1250.2 712.1C1251.2 712.7 1252.2 713.3 1253.2 713.9C1254.2 714.5 1255.2 715.1 1256.2 715.6C1257.2 716.2 1258.2 716.8 1259.2 717.3C1260.2 717.9 1261.2 718.4 1262.2 719C1263.2 719.5 1264.2 720 1265.2 720.5C1266.2 721.1 1267.2 721.6 1268.2 722.1C1269.2 722.6 1270.2 723.1 1271.2 723.6C1272.2 724.1 1273.2 724.5 1274.2 725C1275.2 725.5 1276.2 726 1277.2 726.4C1278.2 726.9 1279.2 727.4 1280.2 727.8C1281.2 728.3 1282.2 728.7 1283.2 729.2C1284.2 729.6 1285.2 730 1286.2 730.4C1287.2 730.8 1288.2 731.3 1289.2 731.7C1290.2 732.1 1291.2 732.4 1292.2 732.8C1293.2 733.2 1294.2 733.6 1295.2 734C1296.2 734.3 1297.2 734.7 1298.2 735C1299.2 735.4 1300.2 735.7 1301.2 736.1C1302.2 736.4 1303.2 736.8 1304.2 737.1C1305.2 737.4 1306.2 737.8 1307.2 738.1C1308.2 738.4 1309.2 738.7 1310.2 739.1C1311.2 739.4 1312.2 739.7 1313.2 740C1314.2 740.3 1315.2 740.6 1316.2 741C1317.2 741.3 1318.2 741.6 1319.2 741.9C1320.2 742.2 1321.2 742.5 1322.2 742.8C1323.2 743.1 1324.2 743.4 1325.2 743.6C1326.2 743.9 1327.2 744.2 1328.2 744.5C1329.2 744.8 1330.2 745 1331.2 745.3C1332.2 745.6 1333.2 745.9 1334.2 746.1C1335.2 746.4 1336.2 746.6 1337.2 746.9C1338.2 747.2 1339.2 747.4 1340.2 747.7C1341.2 747.9 1342.2 748.2 1343.2 748.4C1344.2 748.6 1345.2 748.9 1346.2 749.1C1347.2 749.4 1348.2 749.6 1349.2 749.8C1350.2 750 1351.2 750.3 1352.2 750.5C1353.2 750.7 1354.2 750.9 1355.2 751.1C1356.2 751.3 1357.2 751.5 1358.2 751.7C1359.2 752 1360.2 752.2 1361.2 752.4C1362.2 752.6 1363.2 752.7 1364.2 752.9C1365.2 753.1 1366.2 753.3 1367.2 753.5C1368.2 753.7 1369.2 753.8 1370.2 754C1371.2 754.2 1372.2 754.4 1373.2 754.5C1374.2 754.7 1375.2 754.8 1376.2 755C1377.2 755.2 1378.2 755.3 1379.2 755.5C1380.2 755.6 1381.2 755.8 1382.2 755.9C1383.2 756.1 1384.2 756.2 1385.2 756.3C1386.2 756.5 1387.2 756.6 1388.2 756.7C1389.2 756.9 1390.2 757 1391.2 757.1C1392.2 757.3 1393.2 757.4 1394.2 757.5C1395.2 757.6 1396.7 757.7 1397.2 757.8" stroke="#0f6cf0"/>
<path d="M776.2 721.9C776.7 722 778.2 722.2 779.2 722.3C780.2 722.5 781.2 722.7 782.2 722.8C783.2 723 784.2 723.1 785.2 723.3C786.2 723.4 787.2 723.5 788.2 723.6C789.2 723.7 790.2 723.8 791.2 723.9C792.2 724 793.2 724 794.2 724.1C795.2 724.1 796.2 724.2 797.2 724.2C798.2 724.3 799.2 724.3 800.2 724.3C801.2 724.3 802.2 724.4 803.2 724.4C804.2 724.4 805.2 724.4 806.2 724.4C807.2 724.4 808.2 724.4 809.2 724.4C810.2 724.3 811.2 724.3 812.2 724.2C813.2 724.1 814.2 724 815.2 723.8C816.2 723.7 817.2 723.5 818.2 723.3C819.2 723.1 820.2 722.8 821.2 722.5C822.2 722.2 823.2 721.9 824.2 721.6C825.2 721.3 826.2 720.9 827.2 720.6C828.2 720.2 829.2 719.8 830.2 719.4C831.2 718.9 832.2 718.4 833.2 717.9C834.2 717.3 835.2 716.7 836.2 716C837.2 715.3 838.2 714.5 839.2 713.7C840.2 712.9 841.2 712.1 842.2 711.2C843.2 710.3 844.2 709.4 845.2 708.5C846.2 707.6 847.2 706.6 848.2 705.7C849.2 704.7 850.2 703.8 851.2 702.8C852.2 701.8 853.2 700.7 854.2 699.7C855.2 698.6 856.2 697.5 857.2 696.4C858.2 695.3 859.2 694.1 860.2 692.9C861.2 691.7 862.2 690.5 863.2 689.3C864.2 688.1 865.2 686.9 866.2 685.7C867.2 684.4 868.2 683.2 869.2 681.9C870.2 680.6 871.2 679.3 872.2 678C873.2 676.6 874.2 675.2 875.2 673.8C876.2 672.4 877.2 670.9 878.2 669.5C879.2 668.1 880.2 666.6 881.2 665.3C882.2 663.9 883.2 662.5 884.2 661.3C885.2 660.1 886.2 658.9 887.2 657.9C888.2 656.9 889.2 656 890.2 655.1C891.2 654.3 892.2 653.5 893.2 652.8C894.2 652.1 895.2 651.5 896.2 650.9C897.2 650.3 898.2 649.7 899.2 649.2C900.2 648.6 901.2 648.1 902.2 647.6C903.2 647.2 904.2 646.7 905.2 646.3C906.2 645.9 907.2 645.5 908.2 645.1C909.2 644.8 910.2 644.4 911.2 644.1C912.2 643.8 913.2 643.6 914.2 643.3C915.2 643.1 916.2 642.9 917.2 642.7C918.2 642.4 919.2 642.3 920.2 642.1C921.2 641.9 922.2 641.7 923.2 641.4C924.2 641.2 925.2 641 926.2 640.7C927.2 640.4 928.2 640.1 929.2 639.7C930.2 639.3 931.2 638.9 932.2 638.4C933.2 637.9 934.2 637.3 935.2 636.6C936.2 636 937.2 635.2 938.2 634.5C939.2 633.7 940.2 632.8 941.2 631.9C942.2 631 943.2 630 944.2 629C945.2 628.1 946.2 627 947.2 625.9C948.2 624.9 949.2 623.7 950.2 622.5C951.2 621.3 952.2 620.1 953.2 618.7C954.2 617.3 955.2 615.8 956.2 614.3C957.2 612.7 958.2 611.1 959.2 609.4C960.2 607.6 961.2 605.8 962.2 603.9C963.2 602 964.2 600 965.2 597.9C966.2 595.8 967.2 593.6 968.2 591.4C969.2 589.1 970.2 586.8 971.2 584.6C972.2 582.3 973.2 580.1 974.2 577.9C975.2 575.6 976.2 573.4 977.2 571.2C978.2 569 979.2 566.8 980.2 564.6C981.2 562.4 982.2 560.2 983.2 558C984.2 555.8 985.2 553.6 986.2 551.4C987.2 549.2 988.2 546.9 989.2 544.7C990.2 542.5 991.2 540.4 992.2 538.2C993.2 536.1 994.2 533.9 995.2 531.8C996.2 529.7 997.2 527.6 998.2 525.6C999.2 523.6 1000.2 521.6 1001.2 519.6C1002.2 517.7 1003.2 515.9 1004.2 514.1C1005.2 512.3 1006.2 510.6 1007.2 508.9C1008.2 507.3 1009.2 505.7 1010.2 504.2C1011.2 502.8 1012.2 501.4 1013.2 500.2C1014.2 498.9 1015.2 497.8 1016.2 496.8C1017.2 495.8 1018.2 494.9 1019.2 494.1C1020.2 493.2 1021.2 492.5 1022.2 491.9C1023.2 491.3 1024.2 490.8 1025.2 490.4C1026.2 490 1027.2 489.7 1028.2 489.6C1029.2 489.4 1030.2 489.3 1031.2 489.4C1032.2 489.4 1033.2 489.7 1034.2 489.9C1035.2 490.2 1036.2 490.5 1037.2 490.9C1038.2 491.3 1039.2 491.7 1040.2 492.1C1041.2 492.5 1042.2 492.9 1043.2 493.3C1044.2 493.7 1045.2 494.1 1046.2 494.5C1047.2 494.9 1048.2 495.3 1049.2 495.7C1050.2 496 1051.2 496.4 1052.2 496.7C1053.2 497.1 1054.2 497.4 1055.2 497.7C1056.2 498 1057.2 498.3 1058.2 498.5C1059.2 498.7 1060.2 498.9 1061.2 499.1C1062.2 499.3 1063.2 499.4 1064.2 499.5C1065.2 499.6 1066.2 499.7 1067.2 499.8C1068.2 499.8 1069.2 499.9 1070.2 499.8C1071.2 499.8 1072.2 499.7 1073.2 499.6C1074.2 499.4 1075.2 499.2 1076.2 499C1077.2 498.7 1078.2 498.4 1079.2 498C1080.2 497.6 1081.2 497.1 1082.2 496.5C1083.2 496 1084.2 495.3 1085.2 494.7C1086.2 494.1 1087.2 493.4 1088.2 492.9C1089.2 492.3 1090.2 491.8 1091.2 491.2C1092.2 490.7 1093.2 490.2 1094.2 489.7C1095.2 489.2 1096.2 488.7 1097.2 488.3C1098.2 487.8 1099.2 487.4 1100.2 487C1101.2 486.6 1102.2 486.3 1103.2 485.9C1104.2 485.6 1105.2 485.3 1106.2 485C1107.2 484.7 1108.2 484.5 1109.2 484.2C1110.2 484 1111.2 483.8 1112.2 483.6C1113.2 483.5 1114.2 483.3 1115.2 483.3C1116.2 483.3 1117.2 483.4 1118.2 483.5C1119.2 483.6 1120.2 483.9 1121.2 484.2C1122.2 484.5 1123.2 484.8 1124.2 485.3C1125.2 485.7 1126.2 486.2 1127.2 486.8C1128.2 487.4 1129.2 488.1 1130.2 488.9C1131.2 489.8 1132.2 490.7 1133.2 491.9C1134.2 493.1 1135.2 494.4 1136.2 495.9C1137.2 497.4 1138.2 499.1 1139.2 500.8C1140.2 502.5 1141.2 504.3 1142.2 506.2C1143.2 508 1144.2 510 1145.2 512C1146.2 514 1147.2 516.1 1148.2 518.3C1149.2 520.4 1150.2 522.7 1151.2 525C1152.2 527.3 1153.2 529.7 1154.2 532.2C1155.2 534.7 1156.2 537.2 1157.2 539.8C1158.2 542.3 1159.2 545 1160.2 547.6C1161.2 550.2 1162.2 552.9 1163.2 555.5C1164.2 558.2 1165.2 560.9 1166.2 563.6C1167.2 566.4 1168.2 569.1 1169.2 571.9C1170.2 574.6 1171.2 577.4 1172.2 580.3C1173.2 583.1 1174.2 585.9 1175.2 588.7C1176.2 591.5 1177.2 594.3 1178.2 597C1179.2 599.6 1180.2 602.3 1181.2 604.8C1182.2 607.4 1183.2 609.8 1184.2 612.2C1185.2 614.7 1186.2 617 1187.2 619.4C1188.2 621.8 1189.2 624.2 1190.2 626.6C1191.2 629 1192.2 631.4 1193.2 633.8C1194.2 636.2 1195.2 638.6 1196.2 640.9C1197.2 643.3 1198.2 645.6 1199.2 647.8C1200.2 650 1201.2 652.1 1202.2 654C1203.2 656 1204.2 657.9 1205.2 659.7C1206.2 661.5 1207.2 663.2 1208.2 664.9C1209.2 666.5 1210.2 668.1 1211.2 669.7C1212.2 671.2 1213.2 672.7 1214.2 674.2C1215.2 675.7 1216.2 677.1 1217.2 678.6C1218.2 680 1219.2 681.3 1220.2 682.7C1221.2 684 1222.2 685.3 1223.2 686.5C1224.2 687.8 1225.2 688.9 1226.2 690.1C1227.2 691.2 1228.2 692.3 1229.2 693.3C1230.2 694.4 1231.2 695.4 1232.2 696.3C1233.2 697.3 1234.2 698.2 1235.2 699.1C1236.2 700 1237.2 700.8 1238.2 701.7C1239.2 702.5 1240.2 703.3 1241.2 704.1C1242.2 704.9 1243.2 705.6 1244.2 706.4C1245.2 707.1 1246.2 707.8 1247.2 708.5C1248.2 709.2 1249.2 709.8 1250.2 710.5C1251.2 711.1 1252.2 711.7 1253.2 712.4C1254.2 713 1255.2 713.6 1256.2 714.2C1257.2 714.7 1258.2 715.3 1259.2 715.9C1260.2 716.4 1261.2 717 1262.2 717.5C1263.2 718.1 1264.2 718.6 1265.2 719.1C1266.2 719.7 1267.2 720.2 1268.2 720.7C1269.2 721.2 1270.2 721.7 1271.2 722.2C1272.2 722.7 1273.2 723.1 1274.2 723.6C1275.2 724.1 1276.2 724.6 1277.2 725C1278.2 725.5 1279.2 726 1280.2 726.4C1281.2 726.8 1282.2 727.3 1283.2 727.7C1284.2 728.2 1285.2 728.6 1286.2 729C1287.2 729.4 1288.2 729.8 1289.2 730.3C1290.2 730.7 1291.2 731.1 1292.2 731.5C1293.2 731.9 1294.2 732.3 1295.2 732.6C1296.2 733 1297.2 733.4 1298.2 733.8C1299.2 734.2 1300.2 734.5 1301.2 734.9C1302.2 735.3 1303.2 735.6 1304.2 736C1305.2 736.3 1306.2 736.7 1307.2 737C1308.2 737.4 1309.2 737.7 1310.2 738C1311.2 738.4 1312.2 738.7 1313.2 739C1314.2 739.3 1315.2 739.7 1316.2 740C1317.2 740.3 1318.2 740.6 1319.2 740.9C1320.2 741.2 1321.2 741.5 1322.2 741.8C1323.2 742.1 1324.2 742.4 1325.2 742.7C1326.2 742.9 1327.2 743.2 1328.2 743.5C1329.2 743.8 1330.2 744 1331.2 744.3C1332.2 744.6 1333.2 744.9 1334.2 745.1C1335.2 745.4 1336.2 745.6 1337.2 745.9C1338.2 746.2 1339.2 746.4 1340.2 746.7C1341.2 746.9 1342.2 747.2 1343.2 747.4C1344.2 747.6 1345.2 747.9 1346.2 748.1C1347.2 748.4 1348.2 748.6 1349.2 748.8C1350.2 749 1351.2 749.3 1352.2 749.5C1353.2 749.7 1354.2 749.9 1355.2 750.1C1356.2 750.3 1357.2 750.5 1358.2 750.7C1359.2 750.9 1360.2 751.1 1361.2 751.3C1362.2 751.5 1363.2 751.7 1364.2 751.9C1365.2 752.1 1366.2 752.3 1367.2 752.5C1368.2 752.7 1369.2 752.8 1370.2 753C1371.2 753.2 1372.2 753.4 1373.2 753.6C1374.2 753.8 1375.2 753.9 1376.2 754.1C1377.2 754.3 1378.2 754.5 1379.2 754.7C1380.2 754.8 1381.2 755 1382.2 755.2C1383.2 755.3 1384.2 755.5 1385.2 755.7C1386.2 755.8 1387.2 756 1388.2 756.1C1389.2 756.3 1390.2 756.4 1391.2 756.5C1392.2 756.7 1393.2 756.8 1394.2 756.9C1395.2 757 1396.7 757.1 1397.2 757.2" stroke="#12d0f0"/>
<path d="M776.2 724.1C776.7 724.1 778.2 724.2 779.2 724.3C780.2 724.3 781.2 724.4 782.2 724.4C783.2 724.5 784.2 724.5 785.2 724.6C786.2 724.6 787.2 724.7 788.2 724.7C789.2 724.8 790.2 724.8 791.2 724.8C792.2 724.8 793.2 724.9 794.2 724.9C795.2 724.9 796.2 724.9 797.2 724.9C798.2 725 799.2 725 800.2 725C801.2 725 802.2 725 803.2 725C804.2 725 805.2 725 806.2 725C807.2 725 808.2 725 809.2 724.9C810.2 724.9 811.2 724.9 812.2 724.8C813.2 724.7 814.2 724.6 815.2 724.4C816.2 724.3 817.2 724.1 818.2 723.8C819.2 723.6 820.2 723.3 821.2 723C822.2 722.7 823.2 722.4 824.2 722.1C825.2 721.7 826.2 721.4 827.2 721C828.2 720.6 829.2 720.2 830.2 719.8C831.2 719.3 832.2 718.8 833.2 718.3C834.2 717.7 835.2 717.1 836.2 716.4C837.2 715.7 838.2 714.9 839.2 714.1C840.2 713.3 841.2 712.5 842.2 711.6C843.2 710.7 844.2 709.8 845.2 708.9C846.2 708 847.2 707 848.2 706.1C849.2 705.1 850.2 704.1 851.2 703.1C852.2 702.1 853.2 701 854.2 699.9C855.2 698.8 856.2 697.7 857.2 696.5C858.2 695.3 859.2 694.1 860.2 692.9C861.2 691.6 862.2 690.4 863.2 689.1C864.2 687.8 865.2 686.6 866.2 685.3C867.2 684 868.2 682.7 869.2 681.4C870.2 680 871.2 678.7 872.2 677.3C873.2 675.9 874.2 674.5 875.2 673C876.2 671.5 877.2 670 878.2 668.6C879.2 667.1 880.2 665.6 881.2 664.2C882.2 662.8 883.2 661.4 884.2 660.1C885.2 658.9 886.2 657.7 887.2 656.6C888.2 655.5 889.2 654.6 890.2 653.7C891.2 652.8 892.2 652.1 893.2 651.3C894.2 650.6 895.2 649.9 896.2 649.2C897.2 648.6 898.2 648 899.2 647.4C900.2 646.8 901.2 646.3 902.2 645.7C903.2 645.2 904.2 644.8 905.2 644.3C906.2 643.9 907.2 643.5 908.2 643.1C909.2 642.8 910.2 642.4 911.2 642.2C912.2 641.9 913.2 641.6 914.2 641.4C915.2 641.2 916.2 641 917.2 640.8C918.2 640.6 919.2 640.4 920.2 640.2C921.2 640 922.2 639.9 923.2 639.7C924.2 639.5 925.2 639.3 926.2 639C927.2 638.7 928.2 638.5 929.2 638.1C930.2 637.7 931.2 637.4 932.2 636.9C933.2 636.4 934.2 635.9 935.2 635.2C936.2 634.6 937.2 633.9 938.2 633.2C939.2 632.4 940.2 631.6 941.2 630.8C942.2 629.9 943.2 629 944.2 628C945.2 627 946.2 626 947.2 624.9C948.2 623.8 949.2 622.7 950.2 621.4C951.2 620.1 952.2 618.8 953.2 617.3C954.2 615.7 955.2 614.1 956.2 612.3C957.2 610.6 958.2 608.7 959.2 606.8C960.2 604.9 961.2 602.9 962.2 600.8C963.2 598.8 964.2 596.6 965.2 594.4C966.2 592.2 967.2 589.9 968.2 587.5C969.2 585.2 970.2 582.8 971.2 580.5C972.2 578.2 973.2 575.8 974.2 573.5C975.2 571.2 976.2 568.9 977.2 566.6C978.2 564.3 979.2 562 980.2 559.7C981.2 557.4 982.2 555.1 983.2 552.8C984.2 550.5 985.2 548.2 986.2 545.9C987.2 543.6 988.2 541.3 989.2 539C990.2 536.7 991.2 534.4 992.2 532C993.2 529.7 994.2 527.4 995.2 525C996.2 522.7 997.2 520.3 998.2 518C999.2 515.7 1000.2 513.3 1001.2 511.1C1002.2 508.9 1003.2 506.7 1004.2 504.7C1005.2 502.6 1006.2 500.7 1007.2 498.8C1008.2 496.9 1009.2 495.1 1010.2 493.4C1011.2 491.8 1012.2 490.3 1013.2 488.9C1014.2 487.5 1015.2 486.4 1016.2 485.3C1017.2 484.3 1018.2 483.4 1019.2 482.5C1020.2 481.7 1021.2 481 1022.2 480.3C1023.2 479.5 1024.2 478.9 1025.2 478.2C1026.2 477.6 1027.2 477 1028.2 476.4C1029.2 475.9 1030.2 475.4 1031.2 475.1C1032.2 474.7 1033.2 474.5 1034.2 474.4C1035.2 474.3 1036.2 474.4 1037.2 474.5C1038.2 474.6 1039.2 474.8 1040.2 475C1041.2 475.3 1042.2 475.6 1043.2 476C1044.2 476.4 1045.2 476.9 1046.2 477.6C1047.2 478.2 1048.2 478.9 1049.2 479.7C1050.2 480.5 1051.2 481.3 1052.2 482.2C1053.2 483 1054.2 483.9 1055.2 484.8C1056.2 485.7 1057.2 486.5 1058.2 487.4C1059.2 488.3 1060.2 489.1 1061.2 490C1062.2 490.8 1063.2 491.7 1064.2 492.5C1065.2 493.3 1066.2 494.1 1067.2 494.8C1068.2 495.6 1069.2 496.3 1070.2 497C1071.2 497.7 1072.2 498.4 1073.2 499C1074.2 499.6 1075.2 500.2 1076.2 500.8C1077.2 501.4 1078.2 502 1079.2 502.5C1080.2 503.1 1081.2 503.6 1082.2 504.2C1083.2 504.7 1084.2 505.2 1085.2 505.7C1086.2 506.1 1087.2 506.5 1088.2 506.9C1089.2 507.3 1090.2 507.6 1091.2 507.9C1092.2 508.3 1093.2 508.6 1094.2 508.9C1095.2 509.3 1096.2 509.6 1097.2 510C1098.2 510.3 1099.2 510.7 1100.2 511C1101.2 511.4 1102.2 511.7 1103.2 512C1104.2 512.3 1105.2 512.6 1106.2 512.9C1107.2 513.2 1108.2 513.5 1109.2 513.7C1110.2 514 1111.2 514.2 1112.2 514.4C1113.2 514.6 1114.2 514.8 1115.2 515C1116.2 515.2 1117.2 515.4 1118.2 515.7C1119.2 515.9 1120.2 516.2 1121.2 516.5C1122.2 516.8 1123.2 517.1 1124.2 517.5C1125.2 517.9 1126.2 518.3 1127.2 518.8C1128.2 519.2 1129.2 519.7 1130.2 520.2C1131.2 520.7 1132.2 521.2 1133.2 521.7C1134.2 522.3 1135.2 522.8 1136.2 523.5C1137.2 524.2 1138.2 524.8 1139.2 525.7C1140.2 526.5 1141.2 527.3 1142.2 528.3C1143.2 529.3 1144.2 530.4 1145.2 531.7C1146.2 532.9 1147.2 534.2 1148.2 535.7C1149.2 537.1 1150.2 538.7 1151.2 540.4C1152.2 542.1 1153.2 543.9 1154.2 545.7C1155.2 547.6 1156.2 549.5 1157.2 551.5C1158.2 553.5 1159.2 555.5 1160.2 557.6C1161.2 559.7 1162.2 561.8 1163.2 563.9C1164.2 566.1 1165.2 568.3 1166.2 570.5C1167.2 572.8 1168.2 575 1169.2 577.3C1170.2 579.6 1171.2 581.9 1172.2 584.2C1173.2 586.6 1174.2 588.9 1175.2 591.3C1176.2 593.7 1177.2 596.2 1178.2 598.6C1179.2 601.1 1180.2 603.6 1181.2 606.1C1182.2 608.6 1183.2 611.2 1184.2 613.7C1185.2 616.2 1186.2 618.7 1187.2 621.2C1188.2 623.6 1189.2 625.9 1190.2 628.2C1191.2 630.4 1192.2 632.6 1193.2 634.7C1194.2 636.8 1195.2 638.9 1196.2 640.9C1197.2 642.8 1198.2 644.8 1199.2 646.7C1200.2 648.6 1201.2 650.4 1202.2 652.3C1203.2 654.1 1204.2 655.9 1205.2 657.6C1206.2 659.3 1207.2 661 1208.2 662.7C1209.2 664.4 1210.2 666 1211.2 667.6C1212.2 669.2 1213.2 670.7 1214.2 672.2C1215.2 673.7 1216.2 675.1 1217.2 676.5C1218.2 677.9 1219.2 679.3 1220.2 680.6C1221.2 682 1222.2 683.3 1223.2 684.5C1224.2 685.8 1225.2 686.9 1226.2 688.1C1227.2 689.2 1228.2 690.4 1229.2 691.4C1230.2 692.5 1231.2 693.5 1232.2 694.5C1233.2 695.5 1234.2 696.5 1235.2 697.4C1236.2 698.3 1237.2 699.2 1238.2 700.1C1239.2 700.9 1240.2 701.8 1241.2 702.6C1242.2 703.4 1243.2 704.1 1244.2 704.9C1245.2 705.6 1246.2 706.3 1247.2 707C1248.2 707.7 1249.2 708.4 1250.2 709.1C1251.2 709.7 1252.2 710.4 1253.2 711C1254.2 711.6 1255.2 712.2 1256.2 712.8C1257.2 713.4 1258.2 714 1259.2 714.6C1260.2 715.1 1261.2 715.7 1262.2 716.3C1263.2 716.8 1264.2 717.4 1265.2 717.9C1266.2 718.4 1267.2 718.9 1268.2 719.5C1269.2 720 1270.2 720.5 1271.2 721C1272.2 721.5 1273.2 722 1274.2 722.5C1275.2 723 1276.2 723.4 1277.2 723.9C1278.2 724.4 1279.2 724.9 1280.2 725.3C1281.2 725.8 1282.2 726.2 1283.2 726.7C1284.2 727.1 1285.2 727.6 1286.2 728C1287.2 728.4 1288.2 728.8 1289.2 729.2C1290.2 729.7 1291.2 730.1 1292.2 730.5C1293.2 730.9 1294.2 731.3 1295.2 731.7C1296.2 732 1297.2 732.4 1298.2 732.8C1299.2 733.2 1300.2 733.6 1301.2 733.9C1302.2 734.3 1303.2 734.6 1304.2 735C1305.2 735.4 1306.2 735.7 1307.2 736C1308.2 736.4 1309.2 736.7 1310.2 737.1C1311.2 737.4 1312.2 737.7 1313.2 738C1314.2 738.3 1315.2 738.7 1316.2 739C1317.2 739.3 1318.2 739.6 1319.2 739.9C1320.2 740.2 1321.2 740.5 1322.2 740.8C1323.2 741.1 1324.2 741.4 1325.2 741.7C1326.2 741.9 1327.2 742.2 1328.2 742.5C1329.2 742.8 1330.2 743 1331.2 743.3C1332.2 743.6 1333.2 743.9 1334.2 744.1C1335.2 744.4 1336.2 744.6 1337.2 744.9C1338.2 745.2 1339.2 745.4 1340.2 745.7C1341.2 745.9 1342.2 746.2 1343.2 746.4C1344.2 746.6 1345.2 746.9 1346.2 747.1C1347.2 747.4 1348.2 747.6 1349.2 747.8C1350.2 748 1351.2 748.3 1352.2 748.5C1353.2 748.7 1354.2 748.9 1355.2 749.1C1356.2 749.3 1357.2 749.5 1358.2 749.7C1359.2 749.9 1360.2 750.1 1361.2 750.3C1362.2 750.5 1363.2 750.7 1364.2 750.9C1365.2 751.1 1366.2 751.3 1367.2 751.5C1368.2 751.7 1369.2 751.8 1370.2 752C1371.2 752.2 1372.2 752.4 1373.2 752.6C1374.2 752.8 1375.2 753 1376.2 753.2C1377.2 753.4 1378.2 753.6 1379.2 753.8C1380.2 753.9 1381.2 754.1 1382.2 754.3C1383.2 754.5 1384.2 754.7 1385.2 754.8C1386.2 755 1387.2 755.2 1388.2 755.3C1389.2 755.5 1390.2 755.6 1391.2 755.7C1392.2 755.9 1393.2 756 1394.2 756.1C1395.2 756.2 1396.7 756.3 1397.2 756.4" stroke="#1cf0a2"/>
<path d="M776.2 723.1C776.7 723.1 778.2 723.1 779.2 723.2C780.2 723.2 781.2 723.2 782.2 723.3C783.2 723.3 784.2 723.3 785.2 723.4C786.2 723.4 787.2 723.4 788.2 723.4C789.2 723.5 790.2 723.5 791.2 723.5C792.2 723.5 793.2 723.5 794.2 723.5C795.2 723.5 796.2 723.6 797.2 723.6C798.2 723.6 799.2 723.6 800.2 723.6C801.2 723.6 802.2 723.6 803.2 723.6C804.2 723.6 805.2 723.6 806.2 723.6C807.2 723.6 808.2 723.6 809.2 723.5C810.2 723.5 811.2 723.5 812.2 723.4C813.2 723.3 814.2 723.1 815.2 722.9C816.2 722.8 817.2 722.5 818.2 722.3C819.2 722 820.2 721.7 821.2 721.4C822.2 721 823.2 720.7 824.2 720.3C825.2 719.9 826.2 719.5 827.2 719.1C828.2 718.7 829.2 718.3 830.2 717.8C831.2 717.3 832.2 716.8 833.2 716.2C834.2 715.6 835.2 715 836.2 714.3C837.2 713.6 838.2 712.9 839.2 712.1C840.2 711.3 841.2 710.4 842.2 709.6C843.2 708.7 844.2 707.8 845.2 706.9C846.2 706 847.2 705 848.2 704.1C849.2 703.1 850.2 702.1 851.2 701.1C852.2 700.1 853.2 699 854.2 697.9C855.2 696.8 856.2 695.6 857.2 694.4C858.2 693.2 859.2 692 860.2 690.8C861.2 689.5 862.2 688.2 863.2 686.9C864.2 685.6 865.2 684.3 866.2 683C867.2 681.7 868.2 680.3 869.2 679C870.2 677.6 871.2 676.2 872.2 674.8C873.2 673.3 874.2 671.8 875.2 670.3C876.2 668.8 877.2 667.2 878.2 665.6C879.2 664.1 880.2 662.5 881.2 661C882.2 659.5 883.2 658.1 884.2 656.8C885.2 655.4 886.2 654.2 887.2 653.1C888.2 652 889.2 651 890.2 650.1C891.2 649.2 892.2 648.5 893.2 647.8C894.2 647 895.2 646.4 896.2 645.7C897.2 645.1 898.2 644.5 899.2 643.9C900.2 643.4 901.2 642.8 902.2 642.3C903.2 641.8 904.2 641.4 905.2 640.9C906.2 640.5 907.2 640.1 908.2 639.7C909.2 639.4 910.2 639 911.2 638.7C912.2 638.4 913.2 638.1 914.2 637.9C915.2 637.6 916.2 637.4 917.2 637.2C918.2 637 919.2 636.8 920.2 636.5C921.2 636.3 922.2 636.1 923.2 635.9C924.2 635.7 925.2 635.4 926.2 635.1C927.2 634.8 928.2 634.5 929.2 634.1C930.2 633.8 931.2 633.4 932.2 632.9C933.2 632.4 934.2 631.9 935.2 631.3C936.2 630.7 937.2 630 938.2 629.3C939.2 628.6 940.2 627.8 941.2 627C942.2 626.1 943.2 625.2 944.2 624.2C945.2 623.2 946.2 622.2 947.2 621C948.2 619.8 949.2 618.5 950.2 616.9C951.2 615.3 952.2 613.5 953.2 611.5C954.2 609.4 955.2 607 956.2 604.6C957.2 602.2 958.2 599.6 959.2 597.1C960.2 594.7 961.2 592.2 962.2 589.9C963.2 587.6 964.2 585.4 965.2 583.2C966.2 581.1 967.2 579 968.2 576.9C969.2 574.8 970.2 572.7 971.2 570.5C972.2 568.3 973.2 566.1 974.2 563.8C975.2 561.6 976.2 559.2 977.2 556.8C978.2 554.5 979.2 552 980.2 549.6C981.2 547.1 982.2 544.6 983.2 542.1C984.2 539.6 985.2 537 986.2 534.5C987.2 531.9 988.2 529.3 989.2 526.7C990.2 524.1 991.2 521.5 992.2 518.9C993.2 516.3 994.2 513.8 995.2 511.2C996.2 508.7 997.2 506.2 998.2 503.7C999.2 501.2 1000.2 498.7 1001.2 496.2C1002.2 493.7 1003.2 491.1 1004.2 488.7C1005.2 486.3 1006.2 483.8 1007.2 481.8C1008.2 479.7 1009.2 477.9 1010.2 476.2C1011.2 474.5 1012.2 473.2 1013.2 471.7C1014.2 470.2 1015.2 468.7 1016.2 467.1C1017.2 465.5 1018.2 463.7 1019.2 462.1C1020.2 460.4 1021.2 458.7 1022.2 457.2C1023.2 455.7 1024.2 454.4 1025.2 453.2C1026.2 452.1 1027.2 451.1 1028.2 450.2C1029.2 449.4 1030.2 448.7 1031.2 448.2C1032.2 447.6 1033.2 447.3 1034.2 447.1C1035.2 446.9 1036.2 447 1037.2 447.2C1038.2 447.3 1039.2 447.7 1040.2 448.2C1041.2 448.6 1042.2 449.2 1043.2 449.9C1044.2 450.6 1045.2 451.4 1046.2 452.3C1047.2 453.3 1048.2 454.4 1049.2 455.6C1050.2 456.7 1051.2 458 1052.2 459.3C1053.2 460.6 1054.2 461.9 1055.2 463.3C1056.2 464.7 1057.2 466.1 1058.2 467.5C1059.2 468.9 1060.2 470.4 1061.2 471.8C1062.2 473.3 1063.2 474.8 1064.2 476.3C1065.2 477.8 1066.2 479.3 1067.2 480.8C1068.2 482.3 1069.2 483.8 1070.2 485.2C1071.2 486.6 1072.2 488 1073.2 489.3C1074.2 490.7 1075.2 492 1076.2 493.3C1077.2 494.5 1078.2 495.7 1079.2 496.9C1080.2 498 1081.2 499.1 1082.2 500.1C1083.2 501.2 1084.2 502.1 1085.2 503.1C1086.2 504.1 1087.2 505 1088.2 505.9C1089.2 506.8 1090.2 507.7 1091.2 508.7C1092.2 509.6 1093.2 510.6 1094.2 511.5C1095.2 512.4 1096.2 513.4 1097.2 514.3C1098.2 515.3 1099.2 516.2 1100.2 517.2C1101.2 518.1 1102.2 519.1 1103.2 520C1104.2 520.9 1105.2 521.8 1106.2 522.7C1107.2 523.6 1108.2 524.4 1109.2 525.2C1110.2 526 1111.2 526.8 1112.2 527.5C1113.2 528.3 1114.2 529 1115.2 529.7C1116.2 530.4 1117.2 531.1 1118.2 531.8C1119.2 532.5 1120.2 533.2 1121.2 534C1122.2 534.7 1123.2 535.5 1124.2 536.3C1125.2 537.1 1126.2 537.9 1127.2 538.7C1128.2 539.5 1129.2 540.3 1130.2 541.2C1131.2 542 1132.2 542.8 1133.2 543.7C1134.2 544.6 1135.2 545.5 1136.2 546.4C1137.2 547.4 1138.2 548.4 1139.2 549.4C1140.2 550.5 1141.2 551.7 1142.2 553C1143.2 554.2 1144.2 555.6 1145.2 556.9C1146.2 558.3 1147.2 559.6 1148.2 561C1149.2 562.4 1150.2 563.8 1151.2 565.2C1152.2 566.6 1153.2 568 1154.2 569.4C1155.2 570.9 1156.2 572.3 1157.2 573.8C1158.2 575.3 1159.2 576.9 1160.2 578.4C1161.2 580 1162.2 581.6 1163.2 583.3C1164.2 584.9 1165.2 586.6 1166.2 588.3C1167.2 590 1168.2 591.8 1169.2 593.5C1170.2 595.3 1171.2 597 1172.2 598.8C1173.2 600.6 1174.2 602.4 1175.2 604.2C1176.2 606 1177.2 607.8 1178.2 609.6C1179.2 611.5 1180.2 613.3 1181.2 615.1C1182.2 617 1183.2 618.8 1184.2 620.7C1185.2 622.5 1186.2 624.4 1187.2 626.2C1188.2 628.1 1189.2 629.9 1190.2 631.8C1191.2 633.6 1192.2 635.5 1193.2 637.3C1194.2 639.1 1195.2 640.9 1196.2 642.7C1197.2 644.5 1198.2 646.3 1199.2 648.1C1200.2 649.8 1201.2 651.5 1202.2 653.2C1203.2 655 1204.2 656.6 1205.2 658.3C1206.2 659.9 1207.2 661.5 1208.2 663.1C1209.2 664.7 1210.2 666.2 1211.2 667.6C1212.2 669.1 1213.2 670.5 1214.2 671.9C1215.2 673.3 1216.2 674.7 1217.2 676C1218.2 677.3 1219.2 678.5 1220.2 679.7C1221.2 680.9 1222.2 682.1 1223.2 683.2C1224.2 684.4 1225.2 685.4 1226.2 686.5C1227.2 687.5 1228.2 688.5 1229.2 689.5C1230.2 690.5 1231.2 691.4 1232.2 692.3C1233.2 693.2 1234.2 694.1 1235.2 694.9C1236.2 695.8 1237.2 696.6 1238.2 697.4C1239.2 698.2 1240.2 699 1241.2 699.7C1242.2 700.5 1243.2 701.2 1244.2 701.9C1245.2 702.7 1246.2 703.4 1247.2 704.1C1248.2 704.8 1249.2 705.4 1250.2 706.1C1251.2 706.8 1252.2 707.4 1253.2 708.1C1254.2 708.7 1255.2 709.4 1256.2 710C1257.2 710.6 1258.2 711.3 1259.2 711.9C1260.2 712.5 1261.2 713.1 1262.2 713.7C1263.2 714.2 1264.2 714.8 1265.2 715.4C1266.2 715.9 1267.2 716.5 1268.2 717C1269.2 717.5 1270.2 718.1 1271.2 718.6C1272.2 719.1 1273.2 719.6 1274.2 720C1275.2 720.5 1276.2 721 1277.2 721.4C1278.2 721.9 1279.2 722.4 1280.2 722.8C1281.2 723.2 1282.2 723.7 1283.2 724.1C1284.2 724.5 1285.2 725 1286.2 725.4C1287.2 725.8 1288.2 726.2 1289.2 726.7C1290.2 727.1 1291.2 727.5 1292.2 727.9C1293.2 728.4 1294.2 728.8 1295.2 729.2C1296.2 729.6 1297.2 730 1298.2 730.4C1299.2 730.9 1300.2 731.3 1301.2 731.7C1302.2 732.1 1303.2 732.5 1304.2 732.8C1305.2 733.2 1306.2 733.6 1307.2 734C1308.2 734.3 1309.2 734.7 1310.2 735C1311.2 735.4 1312.2 735.7 1313.2 736C1314.2 736.4 1315.2 736.7 1316.2 737C1317.2 737.3 1318.2 737.6 1319.2 737.9C1320.2 738.2 1321.2 738.5 1322.2 738.8C1323.2 739.1 1324.2 739.4 1325.2 739.7C1326.2 739.9 1327.2 740.2 1328.2 740.5C1329.2 740.8 1330.2 741 1331.2 741.3C1332.2 741.6 1333.2 741.9 1334.2 742.1C1335.2 742.4 1336.2 742.6 1337.2 742.9C1338.2 743.2 1339.2 743.4 1340.2 743.7C1341.2 743.9 1342.2 744.2 1343.2 744.4C1344.2 744.6 1345.2 744.9 1346.2 745.1C1347.2 745.4 1348.2 745.6 1349.2 745.8C1350.2 746 1351.2 746.2 1352.2 746.5C1353.2 746.7 1354.2 746.9 1355.2 747.1C1356.2 747.3 1357.2 747.5 1358.2 747.7C1359.2 747.9 1360.2 748.1 1361.2 748.3C1362.2 748.5 1363.2 748.7 1364.2 748.9C1365.2 749.1 1366.2 749.3 1367.2 749.5C1368.2 749.7 1369.2 749.8 1370.2 750.1C1371.2 750.3 1372.2 750.5 1373.2 750.7C1374.2 750.9 1375.2 751.1 1376.2 751.3C1377.2 751.5 1378.2 751.7 1379.2 751.9C1380.2 752.2 1381.2 752.4 1382.2 752.6C1383.2 752.8 1384.2 753 1385.2 753.2C1386.2 753.3 1387.2 753.5 1388.2 753.7C1389.2 753.8 1390.2 754 1391.2 754.1C1392.2 754.3 1393.2 754.4 1394.2 754.5C1395.2 754.6 1396.7 754.7 1397.2 754.8" stroke="#74f238"/>
<path d="M776.2 718.1C776.7 718.1 778.2 718.2 779.2 718.3C780.2 718.3 781.2 718.4 782.2 718.4C783.2 718.5 784.2 718.5 785.2 718.6C786.2 718.6 787.2 718.7 788.2 718.7C789.2 718.8 790.2 718.8 791.2 718.8C792.2 718.8 793.2 718.9 794.2 718.9C795.2 718.9 796.2 718.9 797.2 718.9C798.2 719 799.2 719 800.2 719C801.2 719 802.2 719 803.2 719C804.2 719 805.2 719 806.2 719C807.2 719 808.2 719 809.2 718.9C810.2 718.9 811.2 718.8 812.2 718.7C813.2 718.6 814.2 718.5 815.2 718.3C816.2 718.1 817.2 717.8 818.2 717.5C819.2 717.3 820.2 716.9 821.2 716.6C822.2 716.2 823.2 715.8 824.2 715.4C825.2 715 826.2 714.6 827.2 714.2C828.2 713.7 829.2 713.3 830.2 712.8C831.2 712.3 832.2 711.8 833.2 711.2C834.2 710.6 835.2 709.9 836.2 709.2C837.2 708.5 838.2 707.7 839.2 706.9C840.2 706.1 841.2 705.3 842.2 704.4C843.2 703.5 844.2 702.6 845.2 701.6C846.2 700.7 847.2 699.7 848.2 698.7C849.2 697.7 850.2 696.7 851.2 695.6C852.2 694.5 853.2 693.3 854.2 692.1C855.2 690.9 856.2 689.6 857.2 688.3C858.2 687 859.2 685.6 860.2 684.2C861.2 682.8 862.2 681.4 863.2 679.9C864.2 678.5 865.2 677 866.2 675.6C867.2 674.1 868.2 672.6 869.2 671.1C870.2 669.6 871.2 668 872.2 666.4C873.2 664.8 874.2 663.2 875.2 661.5C876.2 659.8 877.2 658.1 878.2 656.4C879.2 654.7 880.2 652.9 881.2 651.3C882.2 649.7 883.2 648.1 884.2 646.6C885.2 645.1 886.2 643.7 887.2 642.5C888.2 641.3 889.2 640.2 890.2 639.1C891.2 638.1 892.2 637.2 893.2 636.4C894.2 635.5 895.2 634.8 896.2 634.1C897.2 633.3 898.2 632.6 899.2 632C900.2 631.3 901.2 630.7 902.2 630.1C903.2 629.5 904.2 629 905.2 628.4C906.2 627.9 907.2 627.4 908.2 626.9C909.2 626.4 910.2 626 911.2 625.6C912.2 625.2 913.2 624.8 914.2 624.5C915.2 624.1 916.2 623.8 917.2 623.5C918.2 623.2 919.2 622.9 920.2 622.6C921.2 622.3 922.2 622 923.2 621.6C924.2 621.3 925.2 621 926.2 620.5C927.2 620.1 928.2 619.7 929.2 619.2C930.2 618.7 931.2 618.1 932.2 617.4C933.2 616.7 934.2 615.9 935.2 615.1C936.2 614.3 937.2 613.3 938.2 612.4C939.2 611.4 940.2 610.4 941.2 609.3C942.2 608.2 943.2 607.1 944.2 605.9C945.2 604.7 946.2 603.4 947.2 602.1C948.2 600.7 949.2 599.3 950.2 597.8C951.2 596.3 952.2 594.8 953.2 593.1C954.2 591.5 955.2 589.8 956.2 588C957.2 586.2 958.2 584.4 959.2 582.5C960.2 580.6 961.2 578.7 962.2 576.8C963.2 574.9 964.2 573 965.2 571C966.2 569.1 967.2 567.1 968.2 565.1C969.2 563.1 970.2 561 971.2 558.9C972.2 556.7 973.2 554.5 974.2 552.2C975.2 550 976.2 547.6 977.2 545.2C978.2 542.9 979.2 540.4 980.2 538C981.2 535.6 982.2 533.1 983.2 530.7C984.2 528.3 985.2 525.9 986.2 523.4C987.2 521 988.2 518.6 989.2 516.2C990.2 513.8 991.2 511.4 992.2 509C993.2 506.6 994.2 504.1 995.2 501.7C996.2 499.2 997.2 496.7 998.2 494.3C999.2 491.9 1000.2 489.5 1001.2 487.2C1002.2 484.9 1003.2 482.8 1004.2 480.7C1005.2 478.7 1006.2 476.8 1007.2 474.9C1008.2 473 1009.2 471.2 1010.2 469.3C1011.2 467.3 1012.2 465.3 1013.2 463.3C1014.2 461.3 1015.2 459.2 1016.2 457.3C1017.2 455.3 1018.2 453.5 1019.2 451.8C1020.2 450.1 1021.2 448.6 1022.2 447.2C1023.2 445.8 1024.2 444.6 1025.2 443.5C1026.2 442.4 1027.2 441.4 1028.2 440.7C1029.2 439.9 1030.2 439.3 1031.2 438.8C1032.2 438.3 1033.2 438 1034.2 437.7C1035.2 437.4 1036.2 437.2 1037.2 437.1C1038.2 437 1039.2 436.9 1040.2 437C1041.2 437.1 1042.2 437.3 1043.2 437.6C1044.2 437.9 1045.2 438.4 1046.2 438.9C1047.2 439.4 1048.2 440 1049.2 440.8C1050.2 441.5 1051.2 442.4 1052.2 443.4C1053.2 444.4 1054.2 445.6 1055.2 446.8C1056.2 448 1057.2 449.3 1058.2 450.6C1059.2 451.9 1060.2 453.2 1061.2 454.5C1062.2 455.8 1063.2 457.1 1064.2 458.4C1065.2 459.7 1066.2 461 1067.2 462.3C1068.2 463.6 1069.2 465 1070.2 466.4C1071.2 467.7 1072.2 469.1 1073.2 470.5C1074.2 471.9 1075.2 473.4 1076.2 474.8C1077.2 476.1 1078.2 477.5 1079.2 478.8C1080.2 480.1 1081.2 481.3 1082.2 482.5C1083.2 483.7 1084.2 484.9 1085.2 486C1086.2 487.1 1087.2 488.2 1088.2 489.3C1089.2 490.4 1090.2 491.5 1091.2 492.6C1092.2 493.7 1093.2 494.8 1094.2 495.9C1095.2 496.9 1096.2 498 1097.2 499.1C1098.2 500.1 1099.2 501.1 1100.2 502C1101.2 502.9 1102.2 503.8 1103.2 504.7C1104.2 505.5 1105.2 506.3 1106.2 507.1C1107.2 507.9 1108.2 508.6 1109.2 509.4C1110.2 510.1 1111.2 510.8 1112.2 511.6C1113.2 512.3 1114.2 513 1115.2 513.7C1116.2 514.4 1117.2 515.1 1118.2 515.8C1119.2 516.5 1120.2 517.1 1121.2 517.8C1122.2 518.5 1123.2 519.2 1124.2 519.9C1125.2 520.6 1126.2 521.3 1127.2 522C1128.2 522.7 1129.2 523.4 1130.2 524.1C1131.2 524.8 1132.2 525.5 1133.2 526.2C1134.2 526.9 1135.2 527.6 1136.2 528.3C1137.2 529 1138.2 529.7 1139.2 530.5C1140.2 531.3 1141.2 532.1 1142.2 532.9C1143.2 533.7 1144.2 534.6 1145.2 535.5C1146.2 536.4 1147.2 537.3 1148.2 538.3C1149.2 539.2 1150.2 540.1 1151.2 541.1C1152.2 542.1 1153.2 543 1154.2 544.1C1155.2 545.2 1156.2 546.3 1157.2 547.7C1158.2 549.1 1159.2 550.7 1160.2 552.5C1161.2 554.2 1162.2 556.3 1163.2 558.2C1164.2 560.1 1165.2 562.1 1166.2 564C1167.2 565.8 1168.2 567.6 1169.2 569.4C1170.2 571.2 1171.2 573 1172.2 574.8C1173.2 576.7 1174.2 578.7 1175.2 580.7C1176.2 582.7 1177.2 584.9 1178.2 587C1179.2 589.1 1180.2 591.3 1181.2 593.5C1182.2 595.7 1183.2 597.9 1184.2 600.1C1185.2 602.2 1186.2 604.3 1187.2 606.4C1188.2 608.5 1189.2 610.6 1190.2 612.6C1191.2 614.7 1192.2 616.7 1193.2 618.7C1194.2 620.7 1195.2 622.6 1196.2 624.5C1197.2 626.4 1198.2 628.2 1199.2 630C1200.2 631.8 1201.2 633.6 1202.2 635.3C1203.2 637 1204.2 638.7 1205.2 640.4C1206.2 642 1207.2 643.6 1208.2 645.1C1209.2 646.7 1210.2 648.2 1211.2 649.6C1212.2 651.1 1213.2 652.5 1214.2 653.9C1215.2 655.3 1216.2 656.6 1217.2 657.9C1218.2 659.2 1219.2 660.5 1220.2 661.7C1221.2 662.9 1222.2 664.1 1223.2 665.3C1224.2 666.5 1225.2 667.6 1226.2 668.7C1227.2 669.9 1228.2 670.9 1229.2 672C1230.2 673.1 1231.2 674.1 1232.2 675.1C1233.2 676.2 1234.2 677.2 1235.2 678.2C1236.2 679.2 1237.2 680.2 1238.2 681.1C1239.2 682.1 1240.2 683.1 1241.2 684C1242.2 685 1243.2 685.9 1244.2 686.8C1245.2 687.8 1246.2 688.7 1247.2 689.5C1248.2 690.4 1249.2 691.3 1250.2 692.1C1251.2 693 1252.2 693.8 1253.2 694.6C1254.2 695.4 1255.2 696.2 1256.2 697C1257.2 697.8 1258.2 698.5 1259.2 699.3C1260.2 700 1261.2 700.8 1262.2 701.5C1263.2 702.2 1264.2 703 1265.2 703.7C1266.2 704.4 1267.2 705.1 1268.2 705.8C1269.2 706.4 1270.2 707.1 1271.2 707.8C1272.2 708.4 1273.2 709.1 1274.2 709.7C1275.2 710.4 1276.2 711 1277.2 711.6C1278.2 712.3 1279.2 712.9 1280.2 713.5C1281.2 714.1 1282.2 714.7 1283.2 715.2C1284.2 715.8 1285.2 716.4 1286.2 716.9C1287.2 717.5 1288.2 718 1289.2 718.5C1290.2 719.1 1291.2 719.6 1292.2 720.1C1293.2 720.6 1294.2 721.1 1295.2 721.5C1296.2 722 1297.2 722.5 1298.2 723C1299.2 723.4 1300.2 723.9 1301.2 724.3C1302.2 724.7 1303.2 725.2 1304.2 725.6C1305.2 726 1306.2 726.4 1307.2 726.9C1308.2 727.3 1309.2 727.7 1310.2 728.1C1311.2 728.4 1312.2 728.8 1313.2 729.2C1314.2 729.6 1315.2 730 1316.2 730.3C1317.2 730.7 1318.2 731 1319.2 731.4C1320.2 731.7 1321.2 732.1 1322.2 732.4C1323.2 732.8 1324.2 733.1 1325.2 733.4C1326.2 733.8 1327.2 734.1 1328.2 734.4C1329.2 734.7 1330.2 735.1 1331.2 735.4C1332.2 735.7 1333.2 736 1334.2 736.3C1335.2 736.6 1336.2 737 1337.2 737.3C1338.2 737.6 1339.2 737.9 1340.2 738.2C1341.2 738.5 1342.2 738.8 1343.2 739.1C1344.2 739.4 1345.2 739.6 1346.2 739.9C1347.2 740.2 1348.2 740.5 1349.2 740.8C1350.2 741 1351.2 741.3 1352.2 741.6C1353.2 741.9 1354.2 742.1 1355.2 742.4C1356.2 742.6 1357.2 742.9 1358.2 743.2C1359.2 743.4 1360.2 743.7 1361.2 743.9C1362.2 744.2 1363.2 744.4 1364.2 744.6C1365.2 744.9 1366.2 745.1 1367.2 745.4C1368.2 745.6 1369.2 745.8 1370.2 746C1371.2 746.2 1372.2 746.5 1373.2 746.7C1374.2 746.9 1375.2 747.1 1376.2 747.3C1377.2 747.5 1378.2 747.7 1379.2 747.9C1380.2 748.1 1381.2 748.3 1382.2 748.5C1383.2 748.7 1384.2 748.9 1385.2 749.1C1386.2 749.3 1387.2 749.5 1388.2 749.6C1389.2 749.8 1390.2 750 1391.2 750.2C1392.2 750.4 1393.2 750.6 1394.2 750.8C1395.2 751 1396.7 751.1 1397.2 751.2" stroke="#ffe600"/>
<path d="M776.2 709.8C776.7 709.8 778.2 709.9 779.2 710C780.2 710 781.2 710.1 782.2 710.2C783.2 710.3 784.2 710.4 785.2 710.4C786.2 710.5 787.2 710.6 788.2 710.6C789.2 710.7 790.2 710.7 791.2 710.7C792.2 710.8 793.2 710.8 794.2 710.8C795.2 710.9 796.2 710.9 797.2 710.9C798.2 710.9 799.2 710.9 800.2 711C801.2 711 802.2 711 803.2 711C804.2 711 805.2 711 806.2 711C807.2 711 808.2 711 809.2 710.9C810.2 710.9 811.2 710.8 812.2 710.7C813.2 710.6 814.2 710.4 815.2 710.2C816.2 710 817.2 709.7 818.2 709.4C819.2 709.1 820.2 708.7 821.2 708.3C822.2 707.9 823.2 707.5 824.2 707.1C825.2 706.6 826.2 706.2 827.2 705.7C828.2 705.2 829.2 704.7 830.2 704.2C831.2 703.7 832.2 703.1 833.2 702.5C834.2 701.9 835.2 701.2 836.2 700.5C837.2 699.8 838.2 699 839.2 698.2C840.2 697.4 841.2 696.5 842.2 695.6C843.2 694.7 844.2 693.8 845.2 692.8C846.2 691.8 847.2 690.8 848.2 689.8C849.2 688.7 850.2 687.6 851.2 686.4C852.2 685.3 853.2 684 854.2 682.7C855.2 681.4 856.2 680 857.2 678.5C858.2 677.1 859.2 675.6 860.2 674C861.2 672.4 862.2 670.8 863.2 669.2C864.2 667.6 865.2 665.9 866.2 664.3C867.2 662.6 868.2 660.9 869.2 659.2C870.2 657.5 871.2 655.7 872.2 653.9C873.2 652.1 874.2 650.2 875.2 648.2C876.2 646.3 877.2 644.3 878.2 642.3C879.2 640.3 880.2 638.3 881.2 636.4C882.2 634.5 883.2 632.6 884.2 630.9C885.2 629.2 886.2 627.6 887.2 626.1C888.2 624.7 889.2 623.4 890.2 622.1C891.2 620.9 892.2 619.9 893.2 618.9C894.2 617.9 895.2 616.9 896.2 616.1C897.2 615.2 898.2 614.3 899.2 613.5C900.2 612.7 901.2 612 902.2 611.3C903.2 610.6 904.2 609.9 905.2 609.3C906.2 608.6 907.2 608 908.2 607.5C909.2 606.9 910.2 606.4 911.2 605.9C912.2 605.4 913.2 605 914.2 604.6C915.2 604.1 916.2 603.7 917.2 603.3C918.2 602.9 919.2 602.6 920.2 602.2C921.2 601.8 922.2 601.4 923.2 601C924.2 600.6 925.2 600.3 926.2 599.8C927.2 599.4 928.2 599 929.2 598.5C930.2 598 931.2 597.5 932.2 597C933.2 596.4 934.2 595.8 935.2 595.1C936.2 594.4 937.2 593.7 938.2 592.9C939.2 592.1 940.2 591.2 941.2 590.3C942.2 589.4 943.2 588.3 944.2 587.3C945.2 586.2 946.2 585 947.2 583.7C948.2 582.5 949.2 581.2 950.2 579.8C951.2 578.4 952.2 577 953.2 575.5C954.2 574 955.2 572.4 956.2 570.7C957.2 569 958.2 567.3 959.2 565.4C960.2 563.6 961.2 561.7 962.2 559.6C963.2 557.6 964.2 555.4 965.2 553.1C966.2 550.9 967.2 548.5 968.2 546C969.2 543.6 970.2 541.1 971.2 538.5C972.2 535.9 973.2 533.3 974.2 530.7C975.2 528.1 976.2 525.4 977.2 522.7C978.2 520 979.2 517.2 980.2 514.5C981.2 511.8 982.2 509.1 983.2 506.4C984.2 503.7 985.2 500.9 986.2 498.3C987.2 495.7 988.2 493 989.2 490.6C990.2 488.2 991.2 485.9 992.2 483.9C993.2 481.9 994.2 480.2 995.2 478.5C996.2 476.9 997.2 475.6 998.2 474C999.2 472.4 1000.2 470.7 1001.2 468.8C1002.2 466.8 1003.2 464.5 1004.2 462.2C1005.2 459.9 1006.2 457.4 1007.2 455C1008.2 452.6 1009.2 450.3 1010.2 448.1C1011.2 445.9 1012.2 443.8 1013.2 441.9C1014.2 439.9 1015.2 438.1 1016.2 436.4C1017.2 434.6 1018.2 433 1019.2 431.4C1020.2 429.9 1021.2 428.4 1022.2 427C1023.2 425.6 1024.2 424.2 1025.2 423.1C1026.2 421.9 1027.2 420.8 1028.2 419.9C1029.2 419 1030.2 418.2 1031.2 417.6C1032.2 416.9 1033.2 416.4 1034.2 415.9C1035.2 415.5 1036.2 415 1037.2 414.7C1038.2 414.4 1039.2 414.2 1040.2 414.1C1041.2 414 1042.2 414.1 1043.2 414.3C1044.2 414.5 1045.2 414.8 1046.2 415.3C1047.2 415.8 1048.2 416.4 1049.2 417.1C1050.2 417.8 1051.2 418.5 1052.2 419.4C1053.2 420.2 1054.2 421.1 1055.2 422C1056.2 423 1057.2 424 1058.2 425.1C1059.2 426.2 1060.2 427.4 1061.2 428.6C1062.2 429.7 1063.2 431 1064.2 432.3C1065.2 433.6 1066.2 434.9 1067.2 436.2C1068.2 437.6 1069.2 438.9 1070.2 440.3C1071.2 441.7 1072.2 443.1 1073.2 444.4C1074.2 445.8 1075.2 447.2 1076.2 448.6C1077.2 450 1078.2 451.5 1079.2 452.9C1080.2 454.2 1081.2 455.6 1082.2 457C1083.2 458.4 1084.2 459.8 1085.2 461.2C1086.2 462.5 1087.2 463.9 1088.2 465.3C1089.2 466.7 1090.2 468.1 1091.2 469.5C1092.2 470.9 1093.2 472.3 1094.2 473.8C1095.2 475.2 1096.2 476.6 1097.2 478C1098.2 479.4 1099.2 480.8 1100.2 482.1C1101.2 483.4 1102.2 484.7 1103.2 486C1104.2 487.2 1105.2 488.4 1106.2 489.6C1107.2 490.8 1108.2 491.9 1109.2 493C1110.2 494.1 1111.2 495.2 1112.2 496.3C1113.2 497.3 1114.2 498.4 1115.2 499.4C1116.2 500.4 1117.2 501.3 1118.2 502.2C1119.2 503.2 1120.2 504.1 1121.2 504.9C1122.2 505.8 1123.2 506.6 1124.2 507.4C1125.2 508.2 1126.2 509 1127.2 509.8C1128.2 510.6 1129.2 511.4 1130.2 512.2C1131.2 513 1132.2 513.8 1133.2 514.6C1134.2 515.4 1135.2 516.2 1136.2 517C1137.2 517.8 1138.2 518.6 1139.2 519.3C1140.2 520.1 1141.2 520.8 1142.2 521.5C1143.2 522.2 1144.2 522.9 1145.2 523.6C1146.2 524.3 1147.2 525 1148.2 525.8C1149.2 526.5 1150.2 527.2 1151.2 527.9C1152.2 528.7 1153.2 529.4 1154.2 530.2C1155.2 531 1156.2 531.8 1157.2 532.7C1158.2 533.5 1159.2 534.4 1160.2 535.3C1161.2 536.3 1162.2 537.3 1163.2 538.3C1164.2 539.4 1165.2 540.5 1166.2 541.6C1167.2 542.7 1168.2 543.9 1169.2 545.1C1170.2 546.3 1171.2 547.6 1172.2 548.9C1173.2 550.2 1174.2 551.5 1175.2 552.9C1176.2 554.3 1177.2 555.8 1178.2 557.4C1179.2 559.1 1180.2 560.8 1181.2 562.7C1182.2 564.6 1183.2 566.7 1184.2 568.9C1185.2 571 1186.2 573.3 1187.2 575.6C1188.2 577.8 1189.2 580.1 1190.2 582.4C1191.2 584.7 1192.2 586.9 1193.2 589.2C1194.2 591.4 1195.2 593.6 1196.2 595.8C1197.2 598 1198.2 600.1 1199.2 602.1C1200.2 604.2 1201.2 606.2 1202.2 608.1C1203.2 610 1204.2 611.8 1205.2 613.6C1206.2 615.4 1207.2 617.2 1208.2 618.9C1209.2 620.6 1210.2 622.2 1211.2 623.8C1212.2 625.4 1213.2 627 1214.2 628.5C1215.2 630.1 1216.2 631.6 1217.2 633C1218.2 634.5 1219.2 636 1220.2 637.4C1221.2 638.8 1222.2 640.2 1223.2 641.6C1224.2 643 1225.2 644.4 1226.2 645.8C1227.2 647.1 1228.2 648.5 1229.2 649.8C1230.2 651.1 1231.2 652.4 1232.2 653.7C1233.2 654.9 1234.2 656.2 1235.2 657.4C1236.2 658.6 1237.2 659.8 1238.2 661C1239.2 662.2 1240.2 663.3 1241.2 664.5C1242.2 665.6 1243.2 666.7 1244.2 667.8C1245.2 668.9 1246.2 670 1247.2 671.1C1248.2 672.1 1249.2 673.1 1250.2 674.1C1251.2 675.2 1252.2 676.1 1253.2 677.1C1254.2 678.1 1255.2 679 1256.2 680C1257.2 680.9 1258.2 681.9 1259.2 682.8C1260.2 683.7 1261.2 684.6 1262.2 685.4C1263.2 686.3 1264.2 687.2 1265.2 688C1266.2 688.9 1267.2 689.7 1268.2 690.5C1269.2 691.3 1270.2 692.1 1271.2 692.9C1272.2 693.7 1273.2 694.4 1274.2 695.2C1275.2 695.9 1276.2 696.7 1277.2 697.4C1278.2 698.1 1279.2 698.8 1280.2 699.5C1281.2 700.2 1282.2 700.9 1283.2 701.6C1284.2 702.3 1285.2 702.9 1286.2 703.6C1287.2 704.2 1288.2 704.8 1289.2 705.5C1290.2 706.1 1291.2 706.7 1292.2 707.3C1293.2 707.9 1294.2 708.5 1295.2 709.1C1296.2 709.7 1297.2 710.2 1298.2 710.8C1299.2 711.3 1300.2 711.9 1301.2 712.4C1302.2 713 1303.2 713.5 1304.2 714C1305.2 714.5 1306.2 715.1 1307.2 715.6C1308.2 716.1 1309.2 716.6 1310.2 717.1C1311.2 717.6 1312.2 718.1 1313.2 718.5C1314.2 719 1315.2 719.5 1316.2 720C1317.2 720.4 1318.2 720.9 1319.2 721.4C1320.2 721.8 1321.2 722.3 1322.2 722.7C1323.2 723.2 1324.2 723.6 1325.2 724C1326.2 724.4 1327.2 724.8 1328.2 725.3C1329.2 725.7 1330.2 726.1 1331.2 726.4C1332.2 726.8 1333.2 727.2 1334.2 727.6C1335.2 728 1336.2 728.3 1337.2 728.7C1338.2 729 1339.2 729.4 1340.2 729.7C1341.2 730.1 1342.2 730.4 1343.2 730.8C1344.2 731.1 1345.2 731.4 1346.2 731.8C1347.2 732.1 1348.2 732.4 1349.2 732.7C1350.2 733.1 1351.2 733.4 1352.2 733.7C1353.2 734 1354.2 734.3 1355.2 734.6C1356.2 735 1357.2 735.3 1358.2 735.6C1359.2 735.9 1360.2 736.2 1361.2 736.5C1362.2 736.8 1363.2 737.1 1364.2 737.4C1365.2 737.6 1366.2 737.9 1367.2 738.2C1368.2 738.5 1369.2 738.8 1370.2 739C1371.2 739.3 1372.2 739.6 1373.2 739.8C1374.2 740.1 1375.2 740.4 1376.2 740.6C1377.2 740.9 1378.2 741.1 1379.2 741.4C1380.2 741.6 1381.2 741.8 1382.2 742.1C1383.2 742.3 1384.2 742.6 1385.2 742.8C1386.2 743.1 1387.2 743.3 1388.2 743.6C1389.2 743.8 1390.2 744.1 1391.2 744.3C1392.2 744.5 1393.2 744.8 1394.2 745C1395.2 745.2 1396.7 745.4 1397.2 745.5" stroke="#ff8800"/>
<path d="M776.2 705.8C776.7 705.8 778.2 705.9 779.2 706C780.2 706 781.2 706.1 782.2 706.2C783.2 706.3 784.2 706.4 785.2 706.4C786.2 706.5 787.2 706.6 788.2 706.6C789.2 706.7 790.2 706.7 791.2 706.7C792.2 706.8 793.2 706.8 794.2 706.8C795.2 706.9 796.2 706.9 797.2 706.9C798.2 706.9 799.2 706.9 800.2 707C801.2 707 802.2 707 803.2 707C804.2 707 805.2 707 806.2 707C807.2 707 808.2 707 809.2 706.9C810.2 706.9 811.2 706.8 812.2 706.7C813.2 706.6 814.2 706.4 815.2 706.2C816.2 705.9 817.2 705.6 818.2 705.3C819.2 705 820.2 704.6 821.2 704.2C822.2 703.8 823.2 703.3 824.2 702.8C825.2 702.4 826.2 701.9 827.2 701.4C828.2 700.9 829.2 700.3 830.2 699.8C831.2 699.2 832.2 698.6 833.2 697.9C834.2 697.2 835.2 696.5 836.2 695.7C837.2 694.9 838.2 694 839.2 693.1C840.2 692.2 841.2 691.3 842.2 690.3C843.2 689.3 844.2 688.3 845.2 687.2C846.2 686.1 847.2 685.1 848.2 683.9C849.2 682.8 850.2 681.6 851.2 680.4C852.2 679.2 853.2 677.9 854.2 676.5C855.2 675.2 856.2 673.8 857.2 672.3C858.2 670.8 859.2 669.3 860.2 667.8C861.2 666.2 862.2 664.6 863.2 663C864.2 661.4 865.2 659.8 866.2 658.1C867.2 656.5 868.2 654.9 869.2 653.2C870.2 651.6 871.2 649.9 872.2 648.2C873.2 646.4 874.2 644.6 875.2 642.8C876.2 641 877.2 639.2 878.2 637.3C879.2 635.5 880.2 633.7 881.2 631.9C882.2 630.1 883.2 628.4 884.2 626.7C885.2 625.1 886.2 623.5 887.2 622.1C888.2 620.6 889.2 619.3 890.2 618C891.2 616.8 892.2 615.6 893.2 614.5C894.2 613.3 895.2 612.3 896.2 611.2C897.2 610.2 898.2 609.2 899.2 608.3C900.2 607.4 901.2 606.5 902.2 605.6C903.2 604.8 904.2 604 905.2 603.2C906.2 602.5 907.2 601.8 908.2 601.2C909.2 600.6 910.2 600 911.2 599.5C912.2 599 913.2 598.5 914.2 598C915.2 597.6 916.2 597.2 917.2 596.9C918.2 596.5 919.2 596.3 920.2 596C921.2 595.8 922.2 595.6 923.2 595.4C924.2 595.3 925.2 595.1 926.2 595C927.2 594.8 928.2 594.7 929.2 594.5C930.2 594.2 931.2 594 932.2 593.7C933.2 593.4 934.2 593 935.2 592.6C936.2 592.1 937.2 591.6 938.2 591.1C939.2 590.6 940.2 590 941.2 589.3C942.2 588.6 943.2 587.9 944.2 587.1C945.2 586.3 946.2 585.4 947.2 584.5C948.2 583.6 949.2 582.5 950.2 581.5C951.2 580.4 952.2 579.2 953.2 578C954.2 576.8 955.2 575.5 956.2 574.1C957.2 572.8 958.2 571.3 959.2 569.8C960.2 568.3 961.2 566.7 962.2 565C963.2 563.4 964.2 561.6 965.2 559.8C966.2 558 967.2 556.2 968.2 554.2C969.2 552.3 970.2 550.3 971.2 548.3C972.2 546.2 973.2 544.2 974.2 542.1C975.2 540 976.2 537.8 977.2 535.6C978.2 533.4 979.2 531.2 980.2 529C981.2 526.7 982.2 524.4 983.2 522.1C984.2 519.8 985.2 517.4 986.2 515C987.2 512.7 988.2 510.2 989.2 507.8C990.2 505.4 991.2 503 992.2 500.6C993.2 498.3 994.2 495.9 995.2 493.6C996.2 491.2 997.2 488.9 998.2 486.7C999.2 484.4 1000.2 482.2 1001.2 480.1C1002.2 478 1003.2 475.9 1004.2 473.8C1005.2 471.8 1006.2 469.8 1007.2 467.7C1008.2 465.6 1009.2 463.5 1010.2 461.2C1011.2 459 1012.2 456.7 1013.2 454.4C1014.2 452 1015.2 449.6 1016.2 447.2C1017.2 444.8 1018.2 442.4 1019.2 440C1020.2 437.6 1021.2 435.3 1022.2 433C1023.2 430.7 1024.2 428.4 1025.2 426.2C1026.2 424 1027.2 421.9 1028.2 419.9C1029.2 417.9 1030.2 415.9 1031.2 414.1C1032.2 412.3 1033.2 410.6 1034.2 408.9C1035.2 407.3 1036.2 405.7 1037.2 404.2C1038.2 402.7 1039.2 401.2 1040.2 399.8C1041.2 398.4 1042.2 397 1043.2 395.7C1044.2 394.4 1045.2 393.2 1046.2 392.2C1047.2 391.1 1048.2 390.2 1049.2 389.4C1050.2 388.6 1051.2 387.9 1052.2 387.4C1053.2 386.8 1054.2 386.3 1055.2 386C1056.2 385.7 1057.2 385.5 1058.2 385.5C1059.2 385.5 1060.2 385.7 1061.2 386C1062.2 386.3 1063.2 386.8 1064.2 387.3C1065.2 387.8 1066.2 388.4 1067.2 389.2C1068.2 389.9 1069.2 390.7 1070.2 391.6C1071.2 392.5 1072.2 393.6 1073.2 394.8C1074.2 395.9 1075.2 397.3 1076.2 398.6C1077.2 400 1078.2 401.4 1079.2 402.8C1080.2 404.2 1081.2 405.6 1082.2 407C1083.2 408.3 1084.2 409.7 1085.2 411.1C1086.2 412.5 1087.2 413.9 1088.2 415.3C1089.2 416.7 1090.2 418.1 1091.2 419.5C1092.2 420.9 1093.2 422.3 1094.2 423.7C1095.2 425.1 1096.2 426.6 1097.2 428C1098.2 429.4 1099.2 430.9 1100.2 432.3C1101.2 433.7 1102.2 435.2 1103.2 436.6C1104.2 438 1105.2 439.4 1106.2 440.8C1107.2 442.2 1108.2 443.6 1109.2 444.9C1110.2 446.2 1111.2 447.5 1112.2 448.7C1113.2 449.9 1114.2 451.1 1115.2 452.2C1116.2 453.3 1117.2 454.3 1118.2 455.2C1119.2 456.1 1120.2 456.9 1121.2 457.6C1122.2 458.3 1123.2 458.8 1124.2 459.4C1125.2 459.9 1126.2 460.3 1127.2 460.7C1128.2 461 1129.2 461.2 1130.2 461.4C1131.2 461.6 1132.2 461.7 1133.2 461.7C1134.2 461.8 1135.2 461.9 1136.2 461.9C1137.2 461.9 1138.2 461.9 1139.2 461.9C1140.2 461.9 1141.2 461.9 1142.2 461.8C1143.2 461.8 1144.2 461.7 1145.2 461.6C1146.2 461.5 1147.2 461.3 1148.2 461.2C1149.2 461.1 1150.2 460.9 1151.2 460.8C1152.2 460.6 1153.2 460.5 1154.2 460.3C1155.2 460.2 1156.2 460 1157.2 459.9C1158.2 459.8 1159.2 459.8 1160.2 459.7C1161.2 459.7 1162.2 459.7 1163.2 459.7C1164.2 459.7 1165.2 459.7 1166.2 459.8C1167.2 459.9 1168.2 460 1169.2 460.3C1170.2 460.6 1171.2 461 1172.2 461.6C1173.2 462.3 1174.2 463.1 1175.2 464.2C1176.2 465.2 1177.2 466.4 1178.2 467.8C1179.2 469.2 1180.2 470.8 1181.2 472.6C1182.2 474.4 1183.2 476.4 1184.2 478.4C1185.2 480.5 1186.2 482.7 1187.2 485C1188.2 487.3 1189.2 489.8 1190.2 492.3C1191.2 494.8 1192.2 497.4 1193.2 500C1194.2 502.7 1195.2 505.4 1196.2 508.1C1197.2 510.9 1198.2 513.7 1199.2 516.5C1200.2 519.3 1201.2 522.1 1202.2 524.9C1203.2 527.6 1204.2 530.4 1205.2 533C1206.2 535.7 1207.2 538.3 1208.2 540.9C1209.2 543.6 1210.2 546.1 1211.2 548.8C1212.2 551.4 1213.2 554 1214.2 556.7C1215.2 559.4 1216.2 562.2 1217.2 564.9C1218.2 567.6 1219.2 570.4 1220.2 573C1221.2 575.6 1222.2 578.1 1223.2 580.5C1224.2 582.9 1225.2 585.2 1226.2 587.5C1227.2 589.7 1228.2 591.8 1229.2 594C1230.2 596.1 1231.2 598.2 1232.2 600.3C1233.2 602.4 1234.2 604.4 1235.2 606.5C1236.2 608.6 1237.2 610.6 1238.2 612.7C1239.2 614.7 1240.2 616.7 1241.2 618.7C1242.2 620.7 1243.2 622.6 1244.2 624.5C1245.2 626.4 1246.2 628.2 1247.2 630C1248.2 631.8 1249.2 633.6 1250.2 635.3C1251.2 637 1252.2 638.7 1253.2 640.4C1254.2 642 1255.2 643.6 1256.2 645.1C1257.2 646.7 1258.2 648.2 1259.2 649.6C1260.2 651 1261.2 652.4 1262.2 653.8C1263.2 655.2 1264.2 656.5 1265.2 657.8C1266.2 659.1 1267.2 660.4 1268.2 661.7C1269.2 663 1270.2 664.3 1271.2 665.6C1272.2 666.9 1273.2 668.2 1274.2 669.5C1275.2 670.7 1276.2 672 1277.2 673.3C1278.2 674.5 1279.2 675.7 1280.2 676.8C1281.2 678 1282.2 679.1 1283.2 680.1C1284.2 681.1 1285.2 682.1 1286.2 683.1C1287.2 684 1288.2 684.9 1289.2 685.8C1290.2 686.7 1291.2 687.6 1292.2 688.4C1293.2 689.3 1294.2 690.1 1295.2 690.9C1296.2 691.8 1297.2 692.6 1298.2 693.4C1299.2 694.1 1300.2 694.9 1301.2 695.7C1302.2 696.4 1303.2 697.2 1304.2 697.9C1305.2 698.6 1306.2 699.3 1307.2 700C1308.2 700.7 1309.2 701.4 1310.2 702.1C1311.2 702.8 1312.2 703.4 1313.2 704.1C1314.2 704.7 1315.2 705.4 1316.2 706C1317.2 706.6 1318.2 707.3 1319.2 707.9C1320.2 708.5 1321.2 709.1 1322.2 709.7C1323.2 710.2 1324.2 710.8 1325.2 711.4C1326.2 711.9 1327.2 712.5 1328.2 713C1329.2 713.5 1330.2 714.1 1331.2 714.6C1332.2 715.1 1333.2 715.6 1334.2 716C1335.2 716.5 1336.2 717 1337.2 717.4C1338.2 717.9 1339.2 718.4 1340.2 718.8C1341.2 719.2 1342.2 719.7 1343.2 720.1C1344.2 720.5 1345.2 721 1346.2 721.4C1347.2 721.8 1348.2 722.2 1349.2 722.7C1350.2 723.1 1351.2 723.5 1352.2 723.9C1353.2 724.4 1354.2 724.8 1355.2 725.2C1356.2 725.6 1357.2 726 1358.2 726.4C1359.2 726.9 1360.2 727.3 1361.2 727.7C1362.2 728.1 1363.2 728.5 1364.2 728.8C1365.2 729.2 1366.2 729.6 1367.2 730C1368.2 730.3 1369.2 730.7 1370.2 731C1371.2 731.4 1372.2 731.7 1373.2 732C1374.2 732.4 1375.2 732.7 1376.2 733C1377.2 733.3 1378.2 733.6 1379.2 733.9C1380.2 734.2 1381.2 734.5 1382.2 734.8C1383.2 735.1 1384.2 735.4 1385.2 735.7C1386.2 736 1387.2 736.2 1388.2 736.5C1389.2 736.8 1390.2 737 1391.2 737.3C1392.2 737.5 1393.2 737.8 1394.2 738C1395.2 738.2 1396.7 738.4 1397.2 738.5" stroke="#f41200"/>
<path d="M776.2 712.5C776.7 712.6 778.2 712.6 779.2 712.7C780.2 712.8 781.2 712.9 782.2 712.9C783.2 713 784.2 713.1 785.2 713.1C786.2 713.2 787.2 713.2 788.2 713.3C789.2 713.3 790.2 713.3 791.2 713.4C792.2 713.4 793.2 713.4 794.2 713.5C795.2 713.5 796.2 713.5 797.2 713.5C798.2 713.5 799.2 713.6 800.2 713.6C801.2 713.6 802.2 713.6 803.2 713.6C804.2 713.6 805.2 713.6 806.2 713.6C807.2 713.6 808.2 713.6 809.2 713.5C810.2 713.5 811.2 713.4 812.2 713.3C813.2 713.2 814.2 713.1 815.2 712.9C816.2 712.7 817.2 712.5 818.2 712.2C819.2 711.9 820.2 711.6 821.2 711.2C822.2 710.9 823.2 710.5 824.2 710.1C825.2 709.7 826.2 709.2 827.2 708.8C828.2 708.3 829.2 707.9 830.2 707.4C831.2 706.8 832.2 706.3 833.2 705.6C834.2 705 835.2 704.3 836.2 703.5C837.2 702.7 838.2 701.9 839.2 701C840.2 700.1 841.2 699.2 842.2 698.2C843.2 697.2 844.2 696.2 845.2 695.1C846.2 694.1 847.2 693 848.2 691.9C849.2 690.8 850.2 689.7 851.2 688.5C852.2 687.3 853.2 686 854.2 684.7C855.2 683.4 856.2 682.1 857.2 680.6C858.2 679.2 859.2 677.8 860.2 676.3C861.2 674.8 862.2 673.2 863.2 671.7C864.2 670.1 865.2 668.6 866.2 667C867.2 665.4 868.2 663.8 869.2 662.2C870.2 660.5 871.2 658.8 872.2 657.1C873.2 655.4 874.2 653.5 875.2 651.7C876.2 649.9 877.2 647.9 878.2 646.1C879.2 644.2 880.2 642.3 881.2 640.5C882.2 638.7 883.2 636.9 884.2 635.3C885.2 633.7 886.2 632.2 887.2 630.8C888.2 629.5 889.2 628.3 890.2 627.2C891.2 626 892.2 625.1 893.2 624.2C894.2 623.2 895.2 622.4 896.2 621.6C897.2 620.8 898.2 620 899.2 619.3C900.2 618.6 901.2 617.9 902.2 617.3C903.2 616.6 904.2 616.1 905.2 615.5C906.2 614.9 907.2 614.4 908.2 613.9C909.2 613.5 910.2 613 911.2 612.6C912.2 612.2 913.2 611.8 914.2 611.4C915.2 611.1 916.2 610.8 917.2 610.5C918.2 610.2 919.2 609.9 920.2 609.6C921.2 609.4 922.2 609.2 923.2 609C924.2 608.8 925.2 608.6 926.2 608.4C927.2 608.2 928.2 608 929.2 607.7C930.2 607.5 931.2 607.2 932.2 606.9C933.2 606.6 934.2 606.2 935.2 605.8C936.2 605.5 937.2 605 938.2 604.6C939.2 604.1 940.2 603.6 941.2 603.1C942.2 602.6 943.2 602 944.2 601.4C945.2 600.7 946.2 600.1 947.2 599.3C948.2 598.6 949.2 597.8 950.2 596.9C951.2 596.1 952.2 595.1 953.2 594.1C954.2 593.1 955.2 592 956.2 590.8C957.2 589.7 958.2 588.4 959.2 587.1C960.2 585.8 961.2 584.5 962.2 583.1C963.2 581.7 964.2 580.2 965.2 578.7C966.2 577.2 967.2 575.6 968.2 574C969.2 572.3 970.2 570.6 971.2 568.8C972.2 567 973.2 565.1 974.2 563.1C975.2 561.1 976.2 559 977.2 556.8C978.2 554.7 979.2 552.4 980.2 550.1C981.2 547.9 982.2 545.6 983.2 543.3C984.2 541 985.2 538.7 986.2 536.5C987.2 534.2 988.2 531.9 989.2 529.6C990.2 527.3 991.2 524.9 992.2 522.6C993.2 520.3 994.2 517.9 995.2 515.6C996.2 513.2 997.2 510.9 998.2 508.5C999.2 506.1 1000.2 503.7 1001.2 501.2C1002.2 498.8 1003.2 496.3 1004.2 493.8C1005.2 491.3 1006.2 488.7 1007.2 486.1C1008.2 483.5 1009.2 480.8 1010.2 478C1011.2 475.3 1012.2 472.4 1013.2 469.6C1014.2 466.7 1015.2 463.8 1016.2 460.9C1017.2 458.1 1018.2 455.2 1019.2 452.4C1020.2 449.6 1021.2 446.9 1022.2 444.2C1023.2 441.5 1024.2 438.9 1025.2 436.3C1026.2 433.7 1027.2 431.1 1028.2 428.6C1029.2 426.1 1030.2 423.6 1031.2 421.1C1032.2 418.6 1033.2 416.2 1034.2 413.8C1035.2 411.4 1036.2 409 1037.2 406.6C1038.2 404.2 1039.2 401.8 1040.2 399.4C1041.2 397.1 1042.2 394.7 1043.2 392.4C1044.2 390.2 1045.2 388 1046.2 386C1047.2 384.1 1048.2 382.4 1049.2 380.8C1050.2 379.3 1051.2 378.1 1052.2 376.9C1053.2 375.8 1054.2 374.8 1055.2 374C1056.2 373.1 1057.2 372.4 1058.2 371.8C1059.2 371.2 1060.2 370.7 1061.2 370.3C1062.2 369.9 1063.2 369.7 1064.2 369.6C1065.2 369.4 1066.2 369.5 1067.2 369.6C1068.2 369.8 1069.2 370.1 1070.2 370.5C1071.2 371 1072.2 371.5 1073.2 372.2C1074.2 372.9 1075.2 373.7 1076.2 374.8C1077.2 375.9 1078.2 377.1 1079.2 378.5C1080.2 379.9 1081.2 381.5 1082.2 383.2C1083.2 384.9 1084.2 386.7 1085.2 388.7C1086.2 390.6 1087.2 392.7 1088.2 394.7C1089.2 396.8 1090.2 398.9 1091.2 401C1092.2 403 1093.2 405 1094.2 407C1095.2 408.9 1096.2 410.8 1097.2 412.7C1098.2 414.6 1099.2 416.5 1100.2 418.4C1101.2 420.3 1102.2 422.1 1103.2 424C1104.2 425.8 1105.2 427.7 1106.2 429.4C1107.2 431.2 1108.2 432.9 1109.2 434.5C1110.2 436.1 1111.2 437.7 1112.2 439.1C1113.2 440.6 1114.2 442 1115.2 443.3C1116.2 444.6 1117.2 445.8 1118.2 446.9C1119.2 447.9 1120.2 448.8 1121.2 449.7C1122.2 450.5 1123.2 451.3 1124.2 451.9C1125.2 452.6 1126.2 453.1 1127.2 453.6C1128.2 454.1 1129.2 454.5 1130.2 454.9C1131.2 455.3 1132.2 455.6 1133.2 455.8C1134.2 456.1 1135.2 456.3 1136.2 456.5C1137.2 456.6 1138.2 456.7 1139.2 456.8C1140.2 456.8 1141.2 456.8 1142.2 456.7C1143.2 456.6 1144.2 456.4 1145.2 456.2C1146.2 456 1147.2 455.7 1148.2 455.4C1149.2 455.1 1150.2 454.8 1151.2 454.3C1152.2 453.9 1153.2 453.5 1154.2 453C1155.2 452.5 1156.2 451.9 1157.2 451.5C1158.2 451 1159.2 450.5 1160.2 450C1161.2 449.6 1162.2 449.2 1163.2 448.8C1164.2 448.5 1165.2 448.1 1166.2 447.9C1167.2 447.6 1168.2 447.4 1169.2 447.3C1170.2 447.2 1171.2 447.2 1172.2 447.2C1173.2 447.2 1174.2 447.3 1175.2 447.4C1176.2 447.5 1177.2 447.7 1178.2 448C1179.2 448.3 1180.2 448.7 1181.2 449.5C1182.2 450.2 1183.2 451.1 1184.2 452.3C1185.2 453.5 1186.2 455 1187.2 456.7C1188.2 458.3 1189.2 460.3 1190.2 462.3C1191.2 464.3 1192.2 466.5 1193.2 468.6C1194.2 470.8 1195.2 473 1196.2 475.3C1197.2 477.6 1198.2 479.9 1199.2 482.4C1200.2 484.9 1201.2 487.5 1202.2 490.2C1203.2 492.9 1204.2 495.8 1205.2 498.6C1206.2 501.3 1207.2 504.2 1208.2 506.8C1209.2 509.4 1210.2 511.9 1211.2 514.4C1212.2 516.8 1213.2 519 1214.2 521.4C1215.2 523.8 1216.2 526.1 1217.2 528.8C1218.2 531.4 1219.2 534.3 1220.2 537.3C1221.2 540.2 1222.2 543.6 1223.2 546.7C1224.2 549.8 1225.2 553.1 1226.2 556.1C1227.2 559.2 1228.2 562.1 1229.2 564.9C1230.2 567.8 1231.2 570.5 1232.2 573.1C1233.2 575.8 1234.2 578.3 1235.2 580.8C1236.2 583.3 1237.2 585.8 1238.2 588.2C1239.2 590.6 1240.2 592.9 1241.2 595.2C1242.2 597.5 1243.2 599.7 1244.2 601.9C1245.2 604.2 1246.2 606.3 1247.2 608.4C1248.2 610.5 1249.2 612.6 1250.2 614.6C1251.2 616.7 1252.2 618.7 1253.2 620.7C1254.2 622.6 1255.2 624.6 1256.2 626.5C1257.2 628.4 1258.2 630.4 1259.2 632.3C1260.2 634.2 1261.2 636.1 1262.2 638C1263.2 639.8 1264.2 641.7 1265.2 643.5C1266.2 645.3 1267.2 647.1 1268.2 648.8C1269.2 650.5 1270.2 652.2 1271.2 653.8C1272.2 655.5 1273.2 657.1 1274.2 658.6C1275.2 660.2 1276.2 661.7 1277.2 663.2C1278.2 664.6 1279.2 666.1 1280.2 667.4C1281.2 668.8 1282.2 670.1 1283.2 671.4C1284.2 672.7 1285.2 674 1286.2 675.2C1287.2 676.4 1288.2 677.5 1289.2 678.7C1290.2 679.8 1291.2 680.9 1292.2 682C1293.2 683.1 1294.2 684.2 1295.2 685.2C1296.2 686.2 1297.2 687.2 1298.2 688.2C1299.2 689.2 1300.2 690.2 1301.2 691.2C1302.2 692.1 1303.2 693 1304.2 693.9C1305.2 694.9 1306.2 695.7 1307.2 696.6C1308.2 697.5 1309.2 698.3 1310.2 699.1C1311.2 699.9 1312.2 700.7 1313.2 701.5C1314.2 702.2 1315.2 703 1316.2 703.7C1317.2 704.5 1318.2 705.2 1319.2 705.9C1320.2 706.6 1321.2 707.3 1322.2 707.9C1323.2 708.6 1324.2 709.3 1325.2 709.9C1326.2 710.6 1327.2 711.2 1328.2 711.9C1329.2 712.5 1330.2 713.1 1331.2 713.7C1332.2 714.3 1333.2 714.9 1334.2 715.5C1335.2 716.1 1336.2 716.7 1337.2 717.3C1338.2 717.8 1339.2 718.4 1340.2 719C1341.2 719.5 1342.2 720.1 1343.2 720.6C1344.2 721.1 1345.2 721.6 1346.2 722.1C1347.2 722.6 1348.2 723.1 1349.2 723.6C1350.2 724.1 1351.2 724.5 1352.2 725C1353.2 725.4 1354.2 725.8 1355.2 726.3C1356.2 726.7 1357.2 727.1 1358.2 727.5C1359.2 727.9 1360.2 728.3 1361.2 728.7C1362.2 729.1 1363.2 729.4 1364.2 729.8C1365.2 730.2 1366.2 730.6 1367.2 731C1368.2 731.3 1369.2 731.7 1370.2 732.1C1371.2 732.5 1372.2 732.8 1373.2 733.2C1374.2 733.6 1375.2 733.9 1376.2 734.3C1377.2 734.7 1378.2 735.1 1379.2 735.4C1380.2 735.8 1381.2 736.1 1382.2 736.5C1383.2 736.8 1384.2 737.2 1385.2 737.5C1386.2 737.8 1387.2 738.1 1388.2 738.4C1389.2 738.7 1390.2 739 1391.2 739.3C1392.2 739.6 1393.2 739.8 1394.2 740C1395.2 740.2 1396.7 740.5 1397.2 740.5" stroke="#8c0000"/>
</g>
<g stroke="#222" stroke-opacity="0.6" stroke-width="0.8">
<rect x="999.6" y="750" width="9.3" height="36.2" fill="#1f7fd8"/>
<rect x="1009" y="695" width="9.3" height="91.2" fill="#10bfe0"/>
<rect x="1018.4" y="573" width="9.3" height="213.2" fill="#10d8a8"/>
<rect x="1027.8" y="578" width="9.3" height="208.2" fill="#98d870"/>
<rect x="1037.2" y="630" width="9.3" height="156.2" fill="#d8cc40"/>
<rect x="1046.4" y="674.4" width="9.3" height="111.8" fill="#f09848"/>
<rect x="1055.6" y="703" width="9.3" height="83.2" fill="#f85850"/>
<rect x="1065" y="707" width="9.3" height="79.2" fill="#b05050"/>
<rect x="1119" y="736" width="9.1" height="50.2" fill="#1f7fd8"/>
<rect x="1128.1" y="687" width="9.1" height="99.2" fill="#10bfe0"/>
<rect x="1137.2" y="647" width="9.1" height="139.2" fill="#10d8a8"/>
<rect x="1146.2" y="617" width="9.1" height="169.2" fill="#98d870"/>
<rect x="1155.3" y="592" width="9.1" height="194.2" fill="#d8cc40"/>
<rect x="1164.4" y="678" width="9.1" height="108.2" fill="#f09848"/>
<rect x="1173.5" y="709" width="9.1" height="77.2" fill="#f85850"/>
<rect x="1182.6" y="737.6" width="9.1" height="48.6" fill="#b05050"/>
<rect x="1191.6" y="753.6" width="9.1" height="32.6" fill="#808080"/>
<rect x="1200.7" y="761" width="9.1" height="25.2" fill="#808080"/>
<rect x="1209.8" y="766.4" width="9.1" height="19.8" fill="#808080"/>
<rect x="1218.9" y="772" width="9.1" height="14.2" fill="#808080"/>
<rect x="1228" y="783.5" width="9.1" height="2.7" fill="#808080"/>
<rect x="1237" y="784.5" width="9.1" height="1.7" fill="#808080"/>
</g>
<g fill="none" stroke="#000" stroke-width="2.9" stroke-dasharray="9 5">
<path d="M988 780.3C988.3 780 989.3 779.1 990 778.3C990.7 777.6 991.3 776.8 992 775.8C992.7 774.8 993.3 773.8 994 772.5C994.7 771.3 995.3 770 996 768.4C996.7 766.9 997.3 765.3 998 763.4C998.7 761.6 999.3 759.5 1000 757.3C1000.7 755.1 1001.3 752.7 1002 750C1002.7 747.4 1003.3 744.5 1004 741.5C1004.7 738.4 1005.3 735.1 1006 731.7C1006.7 728.2 1007.3 724.5 1008 720.6C1008.7 716.7 1009.3 712.5 1010 708.3C1010.7 704 1011.3 699.5 1012 694.9C1012.7 690.3 1013.3 685.5 1014 680.7C1014.7 675.9 1015.3 670.9 1016 665.9C1016.7 661 1017.3 655.9 1018 651C1018.7 646 1019.3 641 1020 636.2C1020.7 631.4 1021.3 626.7 1022 622.2C1022.7 617.7 1023.3 613.3 1024 609.2C1024.7 605.2 1025.3 601.3 1026 597.9C1026.7 594.4 1027.3 591.3 1028 588.6C1028.7 585.9 1029.3 583.5 1030 581.6C1030.7 579.8 1031.3 578.3 1032 577.3C1032.7 576.4 1033.3 575.9 1034 575.9C1034.7 575.9 1035.3 576.4 1036 577.3C1036.7 578.3 1037.3 579.8 1038 581.6C1038.7 583.5 1039.3 585.9 1040 588.6C1040.7 591.3 1041.3 594.4 1042 597.9C1042.7 601.3 1043.3 605.2 1044 609.2C1044.7 613.3 1045.3 617.7 1046 622.2C1046.7 626.7 1047.3 631.4 1048 636.2C1048.7 641 1049.3 646 1050 651C1050.7 655.9 1051.3 661 1052 665.9C1052.7 670.9 1053.3 675.9 1054 680.7C1054.7 685.5 1055.3 690.3 1056 694.9C1056.7 699.5 1057.3 704 1058 708.3C1058.7 712.5 1059.3 716.7 1060 720.6C1060.7 724.5 1061.3 728.2 1062 731.7C1062.7 735.1 1063.3 738.4 1064 741.5C1064.7 744.5 1065.3 747.4 1066 750C1066.7 752.7 1067.3 755.1 1068 757.3C1068.7 759.5 1069.3 761.6 1070 763.4C1070.7 765.3 1071.3 766.9 1072 768.4C1072.7 770 1073.3 771.3 1074 772.5C1074.7 773.8 1075.3 774.8 1076 775.8C1076.7 776.8 1077.3 777.6 1078 778.3C1078.7 779.1 1079.3 779.7 1080 780.3C1080.7 780.9 1081.3 781.4 1082 781.8C1082.7 782.2 1083.3 782.6 1084 782.9C1084.7 783.2 1085.3 783.5 1086 783.7C1086.7 784 1087.3 784.2 1088 784.3C1088.7 784.5 1089.3 784.7 1090 784.8C1090.7 784.9 1091.3 785 1092 785.1C1092.7 785.2 1093.3 785.2 1094 785.3C1094.7 785.3 1095.3 785.4 1096 785.4C1096.7 785.5 1097.7 785.5 1098 785.5"/>
<path d="M1090 785.3C1090.3 785.3 1091.3 785.2 1092 785.1C1092.7 785 1093.3 784.9 1094 784.8C1094.7 784.7 1095.3 784.6 1096 784.5C1096.7 784.3 1097.3 784.2 1098 784C1098.7 783.8 1099.3 783.6 1100 783.3C1100.7 783.1 1101.3 782.8 1102 782.5C1102.7 782.2 1103.3 781.8 1104 781.4C1104.7 780.9 1105.3 780.5 1106 779.9C1106.7 779.3 1107.3 778.7 1108 778C1108.7 777.3 1109.3 776.6 1110 775.7C1110.7 774.8 1111.3 773.9 1112 772.8C1112.7 771.8 1113.3 770.6 1114 769.3C1114.7 768 1115.3 766.6 1116 765C1116.7 763.5 1117.3 761.8 1118 760C1118.7 758.1 1119.3 756.2 1120 754C1120.7 751.9 1121.3 749.6 1122 747.2C1122.7 744.7 1123.3 742.2 1124 739.4C1124.7 736.7 1125.3 733.7 1126 730.7C1126.7 727.6 1127.3 724.4 1128 721.1C1128.7 717.8 1129.3 714.3 1130 710.7C1130.7 707.2 1131.3 703.4 1132 699.7C1132.7 695.9 1133.3 692.1 1134 688.2C1134.7 684.3 1135.3 680.3 1136 676.4C1136.7 672.5 1137.3 668.5 1138 664.6C1138.7 660.8 1139.3 656.9 1140 653.2C1140.7 649.4 1141.3 645.8 1142 642.3C1142.7 638.8 1143.3 635.4 1144 632.3C1144.7 629.2 1145.3 626.2 1146 623.6C1146.7 620.9 1147.3 618.4 1148 616.3C1148.7 614.2 1149.3 612.3 1150 610.8C1150.7 609.2 1151.3 608 1152 607.1C1152.7 606.3 1153.3 605.7 1154 605.6C1154.7 605.4 1155.3 605.6 1156 606.1C1156.7 606.6 1157.3 607.5 1158 608.7C1158.7 609.9 1159.3 611.5 1160 613.3C1160.7 615.1 1161.3 617.3 1162 619.7C1162.7 622.1 1163.3 624.9 1164 627.8C1164.7 630.7 1165.3 633.8 1166 637.2C1166.7 640.5 1167.3 644 1168 647.6C1168.7 651.2 1169.3 655 1170 658.8C1170.7 662.7 1171.3 666.6 1172 670.5C1172.7 674.4 1173.3 678.4 1174 682.3C1174.7 686.2 1175.3 690.1 1176 694C1176.7 697.8 1177.3 701.6 1178 705.3C1178.7 709 1179.3 712.6 1180 716C1180.7 719.5 1181.3 722.8 1182 726C1182.7 729.2 1183.3 732.3 1184 735.2C1184.7 738.1 1185.3 740.8 1186 743.4C1186.7 746 1187.3 748.4 1188 750.7C1188.7 753 1189.3 755.1 1190 757.1C1190.7 759.1 1191.3 760.9 1192 762.6C1192.7 764.3 1193.3 765.8 1194 767.3C1194.7 768.7 1195.3 770 1196 771.1C1196.7 772.3 1197.3 773.4 1198 774.3C1198.7 775.3 1199.3 776.2 1200 776.9C1200.7 777.7 1201.3 778.4 1202 779C1202.7 779.6 1203.3 780.2 1204 780.7C1204.7 781.2 1205.7 781.7 1206 782" stroke-dashoffset="4"/>
</g>
<path d="M1091.6 297.7 V786.2" stroke="#d0202c" stroke-width="3.6" stroke-dasharray="15 11.2" stroke-dashoffset="-2.5" fill="none"/>
<rect x="775.2" y="297.7" width="623" height="488.5" fill="none" stroke="#000" stroke-width="3.2"/>
<path d="M861.7 786.2v-7.5M1034.6 786.2v-7.5M1207.5 786.2v-7.5M1380.4 786.2v-7.5M775.2 460.1h7.5M775.2 786.2h7.5M1398.2 313.2h-8.5M1398.2 471h-8.5M1398.2 628.5h-8.5M1398.2 786.2h-8.5" stroke="#000" stroke-width="3" fill="none"/>
<g class="dv" font-size="33">
<text x="765" y="798.5" text-anchor="end">0</text>
<text x="765" y="472.2" text-anchor="end">1</text>
<text x="1408.5" y="326.7">3</text>
<text x="1408.5" y="484.5">2</text>
<text x="1408.5" y="642">1</text>
<text x="1408.5" y="799.7">0</text>
</g>
<text transform="translate(732.7 741.6) rotate(-90)" font-size="32" class="dv" textLength="389" lengthAdjust="spacing">Scattering intensity (%)</text>
<text transform="translate(1433.6 419.4) rotate(90)" font-size="32" class="dv" textLength="244.7" lengthAdjust="spacing">Number (x100)</text>
<text transform="translate(786.2 355) scale(1.15 1)" font-size="66" class="ls">f</text>
<text x="935.5" y="733.6" font-size="51" class="si" fill="#7030a0">ω</text><text x="972" y="747.1" font-size="42" class="ls" fill="#7030a0">+</text>
<text x="1197.5" y="741.2" font-size="51" class="si" fill="#7030a0">ω</text><text x="1231.9" y="754.8" font-size="42" class="ls" fill="#7030a0">−</text>
<text transform="translate(1173 359.6) scale(1.12 1)" font-size="60" class="si">f</text>
<text transform="translate(1197.6 371.6) scale(1.15 1)" font-size="40.3" class="si">S</text>
<text x="1210" y="334.6" font-size="43" class="se">SC</text>
<text x="1265 1279.7 1311.6 1341.5" y="358" font-size="52" class="ls">:74%</text>
</g>
<g id="panel-g">
<g clip-path="url(#cg)">
<path d="M923 1244.5C923.7 1244.4 925.7 1244.4 927 1244.3C928.3 1244.3 929.7 1244.2 931 1244.1C932.3 1244.1 933.7 1244 935 1243.9C936.3 1243.8 937.7 1243.8 939 1243.7C940.3 1243.6 941.7 1243.5 943 1243.4C944.3 1243.3 945.7 1243.2 947 1243C948.3 1242.9 949.7 1242.8 951 1242.6C952.3 1242.5 953.7 1242.3 955 1242.2C956.3 1242 957.7 1241.8 959 1241.6C960.3 1241.4 961.7 1241.2 963 1240.9C964.3 1240.7 965.7 1240.4 967 1240.1C968.3 1239.9 969.7 1239.6 971 1239.2C972.3 1238.9 973.7 1238.5 975 1238.1C976.3 1237.7 977.7 1237.3 979 1236.8C980.3 1236.4 981.7 1235.9 983 1235.3C984.3 1234.8 985.7 1234.2 987 1233.6C988.3 1232.9 989.7 1232.2 991 1231.5C992.3 1230.7 993.7 1229.9 995 1229C996.3 1228.1 997.7 1227.1 999 1226.1C1000.3 1225 1001.7 1223.9 1003 1222.6C1004.3 1221.4 1005.7 1220 1007 1218.6C1008.3 1217.1 1009.7 1215.5 1011 1213.8C1012.3 1212.1 1013.7 1210.2 1015 1208.2C1016.3 1206.2 1017.7 1204 1019 1201.6C1020.3 1199.2 1021.7 1196.7 1023 1193.8C1024.3 1191 1025.7 1188 1027 1184.7C1028.3 1181.4 1030 1176.8 1031 1174.1C1032 1171.3 1032.3 1170.1 1033 1168.1C1033.7 1166 1034.3 1163.8 1035 1161.6C1035.7 1159.3 1036.3 1157 1037 1154.6C1037.7 1152.1 1038.3 1149.6 1039 1147C1039.7 1144.4 1040.3 1141.7 1041 1138.9C1041.7 1136.1 1042.3 1133.1 1043 1130.1C1043.7 1127.1 1044.3 1124 1045 1120.7C1045.7 1117.5 1046.3 1114.1 1047 1110.6C1047.7 1107.1 1048.3 1103.6 1049 1099.8C1049.7 1096.1 1050.3 1092.3 1051 1088.3C1051.7 1084.4 1052.3 1080.3 1053 1076.1C1053.7 1071.9 1054.3 1067.6 1055 1063.1C1055.7 1058.7 1056.3 1054.1 1057 1049.4C1057.7 1044.7 1058.3 1039.9 1059 1035C1059.7 1030.1 1060.3 1025.1 1061 1020C1061.7 1014.9 1062.3 1009.7 1063 1004.5C1063.7 999.2 1064.3 993.9 1065 988.5C1065.7 983.1 1066.3 977.6 1067 972.2C1067.7 966.7 1068.3 961.2 1069 955.8C1069.7 950.3 1070.3 944.9 1071 939.5C1071.7 934.1 1072.3 928.8 1073 923.6C1073.7 918.4 1074.3 913.2 1075 908.3C1075.7 903.4 1076.3 898.5 1077 894C1077.7 889.5 1078.3 885.1 1079 881C1079.7 877 1080.3 873.2 1081 869.7C1081.7 866.3 1082.3 863.1 1083 860.3C1083.7 857.6 1084.3 855.2 1085 853.2C1085.7 851.3 1086.3 849.7 1087 848.6C1087.7 847.5 1088.6 846.9 1089 846.6C1089.4 846.2 1089.2 846.4 1089.5 846.5C1089.8 846.6 1090.4 846.6 1091 847.2C1091.6 847.9 1092.3 849.1 1093 850.6C1093.7 852.1 1094.3 854.1 1095 856.5C1095.7 858.9 1096.3 861.7 1097 864.8C1097.7 867.9 1098.3 871.4 1099 875.1C1099.7 878.9 1100.3 883 1101 887.3C1101.7 891.6 1102.3 896.3 1103 901C1103.7 905.8 1104.3 910.7 1105 915.8C1105.7 920.9 1106.3 926.2 1107 931.5C1107.7 936.8 1108.3 942.2 1109 947.6C1109.7 953 1110.3 958.5 1111 964C1111.7 969.4 1112.3 974.9 1113 980.3C1113.7 985.8 1114.3 991.2 1115 996.5C1115.7 1001.8 1116.3 1007.1 1117 1012.3C1117.7 1017.5 1118.3 1022.6 1119 1027.6C1119.7 1032.6 1120.3 1037.5 1121 1042.3C1121.7 1047.1 1122.3 1051.8 1123 1056.3C1123.7 1060.9 1124.3 1065.4 1125 1069.7C1125.7 1074 1126.3 1078.2 1127 1082.3C1127.7 1086.4 1128.3 1090.3 1129 1094.2C1129.7 1098 1130.3 1101.7 1131 1105.3C1131.7 1108.9 1132.3 1112.4 1133 1115.8C1133.7 1119.1 1134.3 1122.4 1135 1125.5C1135.7 1128.6 1136.3 1131.7 1137 1134.6C1137.7 1137.5 1138.3 1140.3 1139 1143C1139.7 1145.7 1140.3 1148.3 1141 1150.9C1141.7 1153.4 1142.3 1155.8 1143 1158.1C1143.7 1160.5 1144.3 1162.7 1145 1164.9C1145.7 1167 1146.3 1169.1 1147 1171.1C1147.7 1173.1 1148.3 1175 1149 1176.9C1149.7 1178.7 1150 1179.7 1151 1182.2C1152 1184.7 1153.7 1188.8 1155 1191.7C1156.3 1194.6 1157.7 1197.3 1159 1199.8C1160.3 1202.3 1161.7 1204.5 1163 1206.6C1164.3 1208.8 1165.7 1210.7 1167 1212.5C1168.3 1214.3 1169.7 1215.9 1171 1217.5C1172.3 1219 1173.7 1220.4 1175 1221.7C1176.3 1223 1177.7 1224.2 1179 1225.3C1180.3 1226.4 1181.7 1227.4 1183 1228.3C1184.3 1229.2 1185.7 1230.1 1187 1230.9C1188.3 1231.7 1189.7 1232.4 1191 1233.1C1192.3 1233.7 1193.7 1234.3 1195 1234.9C1196.3 1235.5 1197.7 1236 1199 1236.5C1200.3 1237 1201.7 1237.4 1203 1237.8C1204.3 1238.2 1205.7 1238.6 1207 1239C1208.3 1239.3 1209.7 1239.6 1211 1239.9C1212.3 1240.2 1213.7 1240.5 1215 1240.7C1216.3 1241 1217.7 1241.2 1219 1241.4C1220.3 1241.6 1221.7 1241.8 1223 1242C1224.3 1242.2 1225.7 1242.4 1227 1242.5C1228.3 1242.7 1229.7 1242.8 1231 1242.9C1232.3 1243.1 1233.7 1243.2 1235 1243.3C1236.3 1243.4 1237.7 1243.5 1239 1243.6C1240.3 1243.7 1241.7 1243.8 1243 1243.9C1244.3 1243.9 1245.7 1244 1247 1244.1C1248.3 1244.1 1249.7 1244.2 1251 1244.3C1252.3 1244.3 1254.3 1244.4 1255 1244.4 L1256 1245.3 L923 1245.3 Z" fill="#ff9999"/>
<path d="M923 1244.5C923.7 1244.4 925.7 1244.4 927 1244.3C928.3 1244.3 929.7 1244.2 931 1244.1C932.3 1244.1 933.7 1244 935 1243.9C936.3 1243.8 937.7 1243.8 939 1243.7C940.3 1243.6 941.7 1243.5 943 1243.4C944.3 1243.3 945.7 1243.2 947 1243C948.3 1242.9 949.7 1242.8 951 1242.6C952.3 1242.5 953.7 1242.3 955 1242.2C956.3 1242 957.7 1241.8 959 1241.6C960.3 1241.4 961.7 1241.2 963 1240.9C964.3 1240.7 965.7 1240.4 967 1240.1C968.3 1239.9 969.7 1239.6 971 1239.2C972.3 1238.9 973.7 1238.5 975 1238.1C976.3 1237.7 977.7 1237.3 979 1236.8C980.3 1236.4 981.7 1235.9 983 1235.3C984.3 1234.8 985.7 1234.2 987 1233.6C988.3 1232.9 989.7 1232.2 991 1231.5C992.3 1230.7 993.7 1229.9 995 1229C996.3 1228.1 997.7 1227.1 999 1226.1C1000.3 1225 1001.7 1223.9 1003 1222.6C1004.3 1221.4 1005.7 1220 1007 1218.6C1008.3 1217.1 1009.7 1215.5 1011 1213.8C1012.3 1212.1 1013.7 1210.2 1015 1208.2C1016.3 1206.2 1017.7 1204 1019 1201.6C1020.3 1199.2 1021.7 1196.7 1023 1193.8C1024.3 1191 1025.7 1188 1027 1184.7C1028.3 1181.4 1030 1176.8 1031 1174.1C1032 1171.3 1032.3 1170.1 1033 1168.1C1033.7 1166 1034.3 1163.8 1035 1161.6C1035.7 1159.3 1036.3 1157 1037 1154.6C1037.7 1152.1 1038.3 1149.6 1039 1147C1039.7 1144.4 1040.3 1141.7 1041 1138.9C1041.7 1136.1 1042.3 1133.1 1043 1130.1C1043.7 1127.1 1044.3 1124 1045 1120.7C1045.7 1117.5 1046.3 1114.1 1047 1110.6C1047.7 1107.1 1048.3 1103.6 1049 1099.8C1049.7 1096.1 1050.3 1092.3 1051 1088.3C1051.7 1084.4 1052.3 1080.3 1053 1076.1C1053.7 1071.9 1054.3 1067.6 1055 1063.1C1055.7 1058.7 1056.3 1054.1 1057 1049.4C1057.7 1044.7 1058.3 1039.9 1059 1035C1059.7 1030.1 1060.3 1025.1 1061 1020C1061.7 1014.9 1062.3 1009.7 1063 1004.5C1063.7 999.2 1064.3 993.9 1065 988.5C1065.7 983.1 1066.3 977.6 1067 972.2C1067.7 966.7 1068.3 961.2 1069 955.8C1069.7 950.3 1070.3 944.9 1071 939.5C1071.7 934.1 1072.3 928.8 1073 923.6C1073.7 918.4 1074.3 913.2 1075 908.3C1075.7 903.4 1076.3 898.5 1077 894C1077.7 889.5 1078.3 885.1 1079 881C1079.7 877 1080.3 873.2 1081 869.7C1081.7 866.3 1082.3 863.1 1083 860.3C1083.7 857.6 1084.3 855.2 1085 853.2C1085.7 851.3 1086.3 849.7 1087 848.6C1087.7 847.5 1088.6 846.9 1089 846.6C1089.4 846.2 1089.2 846.4 1089.5 846.5C1089.8 846.6 1090.4 846.6 1091 847.2C1091.6 847.9 1092.3 849.1 1093 850.6C1093.7 852.1 1094.3 854.1 1095 856.5C1095.7 858.9 1096.3 861.7 1097 864.8C1097.7 867.9 1098.3 871.4 1099 875.1C1099.7 878.9 1100.3 883 1101 887.3C1101.7 891.6 1102.3 896.3 1103 901C1103.7 905.8 1104.3 910.7 1105 915.8C1105.7 920.9 1106.3 926.2 1107 931.5C1107.7 936.8 1108.3 942.2 1109 947.6C1109.7 953 1110.3 958.5 1111 964C1111.7 969.4 1112.3 974.9 1113 980.3C1113.7 985.8 1114.3 991.2 1115 996.5C1115.7 1001.8 1116.3 1007.1 1117 1012.3C1117.7 1017.5 1118.3 1022.6 1119 1027.6C1119.7 1032.6 1120.3 1037.5 1121 1042.3C1121.7 1047.1 1122.3 1051.8 1123 1056.3C1123.7 1060.9 1124.3 1065.4 1125 1069.7C1125.7 1074 1126.3 1078.2 1127 1082.3C1127.7 1086.4 1128.3 1090.3 1129 1094.2C1129.7 1098 1130.3 1101.7 1131 1105.3C1131.7 1108.9 1132.3 1112.4 1133 1115.8C1133.7 1119.1 1134.3 1122.4 1135 1125.5C1135.7 1128.6 1136.3 1131.7 1137 1134.6C1137.7 1137.5 1138.3 1140.3 1139 1143C1139.7 1145.7 1140.3 1148.3 1141 1150.9C1141.7 1153.4 1142.3 1155.8 1143 1158.1C1143.7 1160.5 1144.3 1162.7 1145 1164.9C1145.7 1167 1146.3 1169.1 1147 1171.1C1147.7 1173.1 1148.3 1175 1149 1176.9C1149.7 1178.7 1150 1179.7 1151 1182.2C1152 1184.7 1153.7 1188.8 1155 1191.7C1156.3 1194.6 1157.7 1197.3 1159 1199.8C1160.3 1202.3 1161.7 1204.5 1163 1206.6C1164.3 1208.8 1165.7 1210.7 1167 1212.5C1168.3 1214.3 1169.7 1215.9 1171 1217.5C1172.3 1219 1173.7 1220.4 1175 1221.7C1176.3 1223 1177.7 1224.2 1179 1225.3C1180.3 1226.4 1181.7 1227.4 1183 1228.3C1184.3 1229.2 1185.7 1230.1 1187 1230.9C1188.3 1231.7 1189.7 1232.4 1191 1233.1C1192.3 1233.7 1193.7 1234.3 1195 1234.9C1196.3 1235.5 1197.7 1236 1199 1236.5C1200.3 1237 1201.7 1237.4 1203 1237.8C1204.3 1238.2 1205.7 1238.6 1207 1239C1208.3 1239.3 1209.7 1239.6 1211 1239.9C1212.3 1240.2 1213.7 1240.5 1215 1240.7C1216.3 1241 1217.7 1241.2 1219 1241.4C1220.3 1241.6 1221.7 1241.8 1223 1242C1224.3 1242.2 1225.7 1242.4 1227 1242.5C1228.3 1242.7 1229.7 1242.8 1231 1242.9C1232.3 1243.1 1233.7 1243.2 1235 1243.3C1236.3 1243.4 1237.7 1243.5 1239 1243.6C1240.3 1243.7 1241.7 1243.8 1243 1243.9C1244.3 1243.9 1245.7 1244 1247 1244.1C1248.3 1244.1 1249.7 1244.2 1251 1244.3C1252.3 1244.3 1254.3 1244.4 1255 1244.4" fill="none" stroke="#ff2222" stroke-width="3.5" stroke-linejoin="round"/>
<path d="M1086.9 1245.3 L1088.2 1190 L1088.9 1120 L1089.2 1077 L1089.7 1077 L1090.1 1120 L1090.9 1190 L1092.3 1245.3 Z" fill="#000"/>
</g>
<path d="M1117 1217 L1170 1159" stroke="#000" stroke-width="4.6" fill="none"/>
<path d="M1180 1148 L1173.6 1167.4 L1161.2 1156 Z" fill="#000"/>
<rect x="774.4" y="801" width="623.4" height="444.3" fill="none" stroke="#000" stroke-width="2.7"/>
<path d="M861.7 1245.3v-7.5M1034.6 1245.3v-7.5M1207.5 1245.3v-7.5M1380.4 1245.3v-7.5M774.4 998h7.5M774.4 1245.3h7.5M1397.8 1245.3h-7.5M1397.8 1146.6h-7.5M1397.8 1047.9h-7.5M1397.8 949.2h-7.5M1397.8 850.5h-7.5" stroke="#000" stroke-width="2.7" fill="none"/>
<g class="dv" font-size="33">
<text x="763.5" y="1257.5" text-anchor="end">0</text>
<text x="763.5" y="1010.2" text-anchor="end">1</text>
<text x="1408.5" y="1257.7">0</text>
<text x="1408.5" y="1159">2</text>
<text x="1408.5" y="1060.3">4</text>
<text x="1408.5" y="961.6">6</text>
<text x="1408.5" y="862.9">8</text>
<text x="861.5" y="1280.6" text-anchor="middle" textLength="65.6" lengthAdjust="spacing">500</text>
<text x="1034.4" y="1280.6" text-anchor="middle" textLength="65.6" lengthAdjust="spacing">600</text>
<text x="1207.3" y="1280.6" text-anchor="middle" textLength="65.6" lengthAdjust="spacing">700</text>
<text x="1380.2" y="1280.6" text-anchor="middle" textLength="65.6" lengthAdjust="spacing">800</text>
</g>
<text x="937.2" y="1320.3" font-size="32" class="dv" textLength="297.2" lengthAdjust="spacing">Wavelength (nm)</text>
<text transform="translate(727 1192.9) rotate(-90)" font-size="32" class="dv" textLength="336" lengthAdjust="spacing">PL intensity (x 10<tspan dy="-11" font-size="22">3</tspan><tspan dy="11">)</tspan></text>
<text transform="translate(1440.6 898.3) rotate(90)" font-size="32" class="dv" textLength="248.1" lengthAdjust="spacing">Number (x100)</text>
<text x="785.5" y="849.5" font-size="64" class="se" stroke="#000" stroke-width="1.5" stroke-linejoin="round">g</text>
<text x="1067.3" y="834.8" font-size="51" class="si" fill="#c00000">ω</text><text x="1106" y="845" font-size="36" class="se" fill="#c00000">0</text>
<rect x="1152.3" y="809.6" width="229.3" height="259.6" fill="#fff"/>
<g fill="#0076bc" stroke="#06395c" stroke-width="0.7">
<rect x="1236" y="1066.2" width="13" height="3" stroke="none"/>
<rect x="1249" y="1032" width="13.5" height="37.2"/>
<rect x="1262.5" y="914" width="13.5" height="155.2"/>
<rect x="1276" y="821" width="13.5" height="248.2"/>
<rect x="1289.6" y="883" width="13.5" height="186.2"/>
<rect x="1303" y="985" width="13.5" height="84.2"/>
<rect x="1316.5" y="984.6" width="13.5" height="84.6"/>
<rect x="1330" y="1049" width="13.5" height="20.2"/>
</g>
<path d="M1215 1068.1C1215.4 1068 1216.7 1068 1217.5 1068C1218.3 1067.9 1219.2 1067.9 1220 1067.8C1220.8 1067.7 1221.7 1067.7 1222.5 1067.6C1223.3 1067.5 1224.2 1067.3 1225 1067.2C1225.8 1067 1226.7 1066.9 1227.5 1066.6C1228.3 1066.4 1229.2 1066.1 1230 1065.8C1230.8 1065.5 1231.7 1065.1 1232.5 1064.6C1233.3 1064.2 1234.2 1063.6 1235 1063C1235.8 1062.3 1236.7 1061.6 1237.5 1060.7C1238.3 1059.8 1239.2 1058.8 1240 1057.6C1240.8 1056.4 1241.7 1055.1 1242.5 1053.5C1243.3 1052 1244.2 1050.2 1245 1048.2C1245.8 1046.2 1246.7 1044 1247.5 1041.5C1248.3 1039 1249.2 1036.2 1250 1033.1C1250.8 1030 1251.7 1026.7 1252.5 1023C1253.3 1019.3 1254.2 1015.3 1255 1011C1255.8 1006.7 1256.7 1002 1257.5 997.1C1258.3 992.2 1259.2 986.9 1260 981.4C1260.8 975.9 1261.7 970.1 1262.5 964.2C1263.3 958.3 1264.2 952.1 1265 945.9C1265.8 939.6 1266.7 933.2 1267.5 926.9C1268.3 920.6 1269.2 914.1 1270 907.9C1270.8 901.7 1271.7 895.5 1272.5 889.7C1273.3 883.8 1274.2 878.1 1275 873C1275.8 867.8 1276.7 862.8 1277.5 858.5C1278.3 854.2 1279.2 850.3 1280 847.1C1280.8 843.9 1281.7 841.3 1282.5 839.3C1283.3 837.4 1284.2 836.1 1285 835.5C1285.8 835 1286.7 835.1 1287.5 836C1288.3 836.8 1289.2 838.4 1290 840.6C1290.8 842.8 1291.7 845.7 1292.5 849.1C1293.3 852.6 1294.2 856.7 1295 861.2C1295.8 865.7 1296.7 870.8 1297.5 876.1C1298.3 881.5 1299.2 887.3 1300 893.2C1300.8 899.1 1301.7 905.4 1302.5 911.7C1303.3 917.9 1304.2 924.4 1305 930.7C1305.8 937 1306.7 943.4 1307.5 949.6C1308.3 955.8 1309.2 961.9 1310 967.8C1310.8 973.6 1311.7 979.3 1312.5 984.7C1313.3 990.1 1314.2 995.2 1315 1000C1315.8 1004.8 1316.7 1009.3 1317.5 1013.5C1318.3 1017.7 1319.2 1021.6 1320 1025.2C1320.8 1028.7 1321.7 1032 1322.5 1034.9C1323.3 1037.9 1324.2 1040.5 1325 1042.9C1325.8 1045.4 1326.7 1047.5 1327.5 1049.4C1328.3 1051.3 1329.2 1052.9 1330 1054.4C1330.8 1055.9 1331.7 1057.2 1332.5 1058.3C1333.3 1059.4 1334.2 1060.4 1335 1061.2C1335.8 1062.1 1336.7 1062.7 1337.5 1063.4C1338.3 1064 1339.2 1064.5 1340 1064.9C1340.8 1065.3 1341.7 1065.7 1342.5 1066C1343.3 1066.3 1344.2 1066.5 1345 1066.8C1345.8 1067 1346.7 1067.1 1347.5 1067.3C1348.3 1067.4 1349.2 1067.5 1350 1067.6C1350.8 1067.7 1351.7 1067.8 1352.5 1067.8C1353.3 1067.9 1354.2 1067.9 1355 1068C1355.8 1068 1356.7 1068 1357.5 1068.1C1358.3 1068.1 1359.6 1068.1 1360 1068.1" fill="none" stroke="#000" stroke-width="2" stroke-dasharray="6.5 3.2"/>
<rect x="1152.3" y="809.6" width="229.3" height="259.6" fill="none" stroke="#000" stroke-width="2.4"/>
<path d="M1190 1069.2v-4.5M1266.6 1069.2v-4.5M1343 1069.2v-4.5M1152.3 849.6h4.5M1152.3 923h4.5M1152.3 996h4.5" stroke="#000" stroke-width="2" fill="none"/>
<g class="dv" font-size="26.5">
<text x="1191" y="1093.6" text-anchor="middle" textLength="53.7" lengthAdjust="spacing">630</text>
<text x="1267" y="1093.6" text-anchor="middle" textLength="53.7" lengthAdjust="spacing">632</text>
<text x="1343.5" y="1093.6" text-anchor="middle" textLength="53.7" lengthAdjust="spacing">634</text>
<text x="1160.5" y="859.4">3</text>
<text x="1160.5" y="932.8">2</text>
<text x="1160.5" y="1005.8">1</text>
</g>
<text x="1224.9" y="1131" font-size="30" class="di" textLength="102" lengthAdjust="spacing">λ (nm)</text>
<text transform="translate(1211.5 919) rotate(-90)" text-anchor="middle" font-size="31" class="ds"><tspan font-style="italic">N</tspan> (× 100)</text>
</g>
</svg>
</body></html>
